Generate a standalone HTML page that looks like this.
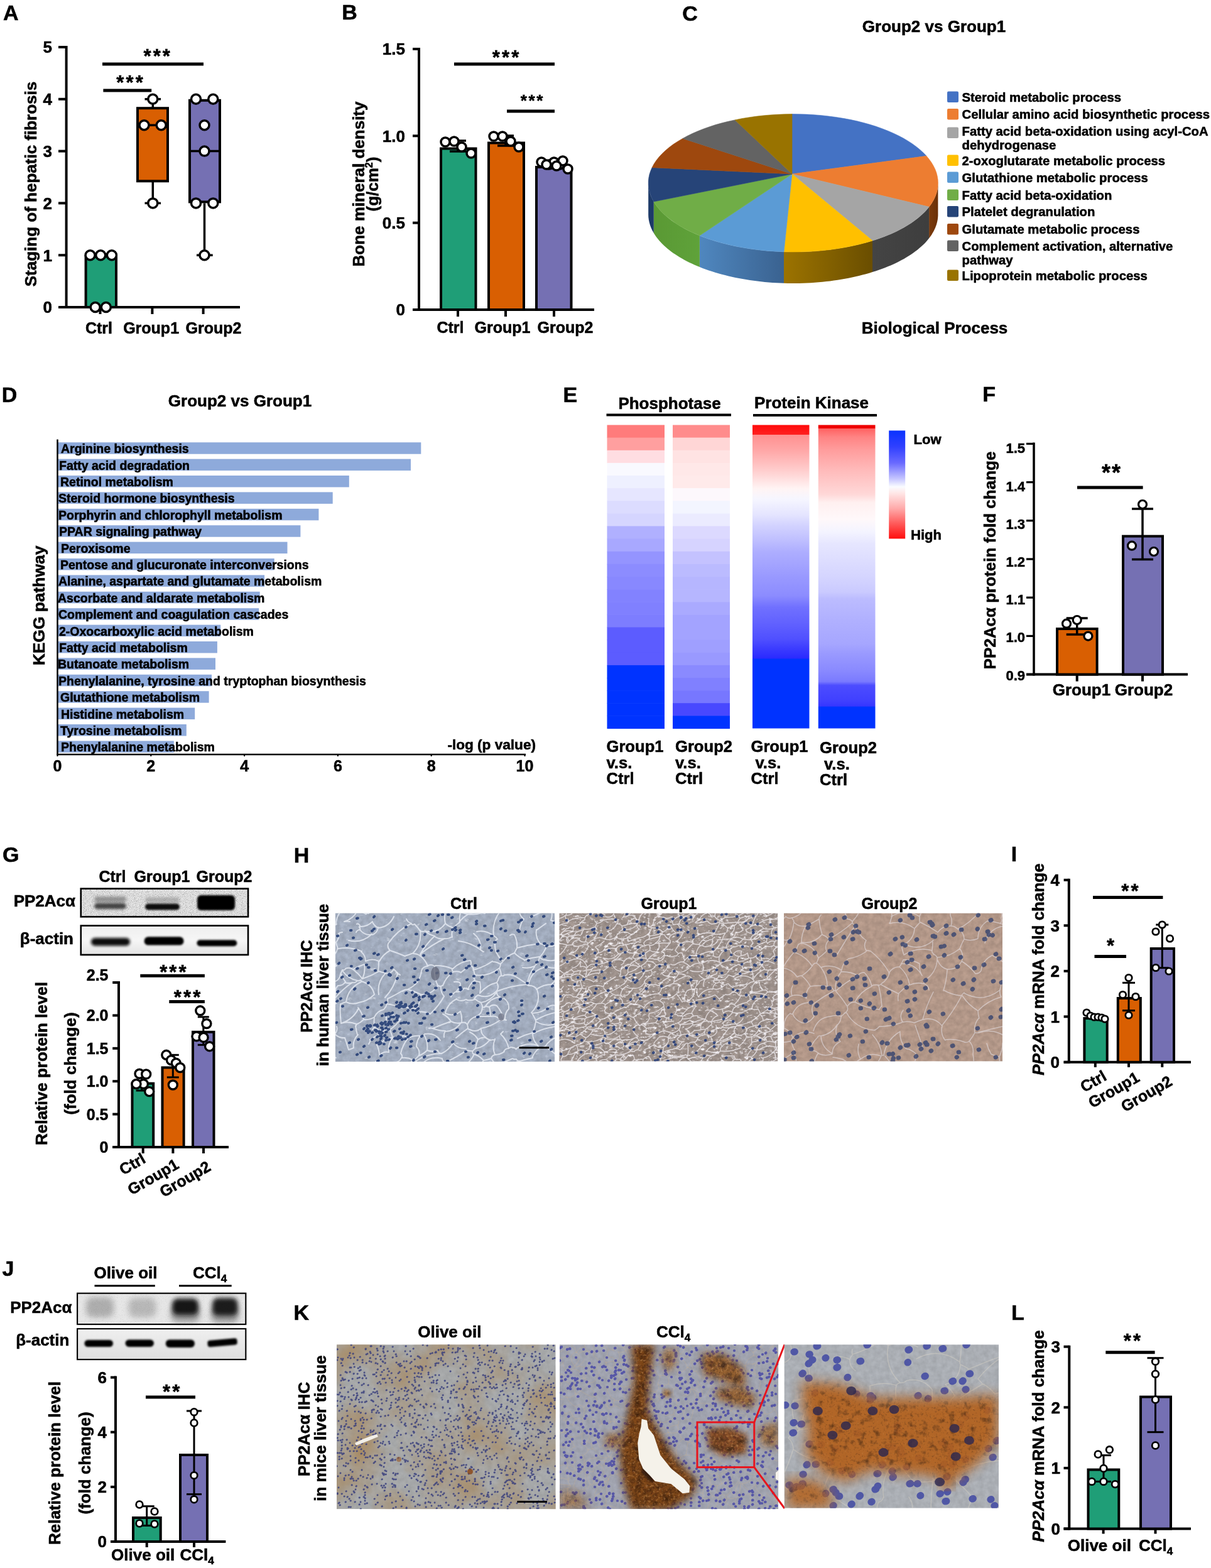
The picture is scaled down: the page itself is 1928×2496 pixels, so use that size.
<!DOCTYPE html>
<html><head><meta charset="utf-8"><title>Figure</title>
<style>html,body{margin:0;padding:0;background:#fff;}svg{display:block;}</style></head>
<body><svg width="1928" height="2496" viewBox="0 0 1928 2496" font-family="'Liberation Sans', Arial, sans-serif">
<style>text{stroke:#000;stroke-width:0.55px;paint-order:stroke;}</style>
<defs><linearGradient id="pg1" gradientUnits="userSpaceOnUse" x1="1479.1" y1="0" x2="1493.4" y2="0"><stop offset="0" stop-color="#7a3a0c"/><stop offset="1" stop-color="#6a3008"/></linearGradient>
<linearGradient id="pg2" gradientUnits="userSpaceOnUse" x1="1389.0" y1="0" x2="1479.1" y2="0"><stop offset="0" stop-color="#444444"/><stop offset="1" stop-color="#3e3e3e"/></linearGradient>
<linearGradient id="pg3" gradientUnits="userSpaceOnUse" x1="1248.0" y1="0" x2="1389.0" y2="0"><stop offset="0" stop-color="#9c7300"/><stop offset="1" stop-color="#6a4e00"/></linearGradient>
<linearGradient id="pg4" gradientUnits="userSpaceOnUse" x1="1113.9" y1="0" x2="1248.0" y2="0"><stop offset="0" stop-color="#4f87bf"/><stop offset="1" stop-color="#3a6290"/></linearGradient>
<linearGradient id="pg5" gradientUnits="userSpaceOnUse" x1="1040.8" y1="0" x2="1113.9" y2="0"><stop offset="0" stop-color="#5a9934"/><stop offset="1" stop-color="#5fa23a"/></linearGradient>
<linearGradient id="pg6" gradientUnits="userSpaceOnUse" x1="1032.2" y1="0" x2="1040.8" y2="0"><stop offset="0" stop-color="#1d3a68"/><stop offset="1" stop-color="#1d3a68"/></linearGradient>
<linearGradient id="hm3" x1="0" y1="0" x2="0" y2="1"><stop offset="0.0000" stop-color="#ff0a0a"/><stop offset="0.0311" stop-color="#ff2020"/><stop offset="0.0331" stop-color="#ff9090"/><stop offset="0.0859" stop-color="#ffa8a8"/><stop offset="0.1542" stop-color="#ffd0d0"/><stop offset="0.2101" stop-color="#fff4f4"/><stop offset="0.2433" stop-color="#f6f6ff"/><stop offset="0.2971" stop-color="#e4e4ff"/><stop offset="0.3282" stop-color="#d4d4ff"/><stop offset="0.3861" stop-color="#bcbcff"/><stop offset="0.4172" stop-color="#aeaeff"/><stop offset="0.5041" stop-color="#9898ff"/><stop offset="0.5621" stop-color="#8c8cff"/><stop offset="0.6014" stop-color="#7070ff"/><stop offset="0.6511" stop-color="#6262ff"/><stop offset="0.7050" stop-color="#5050ff"/><stop offset="0.7402" stop-color="#3a3aff"/><stop offset="0.7692" stop-color="#2a2aff"/><stop offset="0.7712" stop-color="#0033ff"/><stop offset="1.0000" stop-color="#0033ff"/></linearGradient>
<linearGradient id="hm4" x1="0" y1="0" x2="0" y2="1"><stop offset="0.0000" stop-color="#ee0000"/><stop offset="0.0104" stop-color="#ee0000"/><stop offset="0.0124" stop-color="#ff6262"/><stop offset="0.0404" stop-color="#ff8484"/><stop offset="0.0810" stop-color="#ff9c9c"/><stop offset="0.1480" stop-color="#ffbaba"/><stop offset="0.2288" stop-color="#ffd8d8"/><stop offset="0.2557" stop-color="#fff0f0"/><stop offset="0.3106" stop-color="#fff8fa"/><stop offset="0.3509" stop-color="#f4f4ff"/><stop offset="0.3915" stop-color="#e6e6ff"/><stop offset="0.5041" stop-color="#d4d4ff"/><stop offset="0.5509" stop-color="#cacaff"/><stop offset="0.5725" stop-color="#bcbcff"/><stop offset="0.6449" stop-color="#b0b0ff"/><stop offset="0.7215" stop-color="#a6a6ff"/><stop offset="0.7526" stop-color="#9a9aff"/><stop offset="0.8075" stop-color="#8a8aff"/><stop offset="0.8458" stop-color="#7a7aff"/><stop offset="0.8582" stop-color="#4c4cff"/><stop offset="0.9099" stop-color="#4040ff"/><stop offset="0.9265" stop-color="#3636ff"/><stop offset="0.9296" stop-color="#0033ff"/><stop offset="1.0000" stop-color="#0033ff"/></linearGradient>
<linearGradient id="cbar" x1="0" y1="0" x2="0" y2="1"><stop offset="0" stop-color="#0a33ff"/><stop offset="0.15" stop-color="#3040ff"/><stop offset="0.3" stop-color="#6a6aff"/><stop offset="0.45" stop-color="#c8c8ff"/><stop offset="0.52" stop-color="#fafcff"/><stop offset="0.58" stop-color="#ffe6e6"/><stop offset="0.72" stop-color="#ffaaaa"/><stop offset="0.86" stop-color="#ff5a5a"/><stop offset="1" stop-color="#ff0d0d"/></linearGradient>
<filter id="bl2" x="-30%" y="-60%" width="160%" height="220%"><feGaussianBlur stdDeviation="2.2"/></filter>
<filter id="bl3" x="-30%" y="-60%" width="160%" height="220%"><feGaussianBlur stdDeviation="3.2"/></filter>
<filter id="bl15" x="-30%" y="-60%" width="160%" height="220%"><feGaussianBlur stdDeviation="1.5"/></filter>
<filter id="nz1" filterUnits="userSpaceOnUse" x="127.5" y="1413.3" width="268.8" height="47.3" color-interpolation-filters="sRGB"><feTurbulence type="fractalNoise" baseFrequency="0.7" numOctaves="2" seed="5"/><feColorMatrix type="matrix" values="0 0 0 0 1.000 0 0 0 0 1.000 0 0 0 0 1.000 1.4 0 0 0 -0.55"/></filter>
<filter id="nz2" filterUnits="userSpaceOnUse" x="127.5" y="1413.3" width="268.8" height="47.3" color-interpolation-filters="sRGB"><feTurbulence type="fractalNoise" baseFrequency="0.9" numOctaves="2" seed="9"/><feColorMatrix type="matrix" values="0 0 0 0 0.000 0 0 0 0 0.000 0 0 0 0 0.000 0.9 0 0 0 -0.45"/></filter>
<linearGradient id="b2g" x1="0" y1="0" x2="0" y2="1"><stop offset="0" stop-color="#eeeeee"/><stop offset="0.5" stop-color="#f6f6f6"/><stop offset="1" stop-color="#e2e2e2"/></linearGradient>
<clipPath id="clip3"><rect x="533.8" y="1453.4" width="349.4" height="236.6"/></clipPath>
<filter id="nz4" filterUnits="userSpaceOnUse" x="533.8" y="1453.4" width="349.4" height="236.6" color-interpolation-filters="sRGB"><feTurbulence type="fractalNoise" baseFrequency="0.12" numOctaves="3" seed="18"/><feColorMatrix type="matrix" values="0 0 0 0 0.000 0 0 0 0 0.000 0 0 0 0 0.000 0.2 0 0 0 -0.03"/></filter>
<filter id="nz5" filterUnits="userSpaceOnUse" x="533.8" y="1453.4" width="349.4" height="236.6" color-interpolation-filters="sRGB"><feTurbulence type="turbulence" baseFrequency="0.08 0.128" numOctaves="3" seed="11"/><feColorMatrix type="matrix" values="0 0 0 0 0.933 0 0 0 0 0.949 0 0 0 0 0.973 1.7600000000000002 0 0 0 -1.0"/></filter>
<filter id="softb" x="-5%" y="-5%" width="110%" height="110%"><feGaussianBlur stdDeviation="0.7"/></filter>
<filter id="softn" x="-5%" y="-5%" width="110%" height="110%"><feGaussianBlur stdDeviation="0.45"/></filter>
<clipPath id="clip6"><rect x="890.3" y="1453.6" width="348.0" height="236.0"/></clipPath>
<filter id="nz7" filterUnits="userSpaceOnUse" x="890.3" y="1453.6" width="348.0" height="236.0" color-interpolation-filters="sRGB"><feTurbulence type="fractalNoise" baseFrequency="0.12" numOctaves="3" seed="19"/><feColorMatrix type="matrix" values="0 0 0 0 0.000 0 0 0 0 0.000 0 0 0 0 0.000 0.25 0 0 0 -0.03"/></filter>
<filter id="nz8" filterUnits="userSpaceOnUse" x="890.3" y="1453.6" width="348.0" height="236.0" color-interpolation-filters="sRGB"><feTurbulence type="turbulence" baseFrequency="0.13 0.20800000000000002" numOctaves="3" seed="12"/><feColorMatrix type="matrix" values="0 0 0 0 0.965 0 0 0 0 0.957 0 0 0 0 0.973 2.64 0 0 0 -1.0"/></filter>
<clipPath id="clip9"><rect x="1248.0" y="1453.6" width="348.0" height="236.0"/></clipPath>
<filter id="nz10" filterUnits="userSpaceOnUse" x="1248.0" y="1453.6" width="348.0" height="236.0" color-interpolation-filters="sRGB"><feTurbulence type="fractalNoise" baseFrequency="0.12" numOctaves="3" seed="20"/><feColorMatrix type="matrix" values="0 0 0 0 0.000 0 0 0 0 0.000 0 0 0 0 0.000 0.2 0 0 0 -0.03"/></filter>
<filter id="nz11" filterUnits="userSpaceOnUse" x="1248.0" y="1453.6" width="348.0" height="236.0" color-interpolation-filters="sRGB"><feTurbulence type="turbulence" baseFrequency="0.06 0.096" numOctaves="3" seed="13"/><feColorMatrix type="matrix" values="0 0 0 0 0.910 0 0 0 0 0.894 0 0 0 0 0.918 0.8800000000000001 0 0 0 -1.0"/></filter>
<filter id="bl5" x="-30%" y="-60%" width="160%" height="220%"><feGaussianBlur stdDeviation="5"/></filter>
<filter id="bl4" x="-30%" y="-60%" width="160%" height="220%"><feGaussianBlur stdDeviation="3.5"/></filter>
<filter id="nz12" filterUnits="userSpaceOnUse" x="122.1" y="2057.6" width="270.3" height="51.5" color-interpolation-filters="sRGB"><feTurbulence type="fractalNoise" baseFrequency="0.9" numOctaves="2" seed="21"/><feColorMatrix type="matrix" values="0 0 0 0 0.000 0 0 0 0 0.000 0 0 0 0 0.000 0.35 0 0 0 -0.2"/></filter>
<linearGradient id="j2g" x1="0" y1="0" x2="0" y2="1"><stop offset="0" stop-color="#f0f0f0"/><stop offset="1" stop-color="#dedede"/></linearGradient>
<clipPath id="clip13"><rect x="536.0" y="2140.3" width="348.7" height="262.0"/></clipPath>
<filter id="nz14" filterUnits="userSpaceOnUse" x="536.0" y="2140.3" width="348.7" height="262.0" color-interpolation-filters="sRGB"><feTurbulence type="fractalNoise" baseFrequency="0.12" numOctaves="3" seed="28"/><feColorMatrix type="matrix" values="0 0 0 0 0.000 0 0 0 0 0.000 0 0 0 0 0.000 0.12 0 0 0 -0.03"/></filter>
<filter id="nz15" filterUnits="userSpaceOnUse" x="536.0" y="2140.3" width="348.7" height="262.0" color-interpolation-filters="sRGB"><feTurbulence type="turbulence" baseFrequency="0.03 0.048" numOctaves="3" seed="21"/><feColorMatrix type="matrix" values="0 0 0 0 0.761 0 0 0 0 0.604 0 0 0 0 0.400 0.8800000000000001 0 0 0 -1.0"/></filter>
<filter id="nz16" filterUnits="userSpaceOnUse" x="536.0" y="2140.3" width="348.7" height="262.0" color-interpolation-filters="sRGB"><feTurbulence type="fractalNoise" baseFrequency="0.015" numOctaves="3" seed="78"/><feColorMatrix type="matrix" values="0 0 0 0 0.659 0 0 0 0 0.541 0 0 0 0 0.384 1.7 0 0 0 -0.6"/></filter>
<clipPath id="clip17"><rect x="891.0" y="2140.3" width="348.3" height="262.0"/></clipPath>
<filter id="nz18" filterUnits="userSpaceOnUse" x="891.0" y="2140.3" width="348.3" height="262.0" color-interpolation-filters="sRGB"><feTurbulence type="fractalNoise" baseFrequency="0.12" numOctaves="3" seed="29"/><feColorMatrix type="matrix" values="0 0 0 0 0.000 0 0 0 0 0.000 0 0 0 0 0.000 0.15 0 0 0 -0.03"/></filter>
<filter id="nz19" filterUnits="userSpaceOnUse" x="891.0" y="2140.3" width="348.3" height="262.0" color-interpolation-filters="sRGB"><feTurbulence type="turbulence" baseFrequency="0.04 0.064" numOctaves="3" seed="22"/><feColorMatrix type="matrix" values="0 0 0 0 0.824 0 0 0 0 0.706 0 0 0 0 0.529 1.1 0 0 0 -1.0"/></filter>
<filter id="mb20" x="-20%" y="-20%" width="140%" height="140%"><feGaussianBlur stdDeviation="6"/></filter>
<mask id="mk20" maskUnits="userSpaceOnUse" x="891" y="2140.3" width="348.3" height="262"><path d="M1004.5,2140.3 L1042.9,2140.3 L1034.4,2199.0 L1032.2,2246.0 L1051.5,2282.2 L1077.1,2322.8 L1111.2,2356.9 L1102.7,2380.4 L1066.4,2403.9 L1004.5,2403.9 L991.7,2359.1 L985.3,2310.0 L996.0,2263.0 L1008.8,2199.0Z" fill="#fff" filter="url(#mb20)"/></mask>
<filter id="nz21" filterUnits="userSpaceOnUse" x="891.0" y="2140.3" width="348.3" height="262.0" color-interpolation-filters="sRGB"><feTurbulence type="fractalNoise" baseFrequency="0.09" numOctaves="3" seed="31"/><feColorMatrix type="matrix" values="0 0 0 0 0.227 0 0 0 0 0.102 0 0 0 0 0.016 2.4 0 0 0 -1.05"/></filter>
<filter id="nz22" filterUnits="userSpaceOnUse" x="891.0" y="2140.3" width="348.3" height="262.0" color-interpolation-filters="sRGB"><feTurbulence type="fractalNoise" baseFrequency="0.3" numOctaves="2" seed="36"/><feColorMatrix type="matrix" values="0 0 0 0 0.227 0 0 0 0 0.102 0 0 0 0 0.016 1.6 0 0 0 -0.75"/></filter>
<filter id="nz23" filterUnits="userSpaceOnUse" x="891.0" y="2140.3" width="348.3" height="262.0" color-interpolation-filters="sRGB"><feTurbulence type="fractalNoise" baseFrequency="0.25" numOctaves="2" seed="34"/><feColorMatrix type="matrix" values="0 0 0 0 0.847 0 0 0 0 0.604 0 0 0 0 0.345 1.8 0 0 0 -1.0"/></filter>
<filter id="mb24" x="-20%" y="-20%" width="140%" height="140%"><feGaussianBlur stdDeviation="6"/></filter>
<mask id="mk24" maskUnits="userSpaceOnUse" x="891" y="2140.3" width="348.3" height="262"><path d="M1115.5,2154.2 L1151.8,2154.2 L1183.8,2177.7 L1188.0,2205.4 L1173.1,2207.6 L1151.8,2199.0 L1119.7,2188.4Z" fill="#fff" filter="url(#mb24)"/></mask>
<filter id="nz25" filterUnits="userSpaceOnUse" x="891.0" y="2140.3" width="348.3" height="262.0" color-interpolation-filters="sRGB"><feTurbulence type="fractalNoise" baseFrequency="0.09" numOctaves="3" seed="32"/><feColorMatrix type="matrix" values="0 0 0 0 0.227 0 0 0 0 0.102 0 0 0 0 0.016 2.4 0 0 0 -1.05"/></filter>
<filter id="nz26" filterUnits="userSpaceOnUse" x="891.0" y="2140.3" width="348.3" height="262.0" color-interpolation-filters="sRGB"><feTurbulence type="fractalNoise" baseFrequency="0.3" numOctaves="2" seed="37"/><feColorMatrix type="matrix" values="0 0 0 0 0.227 0 0 0 0 0.102 0 0 0 0 0.016 1.6 0 0 0 -0.75"/></filter>
<filter id="nz27" filterUnits="userSpaceOnUse" x="891.0" y="2140.3" width="348.3" height="262.0" color-interpolation-filters="sRGB"><feTurbulence type="fractalNoise" baseFrequency="0.25" numOctaves="2" seed="35"/><feColorMatrix type="matrix" values="0 0 0 0 0.847 0 0 0 0 0.604 0 0 0 0 0.345 1.8 0 0 0 -1.0"/></filter>
<filter id="mb28" x="-20%" y="-20%" width="140%" height="140%"><feGaussianBlur stdDeviation="6"/></filter>
<mask id="mk28" maskUnits="userSpaceOnUse" x="891" y="2140.3" width="348.3" height="262"><path d="M1141.1,2209.7 L1179.5,2205.4 L1205.1,2224.6 L1196.6,2241.7 L1162.4,2235.3 L1138.9,2224.6Z" fill="#fff" filter="url(#mb28)"/></mask>
<filter id="nz29" filterUnits="userSpaceOnUse" x="891.0" y="2140.3" width="348.3" height="262.0" color-interpolation-filters="sRGB"><feTurbulence type="fractalNoise" baseFrequency="0.09" numOctaves="3" seed="33"/><feColorMatrix type="matrix" values="0 0 0 0 0.227 0 0 0 0 0.102 0 0 0 0 0.016 2.4 0 0 0 -1.05"/></filter>
<filter id="nz30" filterUnits="userSpaceOnUse" x="891.0" y="2140.3" width="348.3" height="262.0" color-interpolation-filters="sRGB"><feTurbulence type="fractalNoise" baseFrequency="0.3" numOctaves="2" seed="38"/><feColorMatrix type="matrix" values="0 0 0 0 0.227 0 0 0 0 0.102 0 0 0 0 0.016 1.6 0 0 0 -0.75"/></filter>
<filter id="nz31" filterUnits="userSpaceOnUse" x="891.0" y="2140.3" width="348.3" height="262.0" color-interpolation-filters="sRGB"><feTurbulence type="fractalNoise" baseFrequency="0.25" numOctaves="2" seed="36"/><feColorMatrix type="matrix" values="0 0 0 0 0.847 0 0 0 0 0.604 0 0 0 0 0.345 1.8 0 0 0 -1.0"/></filter>
<filter id="mb32" x="-20%" y="-20%" width="140%" height="140%"><feGaussianBlur stdDeviation="5"/></filter>
<mask id="mk32" maskUnits="userSpaceOnUse" x="891" y="2140.3" width="348.3" height="262"><path d="M1124.0,2273.7 L1162.4,2271.6 L1190.2,2284.4 L1188.0,2314.3 L1151.8,2318.5 L1128.3,2305.7Z" fill="#fff" filter="url(#mb32)"/></mask>
<filter id="nz33" filterUnits="userSpaceOnUse" x="891.0" y="2140.3" width="348.3" height="262.0" color-interpolation-filters="sRGB"><feTurbulence type="fractalNoise" baseFrequency="0.09" numOctaves="3" seed="34"/><feColorMatrix type="matrix" values="0 0 0 0 0.227 0 0 0 0 0.102 0 0 0 0 0.016 2.4 0 0 0 -1.05"/></filter>
<filter id="nz34" filterUnits="userSpaceOnUse" x="891.0" y="2140.3" width="348.3" height="262.0" color-interpolation-filters="sRGB"><feTurbulence type="fractalNoise" baseFrequency="0.3" numOctaves="2" seed="39"/><feColorMatrix type="matrix" values="0 0 0 0 0.227 0 0 0 0 0.102 0 0 0 0 0.016 1.6 0 0 0 -0.75"/></filter>
<filter id="nz35" filterUnits="userSpaceOnUse" x="891.0" y="2140.3" width="348.3" height="262.0" color-interpolation-filters="sRGB"><feTurbulence type="fractalNoise" baseFrequency="0.25" numOctaves="2" seed="37"/><feColorMatrix type="matrix" values="0 0 0 0 0.847 0 0 0 0 0.604 0 0 0 0 0.345 1.8 0 0 0 -1.0"/></filter>
<filter id="mb36" x="-20%" y="-20%" width="140%" height="140%"><feGaussianBlur stdDeviation="6"/></filter>
<mask id="mk36" maskUnits="userSpaceOnUse" x="891" y="2140.3" width="348.3" height="262"><path d="M1055.7,2147.8 L1077.1,2147.8 L1072.8,2177.7 L1060.0,2184.1 L1053.6,2167.0Z" fill="#fff" filter="url(#mb36)"/></mask>
<filter id="nz37" filterUnits="userSpaceOnUse" x="891.0" y="2140.3" width="348.3" height="262.0" color-interpolation-filters="sRGB"><feTurbulence type="fractalNoise" baseFrequency="0.09" numOctaves="3" seed="35"/><feColorMatrix type="matrix" values="0 0 0 0 0.227 0 0 0 0 0.102 0 0 0 0 0.016 2.4 0 0 0 -1.05"/></filter>
<filter id="nz38" filterUnits="userSpaceOnUse" x="891.0" y="2140.3" width="348.3" height="262.0" color-interpolation-filters="sRGB"><feTurbulence type="fractalNoise" baseFrequency="0.3" numOctaves="2" seed="40"/><feColorMatrix type="matrix" values="0 0 0 0 0.227 0 0 0 0 0.102 0 0 0 0 0.016 1.6 0 0 0 -0.75"/></filter>
<filter id="nz39" filterUnits="userSpaceOnUse" x="891.0" y="2140.3" width="348.3" height="262.0" color-interpolation-filters="sRGB"><feTurbulence type="fractalNoise" baseFrequency="0.25" numOctaves="2" seed="38"/><feColorMatrix type="matrix" values="0 0 0 0 0.847 0 0 0 0 0.604 0 0 0 0 0.345 1.8 0 0 0 -1.0"/></filter>
<filter id="mb40" x="-20%" y="-20%" width="140%" height="140%"><feGaussianBlur stdDeviation="6"/></filter>
<mask id="mk40" maskUnits="userSpaceOnUse" x="891" y="2140.3" width="348.3" height="262"><path d="M1205.1,2273.7 L1239.2,2263.0 L1239.2,2305.7 L1213.6,2301.5Z" fill="#fff" filter="url(#mb40)"/></mask>
<filter id="nz41" filterUnits="userSpaceOnUse" x="891.0" y="2140.3" width="348.3" height="262.0" color-interpolation-filters="sRGB"><feTurbulence type="fractalNoise" baseFrequency="0.09" numOctaves="3" seed="36"/><feColorMatrix type="matrix" values="0 0 0 0 0.227 0 0 0 0 0.102 0 0 0 0 0.016 2.4 0 0 0 -1.05"/></filter>
<filter id="nz42" filterUnits="userSpaceOnUse" x="891.0" y="2140.3" width="348.3" height="262.0" color-interpolation-filters="sRGB"><feTurbulence type="fractalNoise" baseFrequency="0.3" numOctaves="2" seed="41"/><feColorMatrix type="matrix" values="0 0 0 0 0.227 0 0 0 0 0.102 0 0 0 0 0.016 1.6 0 0 0 -0.75"/></filter>
<filter id="nz43" filterUnits="userSpaceOnUse" x="891.0" y="2140.3" width="348.3" height="262.0" color-interpolation-filters="sRGB"><feTurbulence type="fractalNoise" baseFrequency="0.25" numOctaves="2" seed="39"/><feColorMatrix type="matrix" values="0 0 0 0 0.847 0 0 0 0 0.604 0 0 0 0 0.345 1.8 0 0 0 -1.0"/></filter>
<filter id="mb44" x="-20%" y="-20%" width="140%" height="140%"><feGaussianBlur stdDeviation="6"/></filter>
<mask id="mk44" maskUnits="userSpaceOnUse" x="891" y="2140.3" width="348.3" height="262"><path d="M961.8,2284.4 L987.4,2280.1 L991.7,2301.5 L966.1,2305.7Z" fill="#fff" filter="url(#mb44)"/></mask>
<filter id="nz45" filterUnits="userSpaceOnUse" x="891.0" y="2140.3" width="348.3" height="262.0" color-interpolation-filters="sRGB"><feTurbulence type="fractalNoise" baseFrequency="0.09" numOctaves="3" seed="37"/><feColorMatrix type="matrix" values="0 0 0 0 0.227 0 0 0 0 0.102 0 0 0 0 0.016 2.4 0 0 0 -1.05"/></filter>
<filter id="nz46" filterUnits="userSpaceOnUse" x="891.0" y="2140.3" width="348.3" height="262.0" color-interpolation-filters="sRGB"><feTurbulence type="fractalNoise" baseFrequency="0.3" numOctaves="2" seed="42"/><feColorMatrix type="matrix" values="0 0 0 0 0.227 0 0 0 0 0.102 0 0 0 0 0.016 1.6 0 0 0 -0.75"/></filter>
<filter id="nz47" filterUnits="userSpaceOnUse" x="891.0" y="2140.3" width="348.3" height="262.0" color-interpolation-filters="sRGB"><feTurbulence type="fractalNoise" baseFrequency="0.25" numOctaves="2" seed="40"/><feColorMatrix type="matrix" values="0 0 0 0 0.847 0 0 0 0 0.604 0 0 0 0 0.345 1.8 0 0 0 -1.0"/></filter>
<filter id="mb48" x="-20%" y="-20%" width="140%" height="140%"><feGaussianBlur stdDeviation="8"/></filter>
<mask id="mk48" maskUnits="userSpaceOnUse" x="891" y="2140.3" width="348.3" height="262"><path d="M891.4,2369.7 L927.7,2380.4 L938.4,2401.8 L891.4,2401.8Z" fill="#fff" filter="url(#mb48)"/></mask>
<filter id="nz49" filterUnits="userSpaceOnUse" x="891.0" y="2140.3" width="348.3" height="262.0" color-interpolation-filters="sRGB"><feTurbulence type="fractalNoise" baseFrequency="0.09" numOctaves="3" seed="38"/><feColorMatrix type="matrix" values="0 0 0 0 0.227 0 0 0 0 0.102 0 0 0 0 0.016 2.4 0 0 0 -1.05"/></filter>
<filter id="nz50" filterUnits="userSpaceOnUse" x="891.0" y="2140.3" width="348.3" height="262.0" color-interpolation-filters="sRGB"><feTurbulence type="fractalNoise" baseFrequency="0.3" numOctaves="2" seed="43"/><feColorMatrix type="matrix" values="0 0 0 0 0.227 0 0 0 0 0.102 0 0 0 0 0.016 1.6 0 0 0 -0.75"/></filter>
<filter id="nz51" filterUnits="userSpaceOnUse" x="891.0" y="2140.3" width="348.3" height="262.0" color-interpolation-filters="sRGB"><feTurbulence type="fractalNoise" baseFrequency="0.25" numOctaves="2" seed="41"/><feColorMatrix type="matrix" values="0 0 0 0 0.847 0 0 0 0 0.604 0 0 0 0 0.345 1.8 0 0 0 -1.0"/></filter>
<filter id="mb52" x="-20%" y="-20%" width="140%" height="140%"><feGaussianBlur stdDeviation="3"/></filter>
<mask id="mk52" maskUnits="userSpaceOnUse" x="891" y="2140.3" width="348.3" height="262"><path d="M1055.7,2211.8 L1068.5,2214.0 L1066.4,2224.6 L1055.7,2222.5Z" fill="#fff" filter="url(#mb52)"/></mask>
<filter id="nz53" filterUnits="userSpaceOnUse" x="891.0" y="2140.3" width="348.3" height="262.0" color-interpolation-filters="sRGB"><feTurbulence type="fractalNoise" baseFrequency="0.09" numOctaves="3" seed="39"/><feColorMatrix type="matrix" values="0 0 0 0 0.227 0 0 0 0 0.102 0 0 0 0 0.016 2.4 0 0 0 -1.05"/></filter>
<filter id="nz54" filterUnits="userSpaceOnUse" x="891.0" y="2140.3" width="348.3" height="262.0" color-interpolation-filters="sRGB"><feTurbulence type="fractalNoise" baseFrequency="0.3" numOctaves="2" seed="44"/><feColorMatrix type="matrix" values="0 0 0 0 0.227 0 0 0 0 0.102 0 0 0 0 0.016 1.6 0 0 0 -0.75"/></filter>
<filter id="nz55" filterUnits="userSpaceOnUse" x="891.0" y="2140.3" width="348.3" height="262.0" color-interpolation-filters="sRGB"><feTurbulence type="fractalNoise" baseFrequency="0.25" numOctaves="2" seed="42"/><feColorMatrix type="matrix" values="0 0 0 0 0.847 0 0 0 0 0.604 0 0 0 0 0.345 1.8 0 0 0 -1.0"/></filter>
<clipPath id="clip56"><rect x="1248.5" y="2140.3" width="341.5" height="260.4"/></clipPath>
<filter id="nz57" filterUnits="userSpaceOnUse" x="1248.5" y="2140.3" width="341.5" height="260.4" color-interpolation-filters="sRGB"><feTurbulence type="fractalNoise" baseFrequency="0.12" numOctaves="3" seed="30"/><feColorMatrix type="matrix" values="0 0 0 0 0.000 0 0 0 0 0.000 0 0 0 0 0.000 0.15 0 0 0 -0.03"/></filter>
<filter id="nz58" filterUnits="userSpaceOnUse" x="1248.5" y="2140.3" width="341.5" height="260.4" color-interpolation-filters="sRGB"><feTurbulence type="turbulence" baseFrequency="0.03 0.048" numOctaves="3" seed="23"/><feColorMatrix type="matrix" values="0 0 0 0 0.894 0 0 0 0 0.863 0 0 0 0 0.800 0.66 0 0 0 -1.0"/></filter>
<filter id="mb59" x="-20%" y="-20%" width="140%" height="140%"><feGaussianBlur stdDeviation="10"/></filter>
<mask id="mk59" maskUnits="userSpaceOnUse" x="1248.5" y="2140.3" width="341.5" height="260.4"><path d="M1276.3,2199.0 L1336.0,2203.3 L1389.4,2224.6 L1453.4,2224.6 L1517.4,2224.6 L1590.0,2220.4 L1590.0,2295.1 L1560.1,2327.1 L1517.4,2359.1 L1474.7,2348.4 L1432.1,2346.3 L1389.4,2339.9 L1346.7,2359.1 L1314.7,2348.4 L1282.7,2316.4 L1286.9,2273.7 L1278.4,2241.7Z" fill="#fff" filter="url(#mb59)"/></mask>
<filter id="nz60" filterUnits="userSpaceOnUse" x="1248.5" y="2140.3" width="341.5" height="260.4" color-interpolation-filters="sRGB"><feTurbulence type="fractalNoise" baseFrequency="0.09" numOctaves="3" seed="41"/><feColorMatrix type="matrix" values="0 0 0 0 0.227 0 0 0 0 0.102 0 0 0 0 0.016 1.92 0 0 0 -1.05"/></filter>
<filter id="nz61" filterUnits="userSpaceOnUse" x="1248.5" y="2140.3" width="341.5" height="260.4" color-interpolation-filters="sRGB"><feTurbulence type="fractalNoise" baseFrequency="0.3" numOctaves="2" seed="46"/><feColorMatrix type="matrix" values="0 0 0 0 0.227 0 0 0 0 0.102 0 0 0 0 0.016 1.2800000000000002 0 0 0 -0.75"/></filter>
<filter id="nz62" filterUnits="userSpaceOnUse" x="1248.5" y="2140.3" width="341.5" height="260.4" color-interpolation-filters="sRGB"><feTurbulence type="fractalNoise" baseFrequency="0.25" numOctaves="2" seed="44"/><feColorMatrix type="matrix" values="0 0 0 0 0.847 0 0 0 0 0.604 0 0 0 0 0.345 1.4400000000000002 0 0 0 -1.0"/></filter>
<filter id="mb63" x="-20%" y="-20%" width="140%" height="140%"><feGaussianBlur stdDeviation="10"/></filter>
<mask id="mk63" maskUnits="userSpaceOnUse" x="1248.5" y="2140.3" width="341.5" height="260.4"><path d="M1252.8,2352.7 L1304.0,2356.9 L1325.4,2380.4 L1325.4,2401.8 L1252.8,2401.8Z" fill="#fff" filter="url(#mb63)"/></mask>
<filter id="nz64" filterUnits="userSpaceOnUse" x="1248.5" y="2140.3" width="341.5" height="260.4" color-interpolation-filters="sRGB"><feTurbulence type="fractalNoise" baseFrequency="0.09" numOctaves="3" seed="42"/><feColorMatrix type="matrix" values="0 0 0 0 0.227 0 0 0 0 0.102 0 0 0 0 0.016 1.92 0 0 0 -1.05"/></filter>
<filter id="nz65" filterUnits="userSpaceOnUse" x="1248.5" y="2140.3" width="341.5" height="260.4" color-interpolation-filters="sRGB"><feTurbulence type="fractalNoise" baseFrequency="0.3" numOctaves="2" seed="47"/><feColorMatrix type="matrix" values="0 0 0 0 0.227 0 0 0 0 0.102 0 0 0 0 0.016 1.2800000000000002 0 0 0 -0.75"/></filter>
<filter id="nz66" filterUnits="userSpaceOnUse" x="1248.5" y="2140.3" width="341.5" height="260.4" color-interpolation-filters="sRGB"><feTurbulence type="fractalNoise" baseFrequency="0.25" numOctaves="2" seed="45"/><feColorMatrix type="matrix" values="0 0 0 0 0.847 0 0 0 0 0.604 0 0 0 0 0.345 1.4400000000000002 0 0 0 -1.0"/></filter>
<filter id="mb67" x="-20%" y="-20%" width="140%" height="140%"><feGaussianBlur stdDeviation="8"/></filter>
<mask id="mk67" maskUnits="userSpaceOnUse" x="1248.5" y="2140.3" width="341.5" height="260.4"><path d="M1496.1,2348.4 L1517.4,2348.4 L1517.4,2369.7 L1496.1,2369.7Z" fill="#fff" filter="url(#mb67)"/></mask>
<filter id="nz68" filterUnits="userSpaceOnUse" x="1248.5" y="2140.3" width="341.5" height="260.4" color-interpolation-filters="sRGB"><feTurbulence type="fractalNoise" baseFrequency="0.09" numOctaves="3" seed="43"/><feColorMatrix type="matrix" values="0 0 0 0 0.227 0 0 0 0 0.102 0 0 0 0 0.016 1.92 0 0 0 -1.05"/></filter>
<filter id="nz69" filterUnits="userSpaceOnUse" x="1248.5" y="2140.3" width="341.5" height="260.4" color-interpolation-filters="sRGB"><feTurbulence type="fractalNoise" baseFrequency="0.3" numOctaves="2" seed="48"/><feColorMatrix type="matrix" values="0 0 0 0 0.227 0 0 0 0 0.102 0 0 0 0 0.016 1.2800000000000002 0 0 0 -0.75"/></filter>
<filter id="nz70" filterUnits="userSpaceOnUse" x="1248.5" y="2140.3" width="341.5" height="260.4" color-interpolation-filters="sRGB"><feTurbulence type="fractalNoise" baseFrequency="0.25" numOctaves="2" seed="46"/><feColorMatrix type="matrix" values="0 0 0 0 0.847 0 0 0 0 0.604 0 0 0 0 0.345 1.4400000000000002 0 0 0 -1.0"/></filter></defs>
<rect width="1928" height="2496" fill="#fff"/>
<text x="5.0" y="31.6" font-size="34" text-anchor="start" font-weight="bold" fill="#000">A</text>
<line x1="105.6" y1="73.0" x2="105.6" y2="491.0" stroke="#000" stroke-width="4" stroke-linecap="butt"/>
<line x1="93.0" y1="489.0" x2="105.6" y2="489.0" stroke="#000" stroke-width="4" stroke-linecap="butt"/>
<text x="83.0" y="498.4" font-size="26" text-anchor="end" font-weight="bold" fill="#000">0</text>
<line x1="93.0" y1="406.2" x2="105.6" y2="406.2" stroke="#000" stroke-width="4" stroke-linecap="butt"/>
<text x="83.0" y="415.6" font-size="26" text-anchor="end" font-weight="bold" fill="#000">1</text>
<line x1="93.0" y1="323.4" x2="105.6" y2="323.4" stroke="#000" stroke-width="4" stroke-linecap="butt"/>
<text x="83.0" y="332.8" font-size="26" text-anchor="end" font-weight="bold" fill="#000">2</text>
<line x1="93.0" y1="240.6" x2="105.6" y2="240.6" stroke="#000" stroke-width="4" stroke-linecap="butt"/>
<text x="83.0" y="250.0" font-size="26" text-anchor="end" font-weight="bold" fill="#000">3</text>
<line x1="93.0" y1="157.8" x2="105.6" y2="157.8" stroke="#000" stroke-width="4" stroke-linecap="butt"/>
<text x="83.0" y="167.2" font-size="26" text-anchor="end" font-weight="bold" fill="#000">4</text>
<line x1="93.0" y1="75.0" x2="105.6" y2="75.0" stroke="#000" stroke-width="4" stroke-linecap="butt"/>
<text x="83.0" y="84.4" font-size="26" text-anchor="end" font-weight="bold" fill="#000">5</text>
<line x1="93.0" y1="489.0" x2="382.0" y2="489.0" stroke="#000" stroke-width="4" stroke-linecap="butt"/>
<line x1="159.5" y1="489.0" x2="159.5" y2="500.0" stroke="#000" stroke-width="4" stroke-linecap="butt"/>
<line x1="242.4" y1="489.0" x2="242.4" y2="500.0" stroke="#000" stroke-width="4" stroke-linecap="butt"/>
<line x1="323.6" y1="489.0" x2="323.6" y2="500.0" stroke="#000" stroke-width="4" stroke-linecap="butt"/>
<rect x="136.6" y="408.2" width="48.4" height="80.8" fill="#1f9e77" stroke="#000" stroke-width="4"/>
<circle cx="143.6" cy="406.2" r="7.5" fill="#fff" stroke="#000" stroke-width="3.5"/>
<circle cx="160.2" cy="406.2" r="7.5" fill="#fff" stroke="#000" stroke-width="3.5"/>
<circle cx="177.9" cy="406.2" r="7.5" fill="#fff" stroke="#000" stroke-width="3.5"/>
<circle cx="151.7" cy="489.0" r="7.5" fill="#fff" stroke="#000" stroke-width="3.5"/>
<circle cx="168.8" cy="489.0" r="7.5" fill="#fff" stroke="#000" stroke-width="3.5"/>
<line x1="243.3" y1="157.8" x2="243.3" y2="323.4" stroke="#000" stroke-width="3.5" stroke-linecap="butt"/>
<line x1="230.5" y1="157.8" x2="256.0" y2="157.8" stroke="#000" stroke-width="3.5" stroke-linecap="butt"/>
<line x1="230.5" y1="323.4" x2="256.0" y2="323.4" stroke="#000" stroke-width="3.5" stroke-linecap="butt"/>
<rect x="219" y="172.2" width="48" height="116.1" fill="#d95f02" stroke="#000" stroke-width="4"/>
<line x1="219.0" y1="199.2" x2="267.0" y2="199.2" stroke="#000" stroke-width="3.5" stroke-linecap="butt"/>
<circle cx="243.3" cy="157.8" r="7.5" fill="#fff" stroke="#000" stroke-width="3.5"/>
<circle cx="243.3" cy="323.4" r="7.5" fill="#fff" stroke="#000" stroke-width="3.5"/>
<circle cx="229.5" cy="199.2" r="7.5" fill="#fff" stroke="#000" stroke-width="3.5"/>
<circle cx="256.7" cy="199.2" r="7.5" fill="#fff" stroke="#000" stroke-width="3.5"/>
<line x1="325.5" y1="323.4" x2="325.5" y2="406.2" stroke="#000" stroke-width="3.5" stroke-linecap="butt"/>
<line x1="313.0" y1="406.2" x2="338.7" y2="406.2" stroke="#000" stroke-width="3.5" stroke-linecap="butt"/>
<rect x="302" y="159.8" width="48" height="161.6" fill="#7570b3" stroke="#000" stroke-width="4"/>
<line x1="302.0" y1="240.6" x2="350.0" y2="240.6" stroke="#000" stroke-width="3.5" stroke-linecap="butt"/>
<circle cx="312.0" cy="157.8" r="7.5" fill="#fff" stroke="#000" stroke-width="3.5"/>
<circle cx="339.3" cy="157.8" r="7.5" fill="#fff" stroke="#000" stroke-width="3.5"/>
<circle cx="325.5" cy="199.2" r="7.5" fill="#fff" stroke="#000" stroke-width="3.5"/>
<circle cx="325.5" cy="240.6" r="7.5" fill="#fff" stroke="#000" stroke-width="3.5"/>
<circle cx="312.0" cy="323.4" r="7.5" fill="#fff" stroke="#000" stroke-width="3.5"/>
<circle cx="339.3" cy="323.4" r="7.5" fill="#fff" stroke="#000" stroke-width="3.5"/>
<circle cx="325.5" cy="406.2" r="7.5" fill="#fff" stroke="#000" stroke-width="3.5"/>
<line x1="163.0" y1="102.0" x2="324.0" y2="102.0" stroke="#000" stroke-width="5" stroke-linecap="butt"/>
<text x="234.5" y="100.2" font-size="31" text-anchor="middle" font-weight="bold" fill="#000">*</text>
<text x="249.7" y="100.2" font-size="31" text-anchor="middle" font-weight="bold" fill="#000">*</text>
<text x="264.9" y="100.2" font-size="31" text-anchor="middle" font-weight="bold" fill="#000">*</text>
<line x1="164.4" y1="144.0" x2="241.2" y2="144.0" stroke="#000" stroke-width="5" stroke-linecap="butt"/>
<text x="191.3" y="141.7" font-size="31" text-anchor="middle" font-weight="bold" fill="#000">*</text>
<text x="206.5" y="141.7" font-size="31" text-anchor="middle" font-weight="bold" fill="#000">*</text>
<text x="221.7" y="141.7" font-size="31" text-anchor="middle" font-weight="bold" fill="#000">*</text>
<text x="157.5" y="531.0" font-size="25" text-anchor="middle" font-weight="bold" fill="#000">Ctrl</text>
<text x="240.6" y="531.0" font-size="25" text-anchor="middle" font-weight="bold" fill="#000">Group1</text>
<text x="340.0" y="531.0" font-size="25" text-anchor="middle" font-weight="bold" fill="#000">Group2</text>
<text x="57.7" y="293.0" font-size="26" text-anchor="middle" font-weight="bold" fill="#000" transform="rotate(-90 57.7 293.0)">Staging of hepatic fibrosis</text>
<text x="544.3" y="31.4" font-size="34" text-anchor="start" font-weight="bold" fill="#000">B</text>
<line x1="667.0" y1="76.0" x2="667.0" y2="495.0" stroke="#000" stroke-width="4" stroke-linecap="butt"/>
<line x1="657.0" y1="78.0" x2="667.0" y2="78.0" stroke="#000" stroke-width="4" stroke-linecap="butt"/>
<text x="645.0" y="87.4" font-size="26" text-anchor="end" font-weight="bold" fill="#000">1.5</text>
<line x1="657.0" y1="216.3" x2="667.0" y2="216.3" stroke="#000" stroke-width="4" stroke-linecap="butt"/>
<text x="645.0" y="225.7" font-size="26" text-anchor="end" font-weight="bold" fill="#000">1.0</text>
<line x1="657.0" y1="354.7" x2="667.0" y2="354.7" stroke="#000" stroke-width="4" stroke-linecap="butt"/>
<text x="645.0" y="364.0" font-size="26" text-anchor="end" font-weight="bold" fill="#000">0.5</text>
<line x1="657.0" y1="493.0" x2="667.0" y2="493.0" stroke="#000" stroke-width="4" stroke-linecap="butt"/>
<text x="645.0" y="502.4" font-size="26" text-anchor="end" font-weight="bold" fill="#000">0</text>
<line x1="657.0" y1="493.0" x2="946.0" y2="493.0" stroke="#000" stroke-width="4" stroke-linecap="butt"/>
<line x1="729.0" y1="493.0" x2="729.0" y2="504.0" stroke="#000" stroke-width="4" stroke-linecap="butt"/>
<line x1="805.0" y1="493.0" x2="805.0" y2="504.0" stroke="#000" stroke-width="4" stroke-linecap="butt"/>
<line x1="882.0" y1="493.0" x2="882.0" y2="504.0" stroke="#000" stroke-width="4" stroke-linecap="butt"/>
<rect x="702.0" y="236.5" width="55.5" height="256.5" fill="#1f9e77" stroke="#000" stroke-width="4"/>
<rect x="778.0" y="227.5" width="56.0" height="265.5" fill="#d95f02" stroke="#000" stroke-width="4"/>
<rect x="854.0" y="266.0" width="55.5" height="227.0" fill="#7570b3" stroke="#000" stroke-width="4"/>
<line x1="729.0" y1="224.0" x2="729.0" y2="241.0" stroke="#000" stroke-width="3.5" stroke-linecap="butt"/>
<line x1="716.0" y1="224.0" x2="742.0" y2="224.0" stroke="#000" stroke-width="3.5" stroke-linecap="butt"/>
<line x1="716.0" y1="241.0" x2="742.0" y2="241.0" stroke="#000" stroke-width="3.5" stroke-linecap="butt"/>
<line x1="805.0" y1="216.0" x2="805.0" y2="232.0" stroke="#000" stroke-width="3.5" stroke-linecap="butt"/>
<line x1="792.0" y1="216.0" x2="818.0" y2="216.0" stroke="#000" stroke-width="3.5" stroke-linecap="butt"/>
<line x1="792.0" y1="232.0" x2="818.0" y2="232.0" stroke="#000" stroke-width="3.5" stroke-linecap="butt"/>
<line x1="882.0" y1="256.0" x2="882.0" y2="268.0" stroke="#000" stroke-width="3.5" stroke-linecap="butt"/>
<line x1="869.0" y1="256.0" x2="895.0" y2="256.0" stroke="#000" stroke-width="3.5" stroke-linecap="butt"/>
<line x1="869.0" y1="268.0" x2="895.0" y2="268.0" stroke="#000" stroke-width="3.5" stroke-linecap="butt"/>
<circle cx="709.0" cy="226.0" r="7.0" fill="#fff" stroke="#000" stroke-width="3.5"/>
<circle cx="723.0" cy="225.0" r="7.0" fill="#fff" stroke="#000" stroke-width="3.5"/>
<circle cx="735.0" cy="234.0" r="7.0" fill="#fff" stroke="#000" stroke-width="3.5"/>
<circle cx="750.0" cy="244.0" r="7.0" fill="#fff" stroke="#000" stroke-width="3.5"/>
<circle cx="786.0" cy="217.0" r="7.0" fill="#fff" stroke="#000" stroke-width="3.5"/>
<circle cx="800.0" cy="217.0" r="7.0" fill="#fff" stroke="#000" stroke-width="3.5"/>
<circle cx="813.0" cy="225.0" r="7.0" fill="#fff" stroke="#000" stroke-width="3.5"/>
<circle cx="826.0" cy="234.0" r="7.0" fill="#fff" stroke="#000" stroke-width="3.5"/>
<circle cx="862.0" cy="258.0" r="7.0" fill="#fff" stroke="#000" stroke-width="3.5"/>
<circle cx="874.0" cy="262.0" r="7.0" fill="#fff" stroke="#000" stroke-width="3.5"/>
<circle cx="882.0" cy="258.0" r="7.0" fill="#fff" stroke="#000" stroke-width="3.5"/>
<circle cx="891.0" cy="262.0" r="7.0" fill="#fff" stroke="#000" stroke-width="3.5"/>
<circle cx="896.0" cy="256.0" r="7.0" fill="#fff" stroke="#000" stroke-width="3.5"/>
<circle cx="904.0" cy="269.0" r="7.0" fill="#fff" stroke="#000" stroke-width="3.5"/>
<circle cx="870.0" cy="262.0" r="7.0" fill="#fff" stroke="#000" stroke-width="3.5"/>
<circle cx="886.0" cy="264.0" r="7.0" fill="#fff" stroke="#000" stroke-width="3.5"/>
<line x1="723.0" y1="102.0" x2="883.0" y2="102.0" stroke="#000" stroke-width="5" stroke-linecap="butt"/>
<text x="789.8" y="102.2" font-size="31" text-anchor="middle" font-weight="bold" fill="#000">*</text>
<text x="805.0" y="102.2" font-size="31" text-anchor="middle" font-weight="bold" fill="#000">*</text>
<text x="820.2" y="102.2" font-size="31" text-anchor="middle" font-weight="bold" fill="#000">*</text>
<line x1="807.0" y1="177.0" x2="883.0" y2="177.0" stroke="#000" stroke-width="5" stroke-linecap="butt"/>
<text x="833.7" y="168.6" font-size="26" text-anchor="middle" font-weight="bold" fill="#000">*</text>
<text x="846.5" y="168.6" font-size="26" text-anchor="middle" font-weight="bold" fill="#000">*</text>
<text x="859.3" y="168.6" font-size="26" text-anchor="middle" font-weight="bold" fill="#000">*</text>
<text x="717.0" y="530.0" font-size="25" text-anchor="middle" font-weight="bold" fill="#000">Ctrl</text>
<text x="800.0" y="530.0" font-size="25" text-anchor="middle" font-weight="bold" fill="#000">Group1</text>
<text x="900.0" y="530.0" font-size="25" text-anchor="middle" font-weight="bold" fill="#000">Group2</text>
<text x="580.0" y="293.0" font-size="26" text-anchor="middle" font-weight="bold" fill="#000" transform="rotate(-90 580.0 293.0)">Bone mineral density</text>
<text x="602.0" y="293.0" font-size="26" text-anchor="middle" font-weight="bold" fill="#000" transform="rotate(-90 602.0 293.0)">(g/cm<tspan font-size="16" dy="-9">2</tspan><tspan dy="9">)</tspan></text>
<text x="1086.3" y="33.0" font-size="34" text-anchor="start" font-weight="bold" fill="#000">C</text>
<text x="1487.0" y="51.0" font-size="26" text-anchor="middle" font-weight="bold" fill="#000">Group2 vs Group1</text>
<text x="1488.0" y="531.0" font-size="26" text-anchor="middle" font-weight="bold" fill="#000">Biological Process</text>
<path d="M1493.4,291.3 L1493.4,292.9 L1493.3,294.5 L1493.2,296.1 L1493.0,297.8 L1492.8,299.4 L1492.5,301.0 L1492.2,302.6 L1491.8,304.2 L1491.4,305.8 L1490.9,307.4 L1490.4,309.0 L1489.8,310.6 L1489.2,312.2 L1488.5,313.8 L1487.8,315.3 L1487.0,316.9 L1486.2,318.5 L1485.3,320.1 L1484.4,321.6 L1483.5,323.2 L1482.5,324.7 L1481.4,326.2 L1480.3,327.8 L1479.1,329.3 L1479.1,379.3 L1480.3,377.8 L1481.4,376.2 L1482.5,374.7 L1483.5,373.2 L1484.4,371.6 L1485.3,370.1 L1486.2,368.5 L1487.0,366.9 L1487.8,365.3 L1488.5,363.8 L1489.2,362.2 L1489.8,360.6 L1490.4,359.0 L1490.9,357.4 L1491.4,355.8 L1491.8,354.2 L1492.2,352.6 L1492.5,351.0 L1492.8,349.4 L1493.0,347.8 L1493.2,346.1 L1493.3,344.5 L1493.4,342.9 L1493.4,341.3Z" fill="url(#pg1)"/>
<path d="M1479.1,329.3 L1476.9,332.0 L1474.6,334.7 L1472.1,337.4 L1469.4,340.0 L1466.6,342.6 L1463.7,345.1 L1460.6,347.7 L1457.4,350.1 L1454.1,352.6 L1450.6,355.0 L1446.9,357.3 L1443.2,359.6 L1439.3,361.9 L1435.3,364.1 L1431.2,366.3 L1426.9,368.4 L1422.6,370.4 L1418.1,372.4 L1413.5,374.3 L1408.8,376.2 L1404.0,378.0 L1399.1,379.8 L1394.1,381.5 L1389.0,383.1 L1389.0,433.1 L1394.1,431.5 L1399.1,429.8 L1404.0,428.0 L1408.8,426.2 L1413.5,424.3 L1418.1,422.4 L1422.6,420.4 L1426.9,418.4 L1431.2,416.3 L1435.3,414.1 L1439.3,411.9 L1443.2,409.6 L1446.9,407.3 L1450.6,405.0 L1454.1,402.6 L1457.4,400.1 L1460.6,397.7 L1463.7,395.1 L1466.6,392.6 L1469.4,390.0 L1472.1,387.4 L1474.6,384.7 L1476.9,382.0 L1479.1,379.3Z" fill="url(#pg2)"/>
<path d="M1389.0,383.1 L1383.8,384.7 L1378.5,386.2 L1373.1,387.6 L1367.7,389.0 L1362.1,390.3 L1356.5,391.5 L1350.8,392.7 L1345.1,393.8 L1339.3,394.8 L1333.4,395.7 L1327.5,396.6 L1321.5,397.4 L1315.6,398.1 L1309.5,398.7 L1303.4,399.3 L1297.3,399.8 L1291.2,400.2 L1285.1,400.5 L1278.9,400.7 L1272.7,400.9 L1266.6,401.0 L1260.4,401.0 L1254.2,400.9 L1248.0,400.8 L1248.0,450.8 L1254.2,450.9 L1260.4,451.0 L1266.6,451.0 L1272.7,450.9 L1278.9,450.7 L1285.1,450.5 L1291.2,450.2 L1297.3,449.8 L1303.4,449.3 L1309.5,448.7 L1315.6,448.1 L1321.5,447.4 L1327.5,446.6 L1333.4,445.7 L1339.3,444.8 L1345.1,443.8 L1350.8,442.7 L1356.5,441.5 L1362.1,440.3 L1367.7,439.0 L1373.1,437.6 L1378.5,436.2 L1383.8,434.7 L1389.0,433.1Z" fill="url(#pg3)"/>
<path d="M1248.0,400.8 L1241.9,400.5 L1235.8,400.2 L1229.8,399.9 L1223.7,399.4 L1217.7,398.9 L1211.7,398.3 L1205.7,397.6 L1199.8,396.8 L1193.9,396.0 L1188.1,395.1 L1182.3,394.1 L1176.6,393.1 L1171.0,391.9 L1165.4,390.7 L1159.9,389.5 L1154.4,388.1 L1149.1,386.7 L1143.8,385.3 L1138.6,383.7 L1133.4,382.1 L1128.4,380.4 L1123.5,378.7 L1118.6,376.9 L1113.9,375.1 L1113.9,425.1 L1118.6,426.9 L1123.5,428.7 L1128.4,430.4 L1133.4,432.1 L1138.6,433.7 L1143.8,435.3 L1149.1,436.7 L1154.4,438.1 L1159.9,439.5 L1165.4,440.7 L1171.0,441.9 L1176.6,443.1 L1182.3,444.1 L1188.1,445.1 L1193.9,446.0 L1199.8,446.8 L1205.7,447.6 L1211.7,448.3 L1217.7,448.9 L1223.7,449.4 L1229.8,449.9 L1235.8,450.2 L1241.9,450.5 L1248.0,450.8Z" fill="url(#pg4)"/>
<path d="M1113.9,375.1 L1109.6,373.3 L1105.4,371.5 L1101.3,369.6 L1097.2,367.7 L1093.3,365.7 L1089.5,363.7 L1085.8,361.6 L1082.2,359.5 L1078.7,357.3 L1075.3,355.1 L1072.0,352.9 L1068.9,350.7 L1065.8,348.3 L1062.9,346.0 L1060.1,343.6 L1057.5,341.2 L1054.9,338.8 L1052.5,336.3 L1050.2,333.8 L1048.1,331.3 L1046.1,328.8 L1044.2,326.2 L1042.4,323.6 L1040.8,321.0 L1040.8,371.0 L1042.4,373.6 L1044.2,376.2 L1046.1,378.8 L1048.1,381.3 L1050.2,383.8 L1052.5,386.3 L1054.9,388.8 L1057.5,391.2 L1060.1,393.6 L1062.9,396.0 L1065.8,398.3 L1068.9,400.7 L1072.0,402.9 L1075.3,405.1 L1078.7,407.3 L1082.2,409.5 L1085.8,411.6 L1089.5,413.7 L1093.3,415.7 L1097.2,417.7 L1101.3,419.6 L1105.4,421.5 L1109.6,423.3 L1113.9,425.1Z" fill="url(#pg5)"/>
<path d="M1040.8,321.0 L1040.1,319.8 L1039.5,318.6 L1038.8,317.4 L1038.2,316.2 L1037.6,314.9 L1037.1,313.7 L1036.5,312.5 L1036.0,311.3 L1035.6,310.0 L1035.1,308.8 L1034.7,307.5 L1034.4,306.3 L1034.0,305.1 L1033.7,303.8 L1033.4,302.6 L1033.2,301.3 L1032.9,300.1 L1032.7,298.8 L1032.6,297.6 L1032.4,296.3 L1032.3,295.1 L1032.3,293.8 L1032.2,292.6 L1032.2,291.3 L1032.2,341.3 L1032.2,342.6 L1032.3,343.8 L1032.3,345.1 L1032.4,346.3 L1032.6,347.6 L1032.7,348.8 L1032.9,350.1 L1033.2,351.3 L1033.4,352.6 L1033.7,353.8 L1034.0,355.1 L1034.4,356.3 L1034.7,357.5 L1035.1,358.8 L1035.6,360.0 L1036.0,361.3 L1036.5,362.5 L1037.1,363.7 L1037.6,364.9 L1038.2,366.2 L1038.8,367.4 L1039.5,368.6 L1040.1,369.8 L1040.8,371.0Z" fill="url(#pg6)"/>
<path d="M1261.0,277.0 L1261.0,181.6 L1272.8,181.7 L1284.5,182.1 L1296.3,182.8 L1307.9,183.7 L1319.4,185.0 L1330.7,186.5 L1341.9,188.3 L1352.9,190.3 L1363.6,192.6 L1374.1,195.2 L1384.2,198.0 L1394.1,201.1 L1403.6,204.4 L1412.8,208.0 L1421.5,211.7 L1429.9,215.7 L1437.8,219.8 L1445.2,224.2 L1452.2,228.7 L1458.7,233.4 L1464.6,238.2 L1470.1,243.2 L1475.0,248.3Z" fill="#4472c4" stroke="#4472c4" stroke-width="0.6"/>
<path d="M1261.0,277.0 L1475.0,248.3 L1479.2,253.4 L1483.0,258.7 L1486.1,264.0 L1488.8,269.4 L1490.8,274.8 L1492.2,280.3 L1493.1,285.8 L1493.4,291.4 L1493.1,296.9 L1492.2,302.4 L1490.7,307.9 L1488.7,313.3 L1486.1,318.7 L1482.9,324.1 L1479.1,329.3Z" fill="#ed7d31" stroke="#ed7d31" stroke-width="0.6"/>
<path d="M1261.0,277.0 L1479.1,329.3 L1474.6,334.7 L1469.4,340.0 L1463.7,345.1 L1457.4,350.1 L1450.6,355.0 L1443.2,359.6 L1435.3,364.1 L1426.9,368.4 L1418.1,372.4 L1408.8,376.2 L1399.1,379.8 L1389.0,383.1Z" fill="#a5a5a5" stroke="#a5a5a5" stroke-width="0.6"/>
<path d="M1261.0,277.0 L1389.0,383.1 L1378.5,386.2 L1367.7,389.0 L1356.5,391.5 L1345.1,393.8 L1333.4,395.7 L1321.5,397.4 L1309.5,398.7 L1297.3,399.8 L1285.1,400.5 L1272.7,400.9 L1260.4,401.0 L1248.0,400.8Z" fill="#ffc000" stroke="#ffc000" stroke-width="0.6"/>
<path d="M1261.0,277.0 L1248.0,400.8 L1235.8,400.2 L1223.7,399.4 L1211.7,398.3 L1199.8,396.8 L1188.1,395.1 L1176.6,393.1 L1165.4,390.7 L1154.4,388.1 L1143.8,385.3 L1133.4,382.1 L1123.5,378.7 L1113.9,375.1Z" fill="#5b9bd5" stroke="#5b9bd5" stroke-width="0.6"/>
<path d="M1261.0,277.0 L1113.9,375.1 L1104.6,371.1 L1095.8,366.9 L1087.4,362.5 L1079.6,357.9 L1072.3,353.1 L1065.6,348.1 L1059.4,343.0 L1053.8,337.7 L1048.9,332.2 L1044.5,326.7 L1040.8,321.0Z" fill="#70ad47" stroke="#70ad47" stroke-width="0.6"/>
<path d="M1261.0,277.0 L1040.8,321.0 L1038.0,315.7 L1035.7,310.3 L1034.0,304.9 L1032.8,299.4 L1032.3,293.9 L1032.3,288.5 L1032.9,283.0 L1034.0,277.5 L1035.8,272.1 L1038.1,266.7Z" fill="#264478" stroke="#264478" stroke-width="0.6"/>
<path d="M1261.0,277.0 L1038.1,266.7 L1041.1,261.1 L1044.8,255.5 L1049.1,250.1 L1054.0,244.8 L1059.5,239.6 L1065.5,234.5 L1072.1,229.6 L1079.3,224.9 L1086.9,220.4Z" fill="#9e480e" stroke="#9e480e" stroke-width="0.6"/>
<path d="M1261.0,277.0 L1086.9,220.4 L1094.6,216.2 L1102.8,212.3 L1111.4,208.6 L1120.4,205.0 L1129.7,201.7 L1139.3,198.6 L1149.3,195.8 L1159.6,193.2 L1170.1,190.9Z" fill="#636363" stroke="#636363" stroke-width="0.6"/>
<path d="M1261.0,277.0 L1170.1,190.9 L1180.9,188.7 L1192.0,186.9 L1203.2,185.3 L1214.6,184.0 L1226.1,183.0 L1237.7,182.3 L1249.3,181.8 L1261.0,181.6Z" fill="#997300" stroke="#997300" stroke-width="0.6"/>
<rect x="1508" y="145.5" width="18" height="17.5" rx="2" fill="#4472c4"/>
<text x="1531.5" y="161.5" font-size="20.3" text-anchor="start" font-weight="bold" fill="#000">Steroid metabolic process</text>
<rect x="1508" y="172.9" width="18" height="17.5" rx="2" fill="#ed7d31"/>
<text x="1531.5" y="188.9" font-size="20.3" text-anchor="start" font-weight="bold" fill="#000">Cellular amino acid biosynthetic process</text>
<rect x="1508" y="202.5" width="18" height="17.5" rx="2" fill="#a5a5a5"/>
<text x="1531.5" y="216.0" font-size="20.3" text-anchor="start" font-weight="bold" fill="#000">Fatty acid beta-oxidation using acyl-CoA</text>
<text x="1531.5" y="238.0" font-size="20.3" text-anchor="start" font-weight="bold" fill="#000">dehydrogenase</text>
<rect x="1508" y="246.5" width="18" height="17.5" rx="2" fill="#ffc000"/>
<text x="1531.5" y="262.5" font-size="20.3" text-anchor="start" font-weight="bold" fill="#000">2-oxoglutarate metabolic process</text>
<rect x="1508" y="273.5" width="18" height="17.5" rx="2" fill="#5b9bd5"/>
<text x="1531.5" y="289.5" font-size="20.3" text-anchor="start" font-weight="bold" fill="#000">Glutathione metabolic process</text>
<rect x="1508" y="301.5" width="18" height="17.5" rx="2" fill="#70ad47"/>
<text x="1531.5" y="317.5" font-size="20.3" text-anchor="start" font-weight="bold" fill="#000">Fatty acid beta-oxidation</text>
<rect x="1508" y="328.1" width="18" height="17.5" rx="2" fill="#264478"/>
<text x="1531.5" y="344.1" font-size="20.3" text-anchor="start" font-weight="bold" fill="#000">Platelet degranulation</text>
<rect x="1508" y="356.0" width="18" height="17.5" rx="2" fill="#9e480e"/>
<text x="1531.5" y="372.0" font-size="20.3" text-anchor="start" font-weight="bold" fill="#000">Glutamate metabolic process</text>
<rect x="1508" y="382.5" width="18" height="17.5" rx="2" fill="#636363"/>
<text x="1531.5" y="398.5" font-size="20.3" text-anchor="start" font-weight="bold" fill="#000">Complement activation, alternative</text>
<text x="1531.5" y="420.5" font-size="20.3" text-anchor="start" font-weight="bold" fill="#000">pathway</text>
<rect x="1508" y="429.5" width="18" height="17.5" rx="2" fill="#997300"/>
<text x="1531.5" y="445.5" font-size="20.3" text-anchor="start" font-weight="bold" fill="#000">Lipoprotein metabolic process</text>
<text x="2.7" y="639.6" font-size="34" text-anchor="start" font-weight="bold" fill="#000">D</text>
<text x="382.0" y="647.0" font-size="26" text-anchor="middle" font-weight="bold" fill="#000">Group2 vs Group1</text>
<rect x="91.5" y="704.2" width="578.8" height="18.5" fill="#8eaadb"/>
<text x="97.0" y="721.2" font-size="19.5" text-anchor="start" font-weight="bold" fill="#000">Arginine biosynthesis</text>
<rect x="91.5" y="730.6" width="562.5" height="18.5" fill="#8eaadb"/>
<text x="94.0" y="747.6" font-size="19.5" text-anchor="start" font-weight="bold" fill="#000">Fatty acid degradation</text>
<rect x="91.5" y="757.0" width="464.3" height="18.5" fill="#8eaadb"/>
<text x="96.0" y="774.0" font-size="19.5" text-anchor="start" font-weight="bold" fill="#000">Retinol metabolism</text>
<rect x="91.5" y="783.4" width="438.2" height="18.5" fill="#8eaadb"/>
<text x="93.0" y="800.4" font-size="19.5" text-anchor="start" font-weight="bold" fill="#000">Steroid hormone biosynthesis</text>
<rect x="91.5" y="809.8" width="415.9" height="18.5" fill="#8eaadb"/>
<text x="93.0" y="826.8" font-size="19.5" text-anchor="start" font-weight="bold" fill="#000">Porphyrin and chlorophyll metabolism</text>
<rect x="91.5" y="836.2" width="386.9" height="18.5" fill="#8eaadb"/>
<text x="94.0" y="853.2" font-size="19.5" text-anchor="start" font-weight="bold" fill="#000">PPAR signaling pathway</text>
<rect x="91.5" y="862.6" width="366.0" height="18.5" fill="#8eaadb"/>
<text x="97.0" y="879.6" font-size="19.5" text-anchor="start" font-weight="bold" fill="#000">Peroxisome</text>
<rect x="91.5" y="889.0" width="345.2" height="18.5" fill="#8eaadb"/>
<text x="96.0" y="906.0" font-size="19.5" text-anchor="start" font-weight="bold" fill="#000">Pentose and glucuronate interconversions</text>
<rect x="91.5" y="915.4" width="329.6" height="18.5" fill="#8eaadb"/>
<text x="93.0" y="932.4" font-size="19.5" text-anchor="start" font-weight="bold" fill="#000">Alanine, aspartate and glutamate metabolism</text>
<rect x="91.5" y="941.8" width="322.2" height="18.5" fill="#8eaadb"/>
<text x="92.0" y="958.8" font-size="19.5" text-anchor="start" font-weight="bold" fill="#000">Ascorbate and aldarate metabolism</text>
<rect x="91.5" y="968.2" width="320.7" height="18.5" fill="#8eaadb"/>
<text x="93.0" y="985.2" font-size="19.5" text-anchor="start" font-weight="bold" fill="#000">Complement and coagulation cascades</text>
<rect x="91.5" y="994.6" width="259.7" height="18.5" fill="#8eaadb"/>
<text x="94.0" y="1011.6" font-size="19.5" text-anchor="start" font-weight="bold" fill="#000">2-Oxocarboxylic acid metabolism</text>
<rect x="91.5" y="1021.0" width="254.4" height="18.5" fill="#8eaadb"/>
<text x="94.0" y="1038.0" font-size="19.5" text-anchor="start" font-weight="bold" fill="#000">Fatty acid metabolism</text>
<rect x="91.5" y="1047.4" width="251.5" height="18.5" fill="#8eaadb"/>
<text x="92.0" y="1064.4" font-size="19.5" text-anchor="start" font-weight="bold" fill="#000">Butanoate metabolism</text>
<rect x="91.5" y="1073.8" width="245.5" height="18.5" fill="#8eaadb"/>
<text x="93.0" y="1090.8" font-size="19.5" text-anchor="start" font-weight="bold" fill="#000">Phenylalanine, tyrosine and tryptophan biosynthesis</text>
<rect x="91.5" y="1100.2" width="241.1" height="18.5" fill="#8eaadb"/>
<text x="96.0" y="1117.2" font-size="19.5" text-anchor="start" font-weight="bold" fill="#000">Glutathione metabolism</text>
<rect x="91.5" y="1126.6" width="218.7" height="18.5" fill="#8eaadb"/>
<text x="97.0" y="1143.6" font-size="19.5" text-anchor="start" font-weight="bold" fill="#000">Histidine metabolism</text>
<rect x="91.5" y="1153.0" width="205.3" height="18.5" fill="#8eaadb"/>
<text x="96.0" y="1170.0" font-size="19.5" text-anchor="start" font-weight="bold" fill="#000">Tyrosine metabolism</text>
<rect x="91.5" y="1179.4" width="185.3" height="18.5" fill="#8eaadb"/>
<text x="97.0" y="1196.4" font-size="19.5" text-anchor="start" font-weight="bold" fill="#000">Phenylalanine metabolism</text>
<line x1="91.5" y1="699.5" x2="91.5" y2="1202.0" stroke="#000" stroke-width="2.5" stroke-linecap="butt"/>
<line x1="90.5" y1="1201.0" x2="837.0" y2="1201.0" stroke="#000" stroke-width="2.5" stroke-linecap="butt"/>
<line x1="91.5" y1="1201.0" x2="91.5" y2="1204.0" stroke="#000" stroke-width="2" stroke-linecap="butt"/>
<text x="91.5" y="1227.5" font-size="25" text-anchor="middle" font-weight="bold" fill="#000">0</text>
<line x1="240.3" y1="1201.0" x2="240.3" y2="1204.0" stroke="#000" stroke-width="2" stroke-linecap="butt"/>
<text x="240.3" y="1227.5" font-size="25" text-anchor="middle" font-weight="bold" fill="#000">2</text>
<line x1="389.1" y1="1201.0" x2="389.1" y2="1204.0" stroke="#000" stroke-width="2" stroke-linecap="butt"/>
<text x="389.1" y="1227.5" font-size="25" text-anchor="middle" font-weight="bold" fill="#000">4</text>
<line x1="537.9" y1="1201.0" x2="537.9" y2="1204.0" stroke="#000" stroke-width="2" stroke-linecap="butt"/>
<text x="537.9" y="1227.5" font-size="25" text-anchor="middle" font-weight="bold" fill="#000">6</text>
<line x1="686.7" y1="1201.0" x2="686.7" y2="1204.0" stroke="#000" stroke-width="2" stroke-linecap="butt"/>
<text x="686.7" y="1227.5" font-size="25" text-anchor="middle" font-weight="bold" fill="#000">8</text>
<line x1="835.5" y1="1201.0" x2="835.5" y2="1204.0" stroke="#000" stroke-width="2" stroke-linecap="butt"/>
<text x="835.5" y="1227.5" font-size="25" text-anchor="middle" font-weight="bold" fill="#000">10</text>
<text x="853.0" y="1192.5" font-size="22.6" text-anchor="end" font-weight="bold" fill="#000">-log (p value)</text>
<text x="71.0" y="964.0" font-size="26.4" text-anchor="middle" font-weight="bold" fill="#000" transform="rotate(-90 71.0 964.0)">KEGG pathway</text>
<text x="896.5" y="640.0" font-size="34" text-anchor="start" font-weight="bold" fill="#000">E</text>
<text x="1066.0" y="651.0" font-size="26" text-anchor="middle" font-weight="bold" fill="#000">Phosphotase</text>
<line x1="965.5" y1="660.5" x2="1164.0" y2="660.5" stroke="#000" stroke-width="4" stroke-linecap="butt"/>
<text x="1292.0" y="650.0" font-size="26" text-anchor="middle" font-weight="bold" fill="#000">Protein Kinase</text>
<line x1="1199.0" y1="661.0" x2="1396.0" y2="661.0" stroke="#000" stroke-width="4" stroke-linecap="butt"/>
<rect x="966.5" y="676.5" width="91.5" height="20.7" fill="#ff7b7b"/>
<rect x="966.5" y="696.6" width="91.5" height="20.7" fill="#ff9f9f"/>
<rect x="966.5" y="716.8" width="91.5" height="20.7" fill="#ffdde2"/>
<rect x="966.5" y="736.9" width="91.5" height="20.7" fill="#f9f9ff"/>
<rect x="966.5" y="757.0" width="91.5" height="20.7" fill="#eef0ff"/>
<rect x="966.5" y="777.1" width="91.5" height="20.7" fill="#e6e6ff"/>
<rect x="966.5" y="797.2" width="91.5" height="20.7" fill="#dcdcff"/>
<rect x="966.5" y="817.4" width="91.5" height="20.7" fill="#d5d5ff"/>
<rect x="966.5" y="837.5" width="91.5" height="20.7" fill="#b0b0ff"/>
<rect x="966.5" y="857.6" width="91.5" height="20.7" fill="#a8a8ff"/>
<rect x="966.5" y="877.8" width="91.5" height="20.7" fill="#9494ff"/>
<rect x="966.5" y="897.9" width="91.5" height="20.7" fill="#8c8cff"/>
<rect x="966.5" y="918.0" width="91.5" height="20.7" fill="#8888ff"/>
<rect x="966.5" y="938.1" width="91.5" height="20.7" fill="#8282ff"/>
<rect x="966.5" y="958.2" width="91.5" height="20.7" fill="#8080ff"/>
<rect x="966.5" y="978.4" width="91.5" height="20.7" fill="#7d7dff"/>
<rect x="966.5" y="998.5" width="91.5" height="20.7" fill="#5c5cff"/>
<rect x="966.5" y="1018.6" width="91.5" height="20.7" fill="#5c5cff"/>
<rect x="966.5" y="1038.8" width="91.5" height="20.7" fill="#5c5cff"/>
<rect x="966.5" y="1058.9" width="91.5" height="20.7" fill="#0033ff"/>
<rect x="966.5" y="1079.0" width="91.5" height="20.7" fill="#0033ff"/>
<rect x="966.5" y="1099.1" width="91.5" height="20.7" fill="#0033ff"/>
<rect x="966.5" y="1119.2" width="91.5" height="20.7" fill="#0033ff"/>
<rect x="966.5" y="1139.4" width="91.5" height="20.7" fill="#0033ff"/>
<rect x="1071.0" y="676.5" width="91.0" height="20.7" fill="#ff8c8c"/>
<rect x="1071.0" y="696.6" width="91.0" height="20.7" fill="#ffd6d6"/>
<rect x="1071.0" y="716.8" width="91.0" height="20.7" fill="#ffe3e3"/>
<rect x="1071.0" y="736.9" width="91.0" height="20.7" fill="#ffe8e8"/>
<rect x="1071.0" y="757.0" width="91.0" height="20.7" fill="#ffeaea"/>
<rect x="1071.0" y="777.1" width="91.0" height="20.7" fill="#fdf8fc"/>
<rect x="1071.0" y="797.2" width="91.0" height="20.7" fill="#f3f5ff"/>
<rect x="1071.0" y="817.4" width="91.0" height="20.7" fill="#ebebff"/>
<rect x="1071.0" y="837.5" width="91.0" height="20.7" fill="#dcd9ff"/>
<rect x="1071.0" y="857.6" width="91.0" height="20.7" fill="#d6d3ff"/>
<rect x="1071.0" y="877.8" width="91.0" height="20.7" fill="#c4c2ff"/>
<rect x="1071.0" y="897.9" width="91.0" height="20.7" fill="#bbbbff"/>
<rect x="1071.0" y="918.0" width="91.0" height="20.7" fill="#b6b6ff"/>
<rect x="1071.0" y="938.1" width="91.0" height="20.7" fill="#b6b6ff"/>
<rect x="1071.0" y="958.2" width="91.0" height="20.7" fill="#aaaaff"/>
<rect x="1071.0" y="978.4" width="91.0" height="20.7" fill="#a3a3ff"/>
<rect x="1071.0" y="998.5" width="91.0" height="20.7" fill="#a3a3ff"/>
<rect x="1071.0" y="1018.6" width="91.0" height="20.7" fill="#9f9fff"/>
<rect x="1071.0" y="1038.8" width="91.0" height="20.7" fill="#9999ff"/>
<rect x="1071.0" y="1058.9" width="91.0" height="20.7" fill="#8a8aff"/>
<rect x="1071.0" y="1079.0" width="91.0" height="20.7" fill="#8080ff"/>
<rect x="1071.0" y="1099.1" width="91.0" height="20.7" fill="#7777ff"/>
<rect x="1071.0" y="1119.2" width="91.0" height="20.7" fill="#4848ff"/>
<rect x="1071.0" y="1139.4" width="91.0" height="20.7" fill="#0033ff"/>
<rect x="1198.0" y="676.5" width="90.5" height="483.0" fill="url(#hm3)"/>
<rect x="1302.8" y="676.5" width="90.7" height="483.0" fill="url(#hm4)"/>
<rect x="1415.2" y="685.4" width="26.0" height="172.1" fill="url(#cbar)"/>
<text x="1454.5" y="707.0" font-size="22" text-anchor="start" font-weight="bold" fill="#000">Low</text>
<text x="1450.0" y="859.0" font-size="22" text-anchor="start" font-weight="bold" fill="#000">High</text>
<text x="965.5" y="1197.0" font-size="25.6" text-anchor="start" font-weight="bold" fill="#000">Group1</text>
<text x="965.5" y="1222.7" font-size="25.6" text-anchor="start" font-weight="bold" fill="#000">v.s.</text>
<text x="965.5" y="1248.4" font-size="25.6" text-anchor="start" font-weight="bold" fill="#000">Ctrl</text>
<text x="1075.0" y="1197.0" font-size="25.6" text-anchor="start" font-weight="bold" fill="#000">Group2</text>
<text x="1075.0" y="1222.7" font-size="25.6" text-anchor="start" font-weight="bold" fill="#000">v.s.</text>
<text x="1075.0" y="1248.4" font-size="25.6" text-anchor="start" font-weight="bold" fill="#000">Ctrl</text>
<text x="1195.5" y="1197.0" font-size="25.6" text-anchor="start" font-weight="bold" fill="#000">Group1</text>
<text x="1202.5" y="1222.7" font-size="25.6" text-anchor="start" font-weight="bold" fill="#000">v.s.</text>
<text x="1195.5" y="1248.4" font-size="25.6" text-anchor="start" font-weight="bold" fill="#000">Ctrl</text>
<text x="1305.0" y="1199.0" font-size="25.6" text-anchor="start" font-weight="bold" fill="#000">Group2</text>
<text x="1312.0" y="1224.7" font-size="25.6" text-anchor="start" font-weight="bold" fill="#000">v.s.</text>
<text x="1305.0" y="1250.4" font-size="25.6" text-anchor="start" font-weight="bold" fill="#000">Ctrl</text>
<text x="1564.2" y="639.2" font-size="34" text-anchor="start" font-weight="bold" fill="#000">F</text>
<line x1="1646.0" y1="704.6" x2="1646.0" y2="1075.4" stroke="#000" stroke-width="3.6" stroke-linecap="butt"/>
<line x1="1634.0" y1="1073.6" x2="1646.0" y2="1073.6" stroke="#000" stroke-width="3.2" stroke-linecap="butt"/>
<text x="1632.0" y="1082.5" font-size="22" text-anchor="end" font-weight="bold" fill="#000">0.9</text>
<line x1="1634.0" y1="1012.4" x2="1646.0" y2="1012.4" stroke="#000" stroke-width="3.2" stroke-linecap="butt"/>
<text x="1632.0" y="1022.3" font-size="22" text-anchor="end" font-weight="bold" fill="#000">1.0</text>
<line x1="1634.0" y1="951.2" x2="1646.0" y2="951.2" stroke="#000" stroke-width="3.2" stroke-linecap="butt"/>
<text x="1632.0" y="962.1" font-size="22" text-anchor="end" font-weight="bold" fill="#000">1.1</text>
<line x1="1634.0" y1="890.0" x2="1646.0" y2="890.0" stroke="#000" stroke-width="3.2" stroke-linecap="butt"/>
<text x="1632.0" y="901.9" font-size="22" text-anchor="end" font-weight="bold" fill="#000">1.2</text>
<line x1="1634.0" y1="828.8" x2="1646.0" y2="828.8" stroke="#000" stroke-width="3.2" stroke-linecap="butt"/>
<text x="1632.0" y="841.7" font-size="22" text-anchor="end" font-weight="bold" fill="#000">1.3</text>
<line x1="1634.0" y1="767.6" x2="1646.0" y2="767.6" stroke="#000" stroke-width="3.2" stroke-linecap="butt"/>
<text x="1632.0" y="781.5" font-size="22" text-anchor="end" font-weight="bold" fill="#000">1.4</text>
<line x1="1634.0" y1="706.4" x2="1646.0" y2="706.4" stroke="#000" stroke-width="3.2" stroke-linecap="butt"/>
<text x="1632.0" y="721.3" font-size="22" text-anchor="end" font-weight="bold" fill="#000">1.5</text>
<line x1="1634.0" y1="1073.6" x2="1891.0" y2="1073.6" stroke="#000" stroke-width="4" stroke-linecap="butt"/>
<line x1="1714.7" y1="1073.6" x2="1714.7" y2="1084.6" stroke="#000" stroke-width="4" stroke-linecap="butt"/>
<line x1="1819.0" y1="1073.6" x2="1819.0" y2="1084.6" stroke="#000" stroke-width="4" stroke-linecap="butt"/>
<rect x="1683.0" y="1001.0" width="63.6" height="72.6" fill="#d95f02" stroke="#000" stroke-width="4"/>
<rect x="1788.0" y="853.6" width="63.0" height="220.0" fill="#7570b3" stroke="#000" stroke-width="4"/>
<line x1="1714.7" y1="984.0" x2="1714.7" y2="1010.0" stroke="#000" stroke-width="3.5" stroke-linecap="butt"/>
<line x1="1697.7" y1="984.0" x2="1731.7" y2="984.0" stroke="#000" stroke-width="3.5" stroke-linecap="butt"/>
<line x1="1697.7" y1="1010.0" x2="1731.7" y2="1010.0" stroke="#000" stroke-width="3.5" stroke-linecap="butt"/>
<line x1="1819.0" y1="810.0" x2="1819.0" y2="890.5" stroke="#000" stroke-width="3.5" stroke-linecap="butt"/>
<line x1="1802.0" y1="810.0" x2="1836.0" y2="810.0" stroke="#000" stroke-width="3.5" stroke-linecap="butt"/>
<line x1="1802.0" y1="890.5" x2="1836.0" y2="890.5" stroke="#000" stroke-width="3.5" stroke-linecap="butt"/>
<circle cx="1698.0" cy="992.7" r="6.5" fill="#fff" stroke="#000" stroke-width="3.2"/>
<circle cx="1714.7" cy="987.0" r="6.5" fill="#fff" stroke="#000" stroke-width="3.2"/>
<circle cx="1732.4" cy="1012.6" r="6.5" fill="#fff" stroke="#000" stroke-width="3.2"/>
<circle cx="1819.0" cy="803.0" r="6.5" fill="#fff" stroke="#000" stroke-width="3.2"/>
<circle cx="1802.0" cy="868.7" r="6.5" fill="#fff" stroke="#000" stroke-width="3.2"/>
<circle cx="1837.0" cy="878.0" r="6.5" fill="#fff" stroke="#000" stroke-width="3.2"/>
<line x1="1715.0" y1="776.0" x2="1819.6" y2="776.0" stroke="#000" stroke-width="5" stroke-linecap="butt"/>
<text x="1761.0" y="765.4" font-size="36" text-anchor="middle" font-weight="bold" fill="#000">*</text>
<text x="1777.0" y="765.4" font-size="36" text-anchor="middle" font-weight="bold" fill="#000">*</text>
<text x="1722.0" y="1107.0" font-size="26" text-anchor="middle" font-weight="bold" fill="#000">Group1</text>
<text x="1821.0" y="1107.0" font-size="26" text-anchor="middle" font-weight="bold" fill="#000">Group2</text>
<text x="1584.7" y="892.0" font-size="26" text-anchor="middle" font-weight="bold" fill="#000" transform="rotate(-90 1584.7 892.0)">PP2Acα protein fold change</text>
<text x="4.0" y="1372.0" font-size="34" text-anchor="start" font-weight="bold" fill="#000">G</text>
<text x="179.0" y="1404.0" font-size="25" text-anchor="middle" font-weight="bold" fill="#000">Ctrl</text>
<text x="258.0" y="1404.0" font-size="25" text-anchor="middle" font-weight="bold" fill="#000">Group1</text>
<text x="357.0" y="1404.0" font-size="25" text-anchor="middle" font-weight="bold" fill="#000">Group2</text>
<text x="120.0" y="1443.0" font-size="26" text-anchor="end" font-weight="bold" fill="#000">PP2Acα</text>
<text x="117.0" y="1503.0" font-size="26" text-anchor="end" font-weight="bold" fill="#000">β-actin</text>
<rect x="127.5" y="1413.3" width="268.8" height="47.3" fill="#dcdcdc"/>
<rect x="127.5" y="1413.3" width="268.8" height="47.3" fill="#000" filter="url(#nz1)"/>
<rect x="127.5" y="1413.3" width="268.8" height="47.3" fill="#000" filter="url(#nz2)"/>
<rect x="150.0" y="1427.0" width="51.0" height="9.0" rx="4.5" fill="#808080" opacity="0.8" filter="url(#bl2)"/>
<rect x="150.0" y="1437.5" width="51.0" height="9.5" rx="4.8" fill="#333333" opacity="0.9" filter="url(#bl2)"/>
<rect x="231.0" y="1428.0" width="55.0" height="9.0" rx="4.5" fill="#909090" opacity="0.6" filter="url(#bl2)"/>
<rect x="231.0" y="1438.5" width="55.0" height="10.0" rx="5.0" fill="#0a0a0a" opacity="1" filter="url(#bl15)"/>
<rect x="314.0" y="1425.0" width="60.0" height="24.0" rx="6.0" fill="#000000" opacity="1" filter="url(#bl15)"/>
<rect x="128.8" y="1414.6" width="266.2" height="44.7" fill="none" stroke="#000" stroke-width="2.6"/>
<rect x="127.5" y="1472.2" width="268.8" height="49.0" fill="url(#b2g)"/>
<rect x="145.0" y="1493.0" width="62.0" height="12.5" rx="6.2" fill="#0a0a0a" opacity="1" filter="url(#bl2)"/>
<rect x="229.5" y="1491.3" width="63.1" height="13.3" rx="6.6" fill="#000" opacity="1" filter="url(#bl15)"/>
<rect x="313.4" y="1496.3" width="63.9" height="9.9" rx="5.0" fill="#000" opacity="1" filter="url(#bl15)"/>
<rect x="128.8" y="1473.5" width="266.2" height="46.4" fill="none" stroke="#000" stroke-width="2.6"/>
<line x1="189.0" y1="1562.0" x2="189.0" y2="1828.0" stroke="#000" stroke-width="4" stroke-linecap="butt"/>
<line x1="179.2" y1="1616.4" x2="189.0" y2="1616.4" stroke="#000" stroke-width="4" stroke-linecap="butt"/>
<text x="172.5" y="1625.4" font-size="25" text-anchor="end" font-weight="bold" fill="#000">2.0</text>
<line x1="179.2" y1="1668.8" x2="189.0" y2="1668.8" stroke="#000" stroke-width="4" stroke-linecap="butt"/>
<text x="172.5" y="1677.8" font-size="25" text-anchor="end" font-weight="bold" fill="#000">1.5</text>
<line x1="179.2" y1="1721.2" x2="189.0" y2="1721.2" stroke="#000" stroke-width="4" stroke-linecap="butt"/>
<text x="172.5" y="1730.2" font-size="25" text-anchor="end" font-weight="bold" fill="#000">1.0</text>
<line x1="179.2" y1="1773.6" x2="189.0" y2="1773.6" stroke="#000" stroke-width="4" stroke-linecap="butt"/>
<text x="172.5" y="1782.6" font-size="25" text-anchor="end" font-weight="bold" fill="#000">0.5</text>
<line x1="179.2" y1="1826.0" x2="189.0" y2="1826.0" stroke="#000" stroke-width="4" stroke-linecap="butt"/>
<text x="172.5" y="1835.0" font-size="25" text-anchor="end" font-weight="bold" fill="#000">0</text>
<line x1="179.2" y1="1564.0" x2="189.0" y2="1564.0" stroke="#000" stroke-width="4" stroke-linecap="butt"/>
<text x="172.5" y="1561.0" font-size="25" text-anchor="end" font-weight="bold" fill="#000">2.5</text>
<line x1="179.2" y1="1826.0" x2="364.0" y2="1826.0" stroke="#000" stroke-width="4" stroke-linecap="butt"/>
<line x1="227.7" y1="1826.0" x2="227.7" y2="1836.0" stroke="#000" stroke-width="4" stroke-linecap="butt"/>
<line x1="275.4" y1="1826.0" x2="275.4" y2="1836.0" stroke="#000" stroke-width="4" stroke-linecap="butt"/>
<line x1="324.0" y1="1826.0" x2="324.0" y2="1836.0" stroke="#000" stroke-width="4" stroke-linecap="butt"/>
<rect x="210.5" y="1724.7" width="33.7" height="101.3" fill="#1f9e77" stroke="#000" stroke-width="4"/>
<rect x="258.5" y="1699.4" width="34.1" height="126.6" fill="#d95f02" stroke="#000" stroke-width="4"/>
<rect x="307.0" y="1642.8" width="33.5" height="183.2" fill="#7570b3" stroke="#000" stroke-width="4"/>
<line x1="225.6" y1="1709.5" x2="225.6" y2="1736.0" stroke="#000" stroke-width="3" stroke-linecap="butt"/>
<line x1="216.6" y1="1709.5" x2="234.6" y2="1709.5" stroke="#000" stroke-width="3" stroke-linecap="butt"/>
<line x1="216.6" y1="1736.0" x2="234.6" y2="1736.0" stroke="#000" stroke-width="3" stroke-linecap="butt"/>
<line x1="275.3" y1="1679.3" x2="275.3" y2="1714.9" stroke="#000" stroke-width="3" stroke-linecap="butt"/>
<line x1="265.8" y1="1679.3" x2="284.8" y2="1679.3" stroke="#000" stroke-width="3" stroke-linecap="butt"/>
<line x1="265.8" y1="1714.9" x2="284.8" y2="1714.9" stroke="#000" stroke-width="3" stroke-linecap="butt"/>
<line x1="323.8" y1="1618.8" x2="323.8" y2="1663.3" stroke="#000" stroke-width="3" stroke-linecap="butt"/>
<line x1="314.8" y1="1618.8" x2="332.8" y2="1618.8" stroke="#000" stroke-width="3" stroke-linecap="butt"/>
<line x1="314.8" y1="1663.3" x2="332.8" y2="1663.3" stroke="#000" stroke-width="3" stroke-linecap="butt"/>
<circle cx="222.0" cy="1709.2" r="7.0" fill="#fff" stroke="#000" stroke-width="3.4"/>
<circle cx="232.7" cy="1709.9" r="7.0" fill="#fff" stroke="#000" stroke-width="3.4"/>
<circle cx="228.4" cy="1725.5" r="7.0" fill="#fff" stroke="#000" stroke-width="3.4"/>
<circle cx="217.0" cy="1725.5" r="7.0" fill="#fff" stroke="#000" stroke-width="3.4"/>
<circle cx="237.7" cy="1737.6" r="7.0" fill="#fff" stroke="#000" stroke-width="3.4"/>
<circle cx="264.8" cy="1679.3" r="7.0" fill="#fff" stroke="#000" stroke-width="3.4"/>
<circle cx="272.5" cy="1687.6" r="7.0" fill="#fff" stroke="#000" stroke-width="3.4"/>
<circle cx="280.3" cy="1692.3" r="7.0" fill="#fff" stroke="#000" stroke-width="3.4"/>
<circle cx="286.8" cy="1699.5" r="7.0" fill="#fff" stroke="#000" stroke-width="3.4"/>
<circle cx="275.3" cy="1727.0" r="7.0" fill="#fff" stroke="#000" stroke-width="3.4"/>
<circle cx="318.8" cy="1608.8" r="7.0" fill="#fff" stroke="#000" stroke-width="3.4"/>
<circle cx="328.9" cy="1629.5" r="7.0" fill="#fff" stroke="#000" stroke-width="3.4"/>
<circle cx="312.9" cy="1649.7" r="7.0" fill="#fff" stroke="#000" stroke-width="3.4"/>
<circle cx="324.1" cy="1651.4" r="7.0" fill="#fff" stroke="#000" stroke-width="3.4"/>
<circle cx="333.6" cy="1665.7" r="7.0" fill="#fff" stroke="#000" stroke-width="3.4"/>
<line x1="223.3" y1="1553.3" x2="325.9" y2="1553.3" stroke="#000" stroke-width="5" stroke-linecap="butt"/>
<text x="260.2" y="1557.7" font-size="31" text-anchor="middle" font-weight="bold" fill="#000">*</text>
<text x="275.4" y="1557.7" font-size="31" text-anchor="middle" font-weight="bold" fill="#000">*</text>
<text x="290.6" y="1557.7" font-size="31" text-anchor="middle" font-weight="bold" fill="#000">*</text>
<line x1="269.3" y1="1594.4" x2="325.9" y2="1594.4" stroke="#000" stroke-width="5" stroke-linecap="butt"/>
<text x="282.8" y="1598.2" font-size="31" text-anchor="middle" font-weight="bold" fill="#000">*</text>
<text x="298.0" y="1598.2" font-size="31" text-anchor="middle" font-weight="bold" fill="#000">*</text>
<text x="313.2" y="1598.2" font-size="31" text-anchor="middle" font-weight="bold" fill="#000">*</text>
<text x="233.6" y="1849.6" font-size="25" text-anchor="end" font-weight="bold" fill="#000" transform="rotate(-30 233.6 1849.6)">Ctrl</text>
<text x="286.6" y="1858.5" font-size="25" text-anchor="end" font-weight="bold" fill="#000" transform="rotate(-30 286.6 1858.5)">Group1</text>
<text x="337.4" y="1862.0" font-size="25" text-anchor="end" font-weight="bold" fill="#000" transform="rotate(-30 337.4 1862.0)">Group2</text>
<text x="75.0" y="1693.0" font-size="26" text-anchor="middle" font-weight="bold" fill="#000" transform="rotate(-90 75.0 1693.0)">Relative protein level</text>
<text x="121.0" y="1693.0" font-size="26" text-anchor="middle" font-weight="bold" fill="#000" transform="rotate(-90 121.0 1693.0)">(fold change)</text>
<text x="467.8" y="1372.5" font-size="34" text-anchor="start" font-weight="bold" fill="#000">H</text>
<text x="738.5" y="1447.0" font-size="25" text-anchor="middle" font-weight="bold" fill="#000">Ctrl</text>
<text x="1065.0" y="1447.0" font-size="25" text-anchor="middle" font-weight="bold" fill="#000">Group1</text>
<text x="1416.0" y="1447.0" font-size="25" text-anchor="middle" font-weight="bold" fill="#000">Group2</text>
<text x="496.5" y="1570.0" font-size="25.5" text-anchor="middle" font-weight="bold" fill="#000" transform="rotate(-90 496.5 1570.0)">PP2Acα IHC</text>
<text x="523.0" y="1568.0" font-size="26" text-anchor="middle" font-weight="bold" fill="#000" transform="rotate(-90 523.0 1568.0)">in human liver tissue</text>
<g clip-path="url(#clip3)">
<rect x="533.8" y="1453.4" width="349.4" height="236.6" fill="#adb8cb"/>
<rect x="533.8" y="1453.4" width="349.4" height="236.6" fill="#000" filter="url(#nz4)"/>
<rect x="533.8" y="1453.4" width="349.4" height="236.6" fill="#000" filter="url(#nz5)"/>
<path d="M757 1669q1 -7 4 -15M757 1669q14 -2 23 -14M761 1655q6 -5 13 -3M780 1656q-3 -2 -7 -4M533 1687q-20 13 -41 4M533 1706q1 1 2 2M535 1708q1 1 1 3M743 1672q-16 11 -33 19M743 1672q5 1 10 1M752 1674q-0 3 2 4M755 1678q-8 17 -26 24M708 1699q2 -4 1 -8M770 1688q-4 6 -10 10M770 1688q-6 -7 -15 -10M757 1669q-3 2 -5 5M761 1655q-4 -8 -13 -12M766 1637q-1 9 7 14M766 1637q-8 7 -18 2M868 1666q12 8 22 17M868 1666q9 -15 26 -16M894 1650q9 0 13 8M889 1683q1 2 2 3M891 1686q11 -14 27 -24M878 1567q11 2 17 11M878 1567q-13 0 -24 8M855 1575q7 21 -9 37M846 1612q0 0 1 1M874 1602q-11 11 -27 11M521 1442q-2 -10 2 -19M521 1442q6 -3 13 -4M535 1438q13 -4 14 -18M579 1692q2 1 5 2M579 1692q-27 -5 -44 16M584 1693q-3 9 -9 17M598 1690q1 0 2 2M662 1689q4 4 7 7M662 1689q19 -12 41 -12M669 1696q14 -16 35 -11M709 1691q-4 -1 -5 -5M680 1672q2 -13 -5 -25M680 1672q-6 6 -14 9M669 1649q-6 8 -6 17M663 1666q6 6 4 14M770 1688q6 -1 12 -3M759 1698q1 18 18 24M782 1685q4 5 7 11M789 1697q-2 15 -11 26M853 1626q-1 9 -5 18M853 1626q19 11 38 1M849 1645q20 -10 42 -12M891 1633q-1 -3 -0 -6M859 1668q-2 -1 -3 -4M859 1668q4 1 8 -2M894 1650q2 -1 2 -4M856 1664q-8 -8 -8 -19M891 1633q-1 8 5 13M896 1646q8 -17 27 -16M891 1686q-0 1 0 2M855 1575q-5 -7 -14 -6M810 1606q-7 7 -6 18M805 1623q1 1 1 1M810 1606q1 -11 -8 -17M805 1623q-1 0 -1 -0M803 1623q-4 -12 -12 -22M779 1603q-4 -1 -7 -1M779 1603q2 7 2 15M758 1618q10 -4 10 -15M758 1618q12 -0 23 0M768 1603q2 1 4 -0M791 1601q-7 -3 -12 2M796 1587q2 3 4 3M796 1587q-16 2 -24 16M796 1624q4 1 7 -1M796 1624q-5 -8 -15 -6M878 1567q6 -6 11 -13M890 1554q-0 -8 -6 -13M884 1541q-7 -0 -13 -2M871 1539q-25 4 -30 29M742 1669q-13 1 -21 -9M721 1661q-7 11 -18 16M676 1646q16 -3 25 10M676 1646q-0 0 -0 0M680 1672q8 3 16 0M660 1687q4 -3 7 -7M703 1677q-5 -0 -6 -5M555 1671q4 -1 8 -3M619 1675q-2 -14 7 -24M638 1677q3 -14 12 -25M649 1653q-3 -4 -7 -4M642 1649q-8 4 -16 2M527 1523q9 -4 10 -13M535 1500q1 5 3 10M537 1510q0 -0 0 -0M877 1465q4 -10 -1 -20M844 1460q17 -7 32 -15M899 1494q-5 -13 -2 -27M897 1467q3 -1 6 -4M694 1537q14 0 26 5M748 1529q-16 2 -27 13M639 1684q-2 5 -8 7M640 1684q9 -1 17 3M630 1693q1 -1 1 -2M630 1693q-6 9 1 18M657 1687q-11 16 -20 33M604 1681q5 -8 15 -6M600 1692q16 7 32 -1M638 1677q3 3 2 7M669 1649q-11 -1 -20 4M660 1687q-1 0 -3 0M610 1708q11 -6 20 -15M610 1708q11 -1 21 4M780 1656q4 -1 8 -1M782 1685q1 -5 6 -6M788 1679q-5 -12 0 -25M889 1602q-1 4 -1 9M887 1611q6 2 10 6M874 1602q7 -4 15 1M853 1624q-3 -6 -6 -11M853 1624q16 -10 35 -13M891 1627q1 -6 6 -9M853 1626q-0 -1 -0 -2M891 1688q-1 1 -1 2M890 1690q1 1 0 3M834 1463q-6 8 -7 19M869 1470q-7 5 -14 10M854 1480q-2 12 6 22M819 1488q5 10 4 21M860 1502q-19 2 -37 7M797 1535q-0 3 -2 6M797 1535q-6 -4 -12 -4M795 1541q-17 14 -39 11M784 1530q-14 10 -31 14M754 1544q1 4 2 8M801 1530q-2 3 -4 4M801 1530q-15 -12 -13 -31M770 1515q-1 0 -1 0M749 1537q2 -4 0 -8M749 1537q5 2 5 7M748 1639q-2 -0 -3 -2M726 1652q9 -8 19 -15M766 1637q16 -3 30 -13M758 1618q-10 3 -14 13M744 1631q1 3 1 6M796 1587q-5 -2 -5 -7M768 1603q-0 -3 -2 -6M766 1596q16 -3 25 -17M839 1567q-25 2 -48 11M840 1568q-1 -0 -1 -1M791 1580q-0 -1 0 -2M825 1557q7 5 14 9M825 1557q-10 -7 -22 -5M802 1553q-2 1 -4 0M798 1553q-3 1 -4 4M794 1557q-1 4 -3 7M791 1564q4 7 0 13M791 1578q0 -1 -0 -1M604 1681q0 -9 -4 -18M626 1651q-1 0 -2 -0M625 1651q-14 4 -25 13M593 1639q2 -2 3 -5M596 1635q8 8 18 4M614 1639q-12 9 -25 16M563 1668q-2 -12 7 -21M587 1662q2 -3 3 -7M625 1651q-2 -6 -4 -11M614 1639q2 1 4 -0M621 1639q-1 -1 -2 -1M535 1684q-13 -9 -13 -24M522 1660q-3 1 -5 1M516 1661q-12 -9 -16 -23M647 1463q2 5 8 7M627 1459q-7 16 -24 18M593 1488q8 -3 9 -12M618 1502q14 -21 37 -32M711 1446q-5 12 -2 24M711 1446q-7 -2 -14 -3M709 1470q-12 17 -32 12M677 1482q-4 2 -8 0M669 1482q-4 -6 -9 -11M696 1443q-0 -1 -0 -2M696 1441q-17 -2 -32 -12M660 1471q-3 2 -5 -0M708 1494q-9 2 -17 -4M708 1494q-21 10 -39 25M669 1519q9 -16 23 -29M677 1482q6 6 15 8M668 1521q-4 -3 -10 -3M668 1521q1 -0 2 -1M658 1517q14 -15 11 -36M658 1517q-7 3 -14 5M618 1502q-2 6 3 11M645 1522q-12 -5 -24 -9M680 1538q-7 1 -9 7M680 1538q6 -4 12 0M670 1583q17 1 27 -14M670 1583q-10 -5 -21 -8M697 1569q-7 -15 -5 -31M671 1545q-2 21 -22 30M515 1587q-4 -9 -8 -18M696 1441q-1 -4 2 -6M699 1435q-3 -8 -7 -15M535 1438q8 2 14 7M519 1472q9 5 17 -1M549 1445q-14 10 -14 27M535 1500q5 -6 5 -14M535 1471q0 0 0 0M591 1488q-11 1 -18 -8M591 1488q-16 14 -36 9M573 1480q-4 0 -6 4M539 1510q19 -3 36 4M593 1488q-1 -1 -2 -1M539 1486q3 -2 6 -2M539 1510q-1 1 -2 0M602 1477q-6 -3 -9 -9M621 1445q-10 -5 -18 1M603 1446q-8 4 -16 7M573 1480q1 -2 -1 -4M593 1467q-9 9 -21 8M729 1441q3 6 4 12M729 1441q4 -6 10 -7M774 1444q-13 -17 -34 -11M775 1450q-20 10 -42 2M837 1437q0 -1 1 -1M831 1441q-9 -11 -12 -25M838 1436q5 -3 5 -8M877 1443q0 -1 1 -1M877 1443q-18 -15 -40 -5M834 1463q-9 -7 -7 -19M828 1445q2 -1 4 -4M796 1451q-13 17 -10 39M796 1451q1 -0 2 -0M792 1495q-2 -3 -5 -5M819 1488q-4 -2 -7 1M801 1530q7 -9 18 -13M788 1499q1 -3 4 -4M819 1517q2 -4 4 -8M774 1444q4 -8 8 -16M775 1451q11 -3 21 0M734 1548q-6 -3 -12 -1M722 1547q-12 8 -17 22M749 1537q-8 5 -15 11M720 1542q-1 3 2 5M732 1564q-4 -2 -9 -1M754 1556q2 -2 2 -5M702 1570q-3 0 -5 -1M702 1570q2 -1 3 -2M694 1537q-1 0 -2 1M711 1446q9 -2 18 -5M789 1697q10 8 23 4M789 1697q13 -6 27 -12M812 1701q5 -10 15 -12M827 1689q-4 -0 -5 -3M822 1686q-3 1 -6 -1M789 1697q0 0 1 -0M788 1679q8 0 15 -5M838 1707q2 -10 10 -16M848 1684q-10 2 -20 5M859 1668q-8 6 -12 16M856 1664q-19 -6 -35 6M801 1642q-2 2 -4 4M797 1646q10 9 13 23M813 1667q-1 1 -2 1M848 1644q-12 3 -24 9M822 1670q-4 -3 -8 -3M802 1674q2 -5 8 -5M873 1697q-4 7 -6 14M873 1697q-10 2 -20 -3M854 1693q5 5 3 11M890 1690q-7 7 -16 7M848 1691q3 0 5 3M871 1506q10 2 18 -5M871 1506q-1 1 -1 1M870 1506q-3 9 -10 17M868 1528q-6 0 -9 -5M868 1528q10 3 20 -1M896 1522q-2 5 -8 6M899 1494q-6 2 -10 7M881 1466q-2 0 -4 -1M860 1502q5 1 9 4M884 1541q-2 -8 5 -14M851 1538q7 -6 8 -15M851 1538q-9 4 -19 2M859 1523q-12 1 -23 5M835 1529q1 -0 1 -1M839 1567q3 -16 12 -28M859 1523q-0 0 -1 0M819 1517q7 7 16 11M798 1553q0 -6 -3 -12M689 1637q10 4 20 4M689 1637q14 -6 29 -11M709 1642q16 -1 25 -14M718 1626q8 4 17 2M683 1637q3 -1 6 -0M707 1651q-1 -5 2 -10M705 1614q8 4 13 12M744 1631q-3 -5 -9 -3M735 1628q-0 -0 -0 0M733 1610q-11 9 -24 3M733 1610q3 9 2 18M754 1556q2 2 2 5M755 1561q4 1 8 2M791 1564q-16 4 -27 17M764 1563q2 9 -0 17M766 1596q-6 -2 -10 -6M744 1592q6 1 12 -1M791 1577q-13 14 -30 7M755 1590q2 -4 6 -6M616 1598q-1 5 -5 9M616 1598q23 5 47 8M616 1613q12 1 21 10M663 1606q2 2 1 5M596 1635q-1 -8 -0 -16M596 1619q5 -10 15 -12M618 1638q-5 -13 -2 -26M621 1639q10 -7 17 -17M685 1614q-10 -5 -21 -3M707 1586q-9 16 -22 28M707 1586q-6 -7 -5 -16M670 1583q-1 13 -7 24M521 1607q7 -4 14 -10M535 1597q1 -4 -3 -6M576 1514q-0 1 -0 1M575 1515q7 6 7 15M621 1513q-11 6 -17 17M603 1530q-10 -5 -21 -0M550 1542q6 -3 12 1M562 1543q9 -5 18 -8M633 1550q-5 22 -20 38M633 1550q2 0 4 2M641 1577q-12 7 -24 13M668 1521q9 6 13 17M627 1543q3 3 6 6M649 1575q-5 0 -8 3M616 1598q2 -4 1 -8M514 1555q9 -11 22 -18M545 1544q0 0 -0 1M544 1546q0 -1 1 -1M527 1523q6 6 8 14M550 1542q-1 3 -4 2M561 1564q5 1 8 -3M561 1564q-6 2 -12 -0M569 1561q-15 -3 -24 -16M544 1546q-1 2 -2 5M550 1563q-5 -6 -7 -13M601 1438q13 -5 15 -19M601 1438q-3 -7 -8 -12M603 1446q-2 -4 -2 -8M571 1437q9 -9 22 -11M587 1454q-3 -1 -5 1M573 1476q1 -3 -2 -5M568 1471q1 -1 3 -0M772 1454q-25 -7 -41 14M720 1492q-2 -8 2 -15M722 1477q4 -5 10 -9M775 1451q-2 1 -3 3M733 1453q-2 7 -1 15M786 1490q-12 -10 -27 -7M765 1512q2 1 4 3M765 1512q2 -16 -11 -26M765 1512q-16 -12 -35 -14M709 1470q5 5 13 7M708 1494q6 1 12 -3M878 1442q2 -1 5 -2M883 1440q15 -17 35 -27M755 1561q-7 5 -10 14M744 1592q-1 -0 -1 -1M709 1612q4 -15 18 -22M742 1591q-8 4 -15 -0M567 1633q-0 -1 0 -2M567 1630q-12 -5 -24 -1M549 1652q-9 1 -16 -6M533 1646q5 -5 3 -12M555 1671q-3 -10 -6 -19M569 1647q-2 -7 -3 -14M596 1619q-8 5 -16 4M579 1623q-5 5 -12 8M522 1660q8 -5 11 -14M543 1629q19 -6 28 -24M543 1629q-2 -15 -1 -31M551 1595q-4 1 -8 3M551 1595q10 5 20 1M579 1623q-2 -10 -9 -19M596 1583q-4 -17 -21 -21M603 1583q-3 -20 11 -34M614 1549q-6 -1 -11 -3M602 1547q-12 7 -25 11M575 1563q1 -1 -0 -2M576 1558q0 -0 0 -0M571 1596q14 -2 25 -13M551 1595q3 -22 24 -32M627 1543q-5 8 -14 6M603 1530q-0 8 -1 17M580 1535q2 12 -3 23M534 1588q-1 1 -1 3M534 1588q12 -14 27 -24M569 1561q3 1 5 -1M562 1543q9 7 15 15M534 1581q-6 -8 -13 -15M534 1581q-1 -7 4 -12M534 1588q-1 -3 1 -7M550 1563q-4 6 -11 6M542 1551q-1 9 -10 12M571 1445q-6 17 -23 22M571 1445q2 1 2 3M548 1467q4 -1 9 -0M569 1440q2 2 2 5M583 1455q-6 -2 -9 -7M883 1440q11 10 24 4M733 1569q-3 5 -7 10M726 1579q8 -0 13 -6M732 1564q2 3 0 5M746 1575q-3 -2 -7 -2M718 1587q2 -5 7 -8" stroke="#eef2f8" stroke-width="2.0" stroke-opacity="0.75" stroke-linecap="round" fill="none" filter="url(#softb)"/>
<path d="M861 1658l1.5 -0.9M881 1558l1.1 -0.4M824 1625l1.5 -0.7M595 1460l1.2 -1.3M592 1482l1.2 -0.7M559 1538l0.9 -0.1M797 1527l0.8 -0.6M713 1456l1.8 -0.1M606 1681l1.6 -1.0M537 1579l1.4 -1.2M816 1641l1.6 -0.1M790 1548l0.8 -0.7M814 1649l1.6 -0.2M801 1687l1.6 -0.1M568 1679l1.2 -0.7M674 1621l0.8 -0.6M621 1669l1.3 -1.3M542 1590l0.9 -0.6M613 1546l0.7 -0.5M662 1609l0.8 -0.7M816 1540l1.3 -0.6M756 1537l1.4 -0.3M631 1668l1.4 -0.1M646 1476l0.7 -0.6M650 1629l0.8 -0.5M607 1629l1.7 -0.2M724 1615l1.1 -0.9M595 1479l1.1 -0.5M583 1536l1.1 -0.2M683 1456l1.7 -0.9M709 1549l1.5 -0.2M646 1581l1.1 -0.9M866 1502l1.9 -0.1M841 1529l0.8 -0.2M797 1479l0.9 -0.9M878 1555l0.8 -0.7M870 1506l1.3 -1.0M676 1621l0.7 -0.5M595 1518l1.6 -0.7M770 1678l1.4 -0.7M646 1497l0.7 -0.8M658 1688l0.8 -0.8M585 1604l1.1 -0.4M665 1606l1.1 -0.6M607 1600l1.3 -0.8M843 1656l1.2 -0.2M753 1573l1.3 -0.7M732 1481l1.3 -0.7M826 1617l1.2 -0.1M692 1611l1.1 -0.1M679 1545l1.8 -0.2M614 1596l0.9 -0.4M733 1576l1.6 -1.1M545 1602l1.0 -0.3M689 1594l1.0 -0.4M741 1674l1.0 -0.1M586 1565l0.8 -0.8M880 1628l1.4 -0.9M642 1628l1.3 -0.6M879 1549l1.7 -0.8M836 1484l0.8 -0.9M879 1570l1.1 -0.8M615 1652l1.4 -0.5M760 1676l1.0 -0.9M823 1642l1.3 -0.6M712 1689l1.6 -0.1M556 1660l1.0 -0.5M782 1513l0.9 -0.2M815 1561l1.1 -0.2M720 1659l1.4 -1.0M601 1520l1.7 -0.8M758 1471l1.2 -0.5M727 1640l1.7 -0.8M705 1511l1.1 -0.8M813 1656l1.6 -0.7M803 1584l1.0 -0.8M850 1642l1.1 -0.2M586 1540l1.7 -0.1M568 1462l1.8 -0.5M654 1658l1.7 -0.5M824 1481l1.7 -0.3M597 1545l1.0 -0.2M830 1600l0.9 -0.7M848 1471l1.3 -1.4M878 1503l1.2 -0.8M753 1661l1.6 -0.6M787 1500l1.9 -0.2M767 1556l1.1 -1.1M539 1534l1.2 -1.1M643 1603l1.9 -0.3M631 1596l0.9 -0.8M776 1496l1.6 -0.4M578 1618l1.8 -0.6M696 1484l0.9 -0.2M574 1676l0.9 -0.1M746 1538l1.7 -0.4M601 1689l1.7 -0.7M775 1628l1.8 -0.6M659 1527l1.2 -0.7M676 1488l0.8 -0.9M754 1554l1.0 -0.2M820 1550l1.0 -0.3M693 1573l1.6 -0.5M862 1536l1.2 -0.8M779 1509l0.9 -0.7M735 1521l1.5 -0.4M838 1522l1.6 -1.0M831 1614l1.9 -0.2M692 1674l1.2 -0.1M668 1629l1.5 -0.1M743 1560l1.4 -0.9M556 1553l1.1 -0.5M632 1558l1.0 -1.0M866 1523l1.7 -0.7M776 1613l1.3 -0.3M619 1551l0.9 -0.7M579 1666l1.2 -0.9M621 1553l0.9 -0.8M653 1648l0.8 -0.5M830 1593l1.4 -0.1M724 1477l1.4 -0.8M847 1475l1.0 -0.8M660 1542l1.4 -0.1M786 1612l0.9 -0.5M653 1666l1.6 -0.4M865 1459l1.4 -0.5M754 1565l1.9 -0.2M660 1564l1.0 -0.4M643 1613l1.8 -0.8M745 1683l1.0 -0.2M875 1689l0.7 -0.6M671 1650l1.2 -0.8M760 1619l1.6 -0.4M882 1469l1.2 -0.3M695 1549l1.5 -0.4M762 1505l1.2 -0.6M879 1503l0.9 -0.4M662 1487l1.9 -0.2M671 1629l0.6 -0.6M562 1493l1.1 -0.3M760 1601l1.0 -0.9M792 1514l1.2 -0.5M817 1627l1.5 -0.8M804 1482l1.5 -0.5M697 1458l1.1 -1.1M834 1677l1.2 -1.1M846 1459l0.8 -0.4M656 1580l0.6 -0.6M720 1480l1.1 -0.6M809 1525l1.0 -0.1M710 1483l1.6 -0.8M732 1485l1.3 -0.8M564 1575l1.4 -1.3M636 1638l0.9 -0.7M619 1552l1.6 -0.8M552 1505l1.1 -0.6M691 1586l1.5 -1.1M693 1655l1.7 -0.5M570 1655l1.1 -0.7M587 1683l1.2 -0.6M717 1550l1.1 -0.4M747 1658l1.1 -0.7M870 1552l1.5 -0.8M537 1490l1.4 -0.2M819 1628l1.2 -0.7M782 1490l1.8 -0.1M719 1461l1.5 -0.8M572 1525l1.5 -0.4M871 1606l1.1 -0.3M829 1465l1.8 -0.6M678 1472l1.4 -0.7M624 1480l1.2 -1.0M854 1532l1.6 -0.7M704 1609l1.6 -1.0M843 1678l1.1 -1.2M732 1572l1.3 -0.3M849 1547l1.1 -0.4M638 1629l0.9 -0.5M623 1541l1.5 -1.2M683 1567l1.3 -1.3M658 1555l1.5 -0.3M691 1466l1.5 -0.9M825 1468l1.4 -0.4M717 1583l1.6 -0.4M673 1507l1.2 -0.9M568 1542l1.5 -0.6M643 1568l1.4 -0.1M614 1631l1.0 -0.2M704 1456l1.2 -0.3M675 1683l1.6 -1.1M536 1594l1.4 -0.6M869 1540l1.1 -0.9M742 1541l1.5 -0.2M638 1598l1.3 -0.9M739 1528l1.5 -0.8M707 1576l0.9 -0.3M797 1466l1.2 -0.5M565 1513l1.8 -0.7M627 1642l1.6 -1.0M682 1657l1.2 -1.2M674 1521l1.1 -0.3M771 1474l1.6 -0.3M877 1651l1.0 -0.7M648 1529l1.1 -0.5M820 1640l0.7 -0.4M758 1467l1.2 -1.0M800 1465l1.2 -0.2M751 1585l1.5 -1.1M857 1605l0.8 -0.7M541 1675l0.9 -0.2M796 1591l1.4 -1.0M535 1628l1.3 -0.4M680 1614l0.9 -0.2M877 1671l1.4 -1.1M559 1639l1.6 -0.4M687 1631l1.2 -0.2M665 1560l1.0 -0.5M686 1482l1.1 -0.6M645 1628l1.6 -0.6M558 1481l1.5 -0.1M825 1611l0.9 -0.7M725 1481l1.2 -1.0M574 1527l1.6 -1.0M866 1586l1.2 -0.6M855 1503l1.8 -0.2M678 1581l1.2 -1.0M826 1483l1.2 -0.3M839 1565l1.1 -0.1M544 1556l1.4 -1.1M665 1613l1.0 -0.8M579 1638l1.1 -1.2M586 1643l1.1 -1.1M614 1643l1.6 -0.7M608 1645l1.1 -1.0M604 1645l0.8 -0.5M605 1643l1.8 -0.7M589 1634l1.3 -1.3M588 1642l0.7 -0.7M608 1631l1.2 -1.0M589 1634l1.1 -0.3M614 1637l1.4 -0.9M596 1632l1.1 -0.8M599 1642l1.3 -0.8M584 1633l1.0 -0.7M609 1639l0.9 -0.7M586 1644l0.7 -0.5M583 1641l1.2 -0.9M584 1634l1.0 -0.2M617 1632l1.2 -0.6M585 1638l1.2 -0.2M599 1632l1.6 -0.6M597 1640l1.5 -0.4M618 1639l1.2 -0.7M584 1634l1.2 -0.5M592 1644l1.2 -0.5M607 1636l1.4 -0.3M606 1629l1.5 -1.1M601 1634l0.7 -0.5M603 1642l0.9 -0.2M588 1633l1.3 -0.9M622 1619l1.0 -0.1M633 1618l1.7 -0.5M614 1614l1.6 -0.4M632 1621l1.2 -0.7M617 1630l1.4 -0.2M618 1613l1.9 -0.2M621 1628l1.3 -1.2M619 1622l1.1 -0.1M619 1627l1.3 -0.6M628 1626l1.2 -0.2M619 1629l1.4 -0.1M620 1627l0.9 -0.0M631 1617l0.6 -0.6M626 1619l1.2 -0.4M608 1617l0.9 -0.4M620 1615l1.7 -0.9M614 1616l1.6 -0.6M624 1613l1.1 -1.0M631 1624l1.4 -0.2M609 1630l1.3 -1.0M623 1631l1.2 -0.5M613 1627l1.1 -0.4M663 1601l1.1 -1.1M635 1600l1.0 -0.3M649 1609l0.8 -0.8M662 1609l1.4 -0.9M637 1596l1.8 -0.7M652 1602l0.9 -0.3M642 1602l1.1 -0.2M654 1603l1.6 -0.4M655 1599l0.6 -0.7M645 1602l1.3 -1.1M653 1604l0.7 -0.8M662 1602l0.9 -0.5M657 1597l1.6 -1.0M631 1602l1.1 -0.2M642 1603l1.0 -0.3M639 1602l1.5 -0.1M636 1603l0.8 -0.3M645 1599l1.2 -0.2M635 1604l1.1 -0.3M642 1603l0.9 -0.4M661 1602l1.5 -1.2M657 1608l1.1 -0.1M667 1592l1.1 -1.1M684 1586l0.8 -0.6M686 1586l1.1 -0.2M681 1582l1.6 -0.1M687 1589l1.5 -0.5M662 1585l1.2 -0.3M661 1584l1.0 -1.0M683 1586l1.2 -0.7M667 1588l1.0 -1.0M687 1590l0.9 -0.0M675 1586l1.1 -0.7M687 1589l0.9 -0.4M673 1587l1.4 -1.2M658 1587l1.3 -0.6M605 1649l1.6 -0.6M619 1655l0.9 -0.7M606 1654l1.2 -1.2M612 1649l1.2 -1.3M599 1660l0.9 -0.5M614 1656l1.7 -0.6M603 1662l1.6 -0.4M592 1655l1.2 -1.2M600 1651l1.3 -1.2M606 1661l0.7 -0.7M611 1662l0.9 -0.1M604 1659l0.9 -0.9M607 1650l0.9 -0.1M605 1660l1.5 -0.2M604 1662l0.6 -0.6M604 1661l0.9 -0.7M645 1654l0.8 -0.6M637 1652l1.2 -1.0M638 1644l0.9 -0.4M642 1643l1.0 -0.8M649 1651l1.3 -0.6M640 1655l1.1 -0.6M634 1650l0.8 -0.3M630 1653l0.9 -0.6M647 1646l0.8 -0.1M628 1653l1.3 -0.7M641 1645l1.4 -0.1M633 1654l0.9 -0.5" stroke="#1e3872" stroke-width="4.0" stroke-linecap="round" stroke-opacity="0.85" fill="none" filter="url(#softn)"/>
<ellipse cx="693" cy="1550" rx="7" ry="11" fill="#666a7c" opacity="0.8" filter="url(#softb)"/><ellipse cx="798" cy="1619" rx="5" ry="6" fill="#6e7284" opacity="0.7" filter="url(#softb)"/>
</g>
<line x1="826.6" y1="1667.7" x2="874.0" y2="1667.7" stroke="#000" stroke-width="3" stroke-linecap="butt"/>
<g clip-path="url(#clip6)">
<rect x="890.3" y="1453.6" width="348.0" height="236.0" fill="#aa9d97"/>
<rect x="890.3" y="1453.6" width="348.0" height="236.0" fill="#000" filter="url(#nz7)"/>
<rect x="890.3" y="1453.6" width="348.0" height="236.0" fill="#000" filter="url(#nz8)"/>
<path d="M1189 1596q2 -3 5 -4M1193 1606q2 -1 4 -0M1194 1592q7 -5 15 -2M1197 1606q1 -11 11 -16M1118 1708q7 2 15 3M1121 1700q3 -2 6 -4M1127 1696q5 -2 10 0M1140 1703q-2 5 -7 8M1148 1686q4 4 9 6M1157 1692q-8 3 -16 1M1140 1703q3 -3 7 -2M1157 1692q1 2 3 1M1160 1693q-8 1 -13 8M1254 1501q1 -7 8 -10M1254 1502q-0 5 4 7M1070 1459q1 4 -1 7M1070 1459q-7 5 -14 1M1057 1460q-1 0 -1 0M1056 1460q0 3 -1 5M1216 1586q-3 2 -6 4M1230 1588q2 2 1 5M1229 1595q1 -1 2 -1M1197 1606q5 2 10 0M1208 1590q1 -1 2 -1M1224 1606q3 -3 6 -6M1224 1606q-6 4 -13 8M1211 1614q-2 -4 -4 -8M1230 1600q-1 -3 -1 -6M1241 1591q-6 -2 -10 2M1241 1591q3 1 4 3M1230 1588q3 -4 8 -6M1237 1582q3 4 6 6M1216 1586q0 -2 2 -3M1246 1571q-10 10 -23 8M1219 1583q1 -3 4 -4M1190 1567q5 -4 11 -5M1190 1567q-3 6 -11 8M1180 1575q-1 5 -3 9M1204 1562q-8 7 -7 17M1197 1579q-1 1 -2 2M1180 1585q-2 0 -4 -1M1180 1585q6 1 12 -1M1192 1583q2 -0 3 -2M1189 1596q-9 1 -17 6M1172 1602q-1 -2 -3 -2M1194 1592q1 -5 -2 -8M1169 1599q7 -6 11 -15M1219 1583q-12 -3 -24 -2M1256 1649q1 -0 2 0M1256 1649q1 -8 8 -14M1258 1650q8 2 14 -2M1127 1696q-3 -3 -2 -6M1125 1690q4 -10 15 -12M1144 1677q-1 0 -1 0M1147 1673q-2 1 -3 3M1147 1673q-1 -5 3 -8M1148 1663q1 2 2 3M1148 1663q-15 -2 -24 11M1143 1677q-9 -2 -19 -4M1222 1704q8 0 13 -7M1244 1698q-4 -1 -9 -1M1256 1698q2 0 3 1M1247 1698q4 -1 8 -2M1208 1561q7 1 12 -3M1208 1561q1 8 6 15M1221 1559q3 -1 5 1M1215 1576q2 -0 3 0M1204 1562q2 -0 5 -1M1197 1579q9 1 18 -3M1249 1568q-0 0 -0 0M1249 1568q-8 -2 -13 -9M1222 1579q-1 -3 -4 -3M1224 1544q-5 6 -2 14M1224 1544q13 2 21 -8M1222 1557q10 -13 25 -21M1245 1536q0 1 1 1M1245 1535q2 -2 2 -4M1247 1530q-5 -9 -16 -8M1233 1534q-7 -4 -15 -4M1231 1522q-5 7 -13 9M1233 1520q-0 1 -1 2M1249 1517q0 -3 3 -4M1221 1458q7 -2 13 -7M1221 1458q-4 -4 -10 -5M1211 1453q1 -0 2 -1M1245 1449q-0 -0 0 -1M1246 1448q-8 2 -15 -2M1231 1446q-6 9 -17 7M1212 1447q5 -4 12 -6M1212 1447q6 -4 7 -10M1224 1441q2 -4 3 -8M1219 1436q5 0 8 -4M1203 1437q8 5 16 -1M1203 1437q-4 2 -8 4M1203 1437q8 -4 16 -9M1233 1440q1 -2 4 -2M1233 1440q-4 2 -9 1M1255 1471q0 5 -3 9M1253 1487q-1 -3 -1 -7M871 1452q-12 4 -24 -1M873 1540q2 1 5 -0M873 1540q-10 -1 -16 7M878 1540q1 8 -6 12M872 1552q-6 -3 -11 2M872 1552q5 1 10 -1M882 1550q-10 2 -12 12M877 1564q-4 -3 -8 -2M1077 1582q1 -2 4 -2M1077 1582q5 6 9 13M1086 1595q2 -2 5 -1M1094 1577q-6 8 -3 17M1172 1602q-6 3 -6 10M1169 1599q-4 -1 -7 -1M1166 1611q-7 -4 -14 1M1152 1613q-2 -3 -2 -7M1150 1606q8 -1 12 -7M1071 1566q6 -1 12 2M1071 1566q-9 3 -17 7M1083 1568q-5 6 -2 12M1053 1572q-0 6 -5 10M1077 1582q-10 10 -23 7M1057 1602q-0 -6 -6 -8M1054 1589q-2 2 -3 4M1118 1708q-7 2 -15 4M1121 1700q-3 3 -8 1M1114 1701q-2 8 -10 11M1051 1619q3 -2 6 -1M1051 1619q-4 4 -7 9M1059 1627q-2 1 -3 2M1059 1627q2 -3 2 -7M1044 1628q2 2 5 2M1061 1620q-3 0 -4 -2M1076 1601q1 4 1 7M1057 1602q-0 6 2 12M885 1656q2 1 4 1M885 1656q-9 -0 -16 5M887 1662q-7 6 -16 9M888 1657q-0 0 0 1M1214 1653q-6 -1 -9 -5M1214 1653q5 -3 5 -9M1220 1644q-8 -2 -15 4M1250 1637q-1 7 2 13M1235 1643q7 2 9 9M1252 1649q-5 -1 -8 3M1256 1649q-2 -0 -4 0M1256 1633q-2 3 -6 4M1227 1650q4 -2 5 -6M1227 1650q2 5 5 9M1232 1644q1 -0 3 -1M1232 1659q1 1 2 1M1234 1659q4 -4 9 -7M1236 1667q-2 -4 -1 -8M1236 1667q0 0 1 0M1258 1650q-7 6 -11 14M1236 1668q4 -5 11 -4M1247 1663q4 -1 7 -1M1150 1682q9 -2 19 -1M1147 1673q17 2 32 -5M1160 1693q3 -1 5 -2M1165 1691q2 -4 5 -5M1169 1681q-0 3 2 5M1235 1697q0 -0 -0 -0M1255 1684q-9 -3 -15 3M1249 1568q6 -1 10 -5M1249 1569q3 6 10 9M1245 1536q-0 -0 -0 -1M1246 1537q0 0 1 0M1247 1537q8 -10 20 -7M1241 1556q-0 -7 6 -11M1241 1556q6 -5 13 -6M1236 1559q4 -0 5 -4M1221 1559q1 -0 1 -1M1250 1539q-1 3 -3 6M1258 1548q-2 2 -4 2M1201 1562q-2 -1 -2 -3M1224 1544q-4 1 -7 -1M1199 1559q6 -11 18 -16M1217 1543q0 -0 -0 -1M1182 1435q-11 -6 -24 -4M1181 1438q6 6 13 3M1181 1438q-1 -1 1 -2M1257 1450q7 0 14 -4M1257 1451q6 4 10 9M1248 1440q9 -2 16 -9M1246 1451q0 -2 -1 -3M1246 1451q5 -3 10 -1M1246 1448q1 -1 2 -2M1231 1446q1 -3 2 -6M1245 1438q-4 -1 -8 0M1245 1438q1 2 3 2M1245 1438q3 -8 9 -14M1075 1439q2 6 9 6M1075 1439q0 -6 6 -8M1028 1565q4 4 9 2M1028 1565q-2 12 -13 17M1036 1567q-7 8 -15 16M1014 1582q4 1 7 0M1008 1573q12 2 18 -9M1008 1573q-4 6 -9 11M1026 1565q1 1 2 1M1007 1584q4 1 8 -2M1053 1572q-2 -3 -5 -3M1048 1582q-11 -0 -21 5M1028 1586q-4 -1 -6 -4M1049 1569q-3 -0 -5 -2M1044 1567q-4 1 -7 0M1026 1565q-0 -1 -0 -3M1056 1552q-1 -2 -3 -3M1026 1562q4 -6 11 -9M1207 1453q-0 -0 -0 -0M1164 1447q-8 5 -16 -0M1164 1447q6 -7 16 -8M1180 1438q-0 0 -0 0M1148 1446q-0 -6 5 -8M1153 1438q0 -0 -0 -1M1207 1453q-1 3 -2 4M1204 1458q-12 3 -21 10M1193 1458q-2 9 -11 10M1183 1468q-1 -0 -1 -0M1204 1458q-5 7 -6 15M1183 1468q8 2 15 5M1090 1529q7 -10 18 -8M1090 1529q-1 2 -3 2M1087 1531q7 3 12 8M1099 1539q6 -6 15 -6M1114 1533q-5 -5 -2 -11M1108 1521q2 -1 4 1M1190 1567q-12 -0 -24 4M1169 1558q14 -9 29 0M1160 1566q1 3 4 4M1199 1559q-0 -0 -1 -0M1166 1571q-1 -1 -2 -0M1180 1575q-5 -1 -9 1M1166 1571q1 4 5 5M1160 1566q-3 -0 -6 2M1169 1555q-4 -1 -9 -3M1160 1552q-5 9 -15 8M1145 1560q-0 1 0 2M1154 1568q-5 -2 -9 -5M1136 1562q1 -1 2 -2M1136 1562q1 2 4 3M1137 1560q4 1 8 0M1140 1565q3 0 5 -2M1140 1565q-5 4 -5 9M1139 1540q4 -2 7 -5M1139 1540q0 2 2 3M1158 1548q3 -2 3 -5M1146 1535q7 5 15 8M1195 1540q-7 -2 -13 3M1195 1532q-9 -2 -14 5M1181 1537q2 3 1 6M1173 1551q-2 2 -5 3M1173 1551q5 -2 7 -7M1181 1544q1 -1 1 -1M1162 1543q6 -5 14 -8M1175 1535q3 1 6 2M1246 1451q-5 1 -6 6M1226 1463q0 -0 0 -0M1241 1457q-5 8 -14 6M1171 1507q-5 -0 -8 3M1177 1501q-6 -5 -14 -5M1163 1496q-6 5 -7 13M1220 1506q-5 3 -10 7M1210 1512q-5 -4 -11 -3M1222 1502q-1 -2 -2 -3M1220 1499q-12 4 -21 11M1195 1532q1 -1 1 -2M1195 1531q0 -3 0 -6M1196 1525q-2 -0 -3 0M1192 1525q-7 5 -17 6M1153 1531q10 -4 21 -2M1153 1531q-3 -0 -5 2M1146 1535q0 -1 1 -2M1176 1531q-1 -1 -2 -1M1018 1479q-4 -2 -4 -7M1018 1479q-4 2 -6 5M1014 1472q-9 10 -22 7M898 1436q3 -1 5 -4M919 1525q-5 -6 -13 -6M919 1526q-14 2 -26 11M881 1518q-10 2 -20 6M889 1544q-2 5 -8 6M878 1540q6 -2 12 -1M890 1543q-1 -2 0 -5M882 1550q-0 0 -0 0M889 1538q0 0 1 0M922 1506q-6 2 -11 -3M922 1506q-4 11 -16 12M902 1505q-3 8 -10 14M902 1505q5 -1 10 -1M893 1519q-0 0 -0 -0M964 1459q8 3 13 -4M978 1451q-1 2 -1 4M1033 1476q1 -1 3 -0M1030 1488q-6 5 -14 5M1030 1488q6 -4 7 -11M1037 1477q-1 -1 -1 -2M1011 1484q-1 1 -1 1M1012 1501q2 -2 4 -2M1012 1501q-8 -0 -15 3M1016 1494q-8 1 -16 5M1016 1493q-0 0 -0 1M1010 1486q-3 -0 -5 2M1005 1488q-3 2 -6 4M1000 1499q0 -4 -1 -7M992 1504q-2 -4 -2 -8M992 1504q2 1 4 -1M999 1492q-2 3 -4 2M994 1494q-1 3 -4 3M948 1522q2 -3 5 -6M953 1517q4 -1 7 -3M982 1515q-2 -2 -1 -5M981 1510q-1 0 -2 -0M948 1523q5 0 9 1M960 1514q9 -6 19 -4M987 1443q-6 3 -9 9M986 1439q-4 2 -8 1M972 1453q-7 -1 -9 -8M978 1440q-7 6 -15 5M934 1457q11 -5 23 -6M957 1451q4 -1 6 -6M939 1445q10 3 20 -2M957 1452q0 -0 -0 -1M957 1452q3 3 6 4M962 1445q0 -0 0 -0M987 1438q5 -9 15 -9M987 1438q-1 -8 -6 -13M986 1439q1 -0 1 -1M978 1440q-5 -4 -7 -11M958 1438q6 -5 12 -9M935 1540q-0 0 -1 1M935 1540q-2 -7 -8 -12M934 1541q-4 -4 -10 -2M924 1539q0 -4 -0 -9M927 1528q-1 0 -1 0M947 1535q-7 -1 -12 5M933 1543q0 -1 1 -2M925 1545q-1 1 -3 -0M919 1526q4 -0 7 2M911 1541q10 -2 13 -11M893 1536q-1 2 -3 2M982 1618q-1 1 -0 2M982 1618q-2 -5 -7 -5M975 1613q-1 0 -3 1M982 1620q-6 1 -9 6M972 1626q-0 -5 -5 -7M967 1619q3 -3 5 -6M881 1570q0 3 1 7M882 1577q-4 5 -10 4M871 1581q0 0 1 -0M876 1592q1 -3 0 -6M1114 1533q2 -0 4 1M1118 1533q3 6 1 12M1099 1545q9 3 19 1M1119 1545q-0 0 -1 1M1080 1550q-2 5 -6 8M1080 1550q0 -1 -1 -2M1076 1546q2 1 3 1M1076 1546q-7 0 -11 5M1074 1557q-4 -3 -9 -2M1065 1555q-0 -2 1 -4M1073 1563q9 -5 18 -9M1073 1563q0 -3 1 -5M1091 1554q0 -1 -0 -2M1091 1552q-5 -2 -11 -2M1097 1541q-8 7 -18 7M1087 1531q-6 0 -11 4M1071 1566q2 -1 2 -3M1049 1569q6 -9 16 -13M1056 1552q5 3 9 -0M1008 1589q-5 10 -17 9M997 1604q5 -7 14 -5M997 1604q-1 -1 -3 -0M1011 1599q1 -1 1 -2M992 1601q-1 -1 -1 -3M1007 1584q1 2 1 5M1028 1586q-11 1 -16 11M997 1610q-6 8 -15 9M975 1613q9 -6 20 -10M1051 1593q-17 -3 -26 11M1026 1605q-6 -6 -15 -6M964 1605q-0 2 -2 4M962 1609q4 5 10 5M1094 1577q4 -2 8 -3M1093 1594q13 -5 13 -19M1106 1574q-2 1 -5 0M1101 1575q-0 -7 -3 -13M1108 1592q16 -2 30 -8M1112 1587q8 -13 24 -13M1140 1575q-2 -1 -5 -1M1106 1594q-6 4 -13 -0M1110 1574q-2 7 2 13M1110 1574q-2 -1 -3 0M1107 1574q-0 0 -1 0M1121 1570q-0 -0 -0 0M1154 1568q-6 6 -14 7M1034 1613q12 -1 20 -9M1034 1613q-2 4 0 8M1054 1604q-0 10 -10 14M1057 1602q-2 0 -3 3M1051 1619q-3 -2 -7 -1M1060 1614q-0 3 -3 3M1022 1630q9 -1 12 -9M1022 1630q11 -0 22 -2M1123 1647q-7 0 -12 5M1123 1647q-2 -2 -2 -5M1111 1652q-7 -1 -13 -4M1099 1648q13 2 23 -5M1116 1666q-7 -0 -10 -7M1116 1666q7 -8 17 -8M1106 1659q4 -2 5 -6M1134 1658q0 -4 -3 -8M1125 1647q3 1 6 3M1130 1633q-3 4 -8 6M1122 1643q-0 -2 1 -3M1150 1665q8 -8 18 -4M1168 1661q6 -0 9 5M1023 1709q-1 -0 -1 0M1023 1709q1 2 3 3M1022 1709q-9 7 -18 12M960 1639q4 4 3 9M960 1639q5 -3 11 -7M963 1648q12 -1 19 -10M971 1632q7 1 11 6M1029 1701q-5 -2 -5 -7M1029 1701q-1 1 -1 1M1028 1702q-10 0 -19 2M1024 1695q-2 -0 -3 -2M1012 1699q0 4 -4 6M1023 1709q3 -3 5 -6M1068 1682q-2 5 -7 5M1068 1682q6 2 12 1M1081 1683q-10 -0 -19 4M1056 1689q2 -2 5 -2M1056 1689q-3 -0 -5 1M1051 1690q2 -8 4 -16M1055 1675q5 6 13 7M1140 1678q-7 5 -15 1M1116 1666q-4 7 -11 10M1106 1659q-6 -1 -11 3M1095 1661q1 10 0 20M1148 1663q0 -2 -1 -3M1134 1658q5 3 10 -0M1105 1676q1 0 2 0M1092 1683q-10 2 -13 11M1079 1693q-9 4 -19 2M1061 1695q6 -1 10 -6M1081 1683q5 0 9 0M1055 1674q1 -0 2 -0M1055 1674q-0 0 -0 0M1055 1674q-0 0 0 0M1058 1674q15 13 34 5M1091 1679q2 0 3 2M1093 1683q0 -1 1 -1M1093 1683q-0 0 -1 0M1102 1697q-1 3 -4 3M1098 1700q-2 5 2 9M1071 1632q-6 1 -11 4M1065 1643q-6 -3 -12 -1M1056 1628q4 3 4 7M1043 1645q5 0 10 -3M1043 1645q-1 0 -1 1M1068 1644q-2 4 -5 7M1068 1644q-1 -1 -3 -1M1063 1651q-9 -4 -16 2M1131 1609q7 2 12 8M1131 1609q-0 -0 -0 -1M1150 1606q-7 3 -14 -1M1136 1605q-3 1 -5 3M1059 1627q5 -2 10 -1M888 1657q15 -7 27 4M915 1661q0 -5 1 -10M902 1650q7 -2 14 1M930 1658q-5 5 -12 5M930 1658q2 -3 3 -6M933 1652q-5 -2 -9 -6M916 1651q4 -2 8 -5M915 1636q-3 5 -9 4M915 1636q-2 -2 -2 -4M907 1640q-4 -2 -7 -1M914 1633q-6 -0 -11 3M899 1639q1 -2 3 -3M885 1656q3 -6 1 -12M907 1640q-4 4 -5 10M902 1650q-0 0 -0 0M899 1639q-8 1 -14 6M1224 1606q4 -3 8 -1M1242 1600q-3 5 -10 5M1254 1662q2 0 5 1M1214 1653q0 1 1 2M1205 1648q-2 0 -5 1M1197 1650q2 -0 3 -2M1197 1650q-1 5 0 9M1197 1659q9 -2 18 -4M1227 1650q-7 -1 -11 5M1232 1659q-9 -4 -16 2M1220 1644q3 -2 6 -2M1216 1655q-0 -0 -1 -0M1147 1701q10 -0 19 2M1219 1693q8 -1 15 -6M1219 1693q7 7 16 4M1234 1687q1 0 1 -0M1258 1541q8 -4 15 -9M1258 1541q3 2 6 3M1250 1539q5 -1 8 2M1258 1548q4 -0 6 -4M1198 1548q-1 -1 -2 -2M1196 1547q0 -0 -0 -1M1214 1534q0 2 -0 5M1214 1534q-5 12 -17 12M1196 1546q0 -0 0 -0M1198 1558q2 -5 0 -10M1217 1542q-1 -2 -3 -4M1173 1551q12 0 23 -5M1181 1544q7 5 16 1M1218 1531q-1 0 -2 1M1214 1533q-0 0 -0 0M1214 1533q-7 -2 -12 2M1249 1511q-2 1 -4 1M1245 1512q2 -2 4 -4M1249 1502q1 3 -0 5M1233 1520q0 -2 -1 -4M1249 1502q-5 5 -12 6M1249 1502q-2 -5 -4 -10M1234 1498q4 -3 8 -6M1234 1498q-2 3 -2 7M1232 1505q2 2 5 3M1245 1492q-1 0 -3 1M1232 1516q-1 -1 -1 -2M1231 1514q2 -4 6 -6M1253 1487q-5 1 -8 5M1222 1502q5 -6 12 -3M1220 1499q1 -2 1 -5M1228 1490q8 -3 14 3M1220 1506q6 2 12 -1M1229 1488q-1 1 -1 2M1056 1460q-5 -0 -9 -2M1055 1466q-5 0 -9 5M1039 1473q2 -7 4 -13M1047 1459q-2 0 -3 2M1033 1476q-1 -7 -0 -13M1039 1473q-2 1 -3 2M1008 1443q3 3 7 2M1008 1443q-0 -5 4 -7M1012 1436q6 3 12 1M994 1446q6 -5 14 -3M994 1446q3 8 -2 14M992 1460q2 -1 5 -1M1015 1446q-9 6 -18 13M1015 1446q0 -0 -0 -1M994 1446q-2 -4 -7 -3M1048 1436q-8 2 -11 10M1048 1436q0 -0 0 -0M1048 1436q-7 1 -11 -6M1038 1446q-1 1 -3 1M1035 1448q-2 -1 -4 1M1015 1446q7 4 15 3M1048 1436q2 -0 4 -2M1052 1434q3 -8 10 -14M1052 1434q11 3 19 -5M1075 1439q-4 3 -10 3M1048 1436q8 3 17 5M1025 1501q2 -3 5 -5M1030 1488q2 -0 4 1M1031 1496q4 -2 3 -6M1058 1519q-0 -0 0 -1M1058 1519q-5 9 -15 8M1058 1518q-2 -3 -5 -3M1047 1516q-9 3 -14 10M1033 1526q5 -1 9 1M1075 1513q3 -6 8 -11M1083 1501q-4 0 -7 -3M1067 1501q-1 0 -2 1M1066 1502q-5 7 -13 13M1049 1502q2 8 -4 13M1049 1502q8 -2 17 -0M1045 1515q1 0 3 1M1017 1560q7 -6 10 -14M1037 1553q3 -5 -1 -9M1036 1544q-4 2 -8 2M1058 1519q-0 1 0 2M1042 1527q5 -1 8 3M1050 1530q7 -2 8 -9M1066 1476q-5 5 -11 8M1066 1476q1 -0 2 -1M1068 1475q3 6 8 10M1055 1483q-1 0 -1 1M1073 1486q2 1 3 -1M1054 1485q1 1 0 2M1058 1488q-2 -0 -4 -1M1037 1477q10 -1 18 6M1069 1465q1 0 2 1M1071 1466q-1 3 1 6M1088 1485q-6 -1 -11 0M1090 1483q-7 -5 -11 -12M1079 1471q-3 -0 -7 1M1034 1490q11 -1 20 -5M1065 1495q3 2 2 6M1065 1495q1 -7 9 -9M1076 1499q8 -5 11 -14M1065 1495q-5 -2 -7 -7M1031 1496q10 -3 19 -5M1050 1491q1 -3 4 -4M1044 1501q2 1 5 0M1044 1501q6 -4 7 -11M1079 1471q1 0 3 -1M1107 1469q-0 -1 0 -1M1107 1469q10 1 19 -3M1124 1463q-6 -2 -11 2M1107 1468q3 -2 6 -3M1113 1465q4 -10 14 -12M1132 1459q-0 -4 -4 -5M1071 1466q5 -6 12 -8M1082 1458q-2 -5 -6 -8M1065 1442q-3 2 -3 6M1084 1445q-2 0 -3 3M1062 1448q3 2 7 3M1069 1451q3 -1 7 -1M1081 1448q-3 1 -4 2M1076 1451q0 -0 0 -1M1124 1435q-8 3 -16 2M1108 1437q-2 1 -4 -0M1098 1439q2 0 3 -1M1104 1437q-2 -0 -3 1M1131 1440q0 3 -2 4M1131 1440q3 -3 8 -4M1147 1438q-5 3 -6 9M1147 1438q-4 -2 -8 -2M1129 1444q1 2 1 4M1130 1448q6 -0 11 -1M1111 1447q-5 -4 -4 -10M1148 1446q-2 -0 -3 1M1153 1437q-3 -0 -6 1M1145 1447q-2 1 -4 -0M1145 1447q-7 4 -7 12M1138 1459q-3 -2 -7 -1M1127 1453q0 -2 0 -3M1128 1450q1 -2 2 -2M1177 1501q3 -3 6 -6M1163 1496q0 -0 0 -0M1183 1495q-10 -6 -20 -0M1150 1496q6 -2 13 -1M1150 1496q-0 -0 -0 -0M1155 1485q-4 5 -5 11M1171 1485q-1 8 -9 10M1150 1496q-4 8 -10 15M1155 1508q-7 2 -15 2M1140 1511q0 0 0 0M1163 1495q-0 -0 -0 -1M1221 1494q-4 -2 -8 1M1195 1506q2 1 4 3M1195 1506q2 -2 4 -5M1127 1530q10 -3 19 2M1135 1521q4 4 10 2M1146 1532q-2 -4 -1 -8M1139 1540q-4 2 -8 3M1118 1533q5 -2 9 -4M1148 1534q-0 -1 -2 -2M1131 1543q-6 2 -12 2M1112 1521q11 -6 23 -7M1135 1515q2 3 -0 7M1163 1511q-13 -0 -18 12M1163 1511q0 -1 0 -1M1135 1515q3 -1 5 -4M1165 1518q-4 9 -12 13M1165 1518q-2 -3 -3 -7M1086 1517q2 6 4 12M1108 1521q-0 -0 0 -1M1086 1517q-3 -1 -6 1M1080 1518q-2 -2 -5 -5M1102 1500q2 1 2 3M1102 1500q-9 -3 -18 2M1091 1514q6 -6 12 -12M1141 1550q-5 2 -11 4M1145 1553q-2 5 -7 5M1138 1557q-5 -2 -11 -0M1130 1554q-3 0 -3 3M1141 1543q1 3 -0 7M1157 1550q-6 4 -13 3M1131 1543q-4 5 -1 11M1137 1560q0 -1 1 -3M1120 1570q-1 -6 3 -12M1123 1559q2 -2 4 -2M1155 1583q7 2 11 -4M1155 1583q-5 4 -10 7M1145 1590q1 1 1 2M1176 1584q-3 -5 -10 -5M1171 1576q-2 2 -4 4M1139 1584q3 3 6 6M1145 1590q0 0 0 0M1130 1608q-4 -1 -7 1M1176 1584q-0 0 -0 0M1245 1463q1 2 2 3M1245 1463q6 -2 12 -6M1247 1466q7 -1 11 -8M1241 1457q1 4 4 6M1226 1463q0 8 6 13M1247 1471q-6 6 -15 5M1257 1451q1 3 0 6M1255 1471q-4 -1 -8 0M1232 1477q-1 1 -2 1M1229 1488q-2 -5 1 -9M1126 1466q3 4 7 5M1102 1500q2 -9 10 -11M1111 1480q-1 4 1 9M1175 1469q6 5 8 12M1166 1484q4 -4 3 -10M1182 1481q-5 5 -11 3M1174 1469q-2 2 -5 5M1157 1484q1 -4 2 -7M1169 1473q-5 3 -11 4M1104 1502q4 2 9 1M1137 1486q-13 -3 -25 2M1137 1486q0 0 1 1M1138 1487q-16 3 -25 16M1108 1520q1 -9 7 -15M1113 1504q2 0 3 2M1203 1522q1 3 4 5M1203 1522q5 -3 9 -6M1213 1516q-2 7 0 14M1214 1529q-4 1 -7 -2M1196 1525q4 0 7 -3M1192 1525q-1 -4 -2 -8M1216 1532q-1 -1 -2 -2M1168 1518q4 5 10 4M1168 1518q5 -6 13 -4M1181 1514q-2 3 -1 7M1178 1522q1 -0 2 -1M1174 1529q-0 -5 4 -7M1171 1507q10 -5 21 0M1190 1517q-4 4 -10 4M893 1444q1 -5 5 -8M901 1447q10 -0 17 -9M929 1451q-2 -3 -3 -6M910 1455q5 -8 13 -12M926 1445q-2 0 -4 -2M998 1472q2 -3 3 -7M998 1472q4 -2 9 -2M1000 1465q2 0 3 1M1014 1472q-0 -1 0 -2M1033 1462q-1 -0 -2 -0M1014 1470q1 -1 2 -2M883 1531q-1 -3 -2 -5M883 1531q-4 5 -10 8M881 1526q-4 2 -8 4M873 1539q2 -4 0 -9M889 1520q2 -0 3 -1M884 1523q-2 1 -3 3M879 1464q-3 0 -4 3M901 1479q4 -1 7 -4M901 1479q-2 2 -4 4M913 1475q-0 4 -1 8M897 1483q7 -3 15 -0M984 1499q-0 4 -4 6M980 1505q-6 1 -10 -3M970 1501q-0 0 -0 1M981 1510q4 -6 12 -5M960 1514q4 -6 9 -12M1012 1501q-4 3 -6 8M996 1504q3 4 4 9M968 1531q-4 -2 -8 -6M972 1532q3 -0 4 -3M977 1529q6 -3 10 -9M960 1525q15 5 25 -7M987 1521q0 -1 1 -2M986 1518q1 0 2 1M947 1535q1 1 1 1M948 1536q10 -1 20 -5M982 1515q2 2 3 4M1000 1513q-1 1 -2 2M998 1515q-6 -0 -11 4M1045 1537q1 -2 4 -1M1045 1537q-5 -8 -15 -7M1033 1526q-1 0 -1 1M1032 1527q-2 1 -2 3M964 1605q-2 -3 0 -6M991 1598q1 -5 -3 -9M964 1599q11 -8 24 -9M1008 1573q-7 1 -12 -3M999 1584q-5 -0 -8 3M996 1571q-7 4 -8 13M988 1584q1 2 3 3M930 1451q-1 0 -2 -0M939 1445q2 -2 3 -5M941 1440q-4 -1 -8 -1M923 1434q2 -1 5 1M928 1435q2 3 6 4M875 1434q3 0 5 1M880 1435q-0 0 -0 1M873 1451q-1 -4 -5 -6M871 1452q1 -0 1 -1M893 1444q-5 -2 -8 1M897 1570q-2 3 -4 5M893 1575q-6 -1 -11 2M881 1570q1 -5 5 -8M915 1562q-5 -1 -6 -6M889 1544q4 2 8 5M882 1550q3 3 4 6M898 1550q-4 6 -12 7M909 1557q-0 -1 -0 -2M908 1555q-5 -1 -10 1M886 1562q0 -0 0 -0M899 1556q-8 -0 -12 6M886 1557q1 3 0 5M914 1547q-1 2 -2 3M914 1547q-3 -1 -4 -4M912 1550q-6 2 -12 -0M910 1543q-5 4 -11 6M900 1550q0 0 0 0M925 1545q-2 2 -2 5M922 1545q-4 1 -8 2M923 1551q-7 -2 -13 3M910 1553q1 -2 1 -3M910 1553q-0 1 -2 2M899 1556q-1 -3 1 -6M903 1597q1 -1 3 -1M906 1596q5 3 9 -0M909 1603q1 -6 6 -8M916 1595q-0 0 -1 0M916 1595q4 1 6 5M922 1601q-6 3 -13 5M1110 1562q-5 -2 -10 -1M1123 1559q-6 -2 -10 -7M1123 1559q-5 0 -9 3M1107 1574q-0 -3 2 -5M1109 1569q-0 -4 1 -7M1109 1569q4 -3 5 -7M1091 1554q6 -2 10 3M1131 1609q-6 5 -8 13M1142 1617q-7 3 -9 9M1133 1626q-0 0 -1 1M1122 1622q0 0 0 0M1132 1626q-2 0 -4 -0M1123 1623q3 1 5 4M1131 1650q7 -1 10 -7M1135 1640q3 -1 5 -2M1140 1638q2 2 1 5M1196 1627q3 3 3 7M1199 1634q-6 0 -11 5M1189 1638q-5 -6 -13 -5M873 1708q2 0 4 1M963 1648q-12 2 -23 -2M963 1648q0 1 -1 2M940 1646q-3 4 -7 6M962 1650q-13 10 -30 8M1006 1697q3 -7 10 -10M1022 1693q2 -3 2 -7M1015 1687q4 -1 8 -1M1037 1691q0 -6 -5 -9M1037 1691q-6 3 -13 4M1024 1686q4 -3 9 -5M1037 1691q6 0 8 5M1033 1681q-0 0 -1 1M1055 1674q1 -4 2 -9M1058 1666q-9 4 -16 -3M1041 1663q-7 5 -15 8M985 1620q1 4 2 7M1000 1616q3 1 6 3M987 1628q1 0 2 0M982 1620q2 1 3 0M974 1629q7 2 13 -1M997 1610q3 2 3 6M1021 1611q-7 4 -13 9M1009 1619q-1 -0 -2 0M986 1637q1 -5 4 -9M1067 1671q13 -1 19 -13M1086 1659q1 -1 3 -1M1092 1661q-0 1 -1 1M1089 1658q-0 0 -0 0M1058 1674q5 -2 10 -3M1083 1671q-7 -4 -13 0M1058 1666q1 -3 4 -3M1083 1671q5 -4 8 -9M1095 1661q-1 -1 -3 -0M1095 1681q-0 0 -1 1M1099 1648q-0 -0 -1 -0M1119 1684q-12 -4 -23 2M1119 1684q-2 5 -6 8M1096 1686q5 3 7 9M1114 1692q-5 4 -11 3M1126 1680q-3 3 -6 4M1093 1683q2 1 3 3M1125 1690q-6 1 -11 2M1102 1697q1 -1 1 -2M1068 1704q-3 -7 -11 -7M1068 1705q-12 -0 -24 -2M1044 1702q-1 -3 0 -5M1044 1697q0 -1 1 -1M1079 1693q-9 1 -11 10M1066 1709q1 -2 1 -4M1046 1696q-0 0 -1 1M1029 1701q8 -1 15 -4M1038 1708q2 -2 5 -3M1044 1702q-0 1 -1 2M1069 1626q-1 -5 2 -10M1079 1617q-1 -3 -4 -2M1061 1620q6 2 10 -4M1069 1626q0 -0 0 -0M1077 1608q0 1 1 1M1077 1609q-1 3 -3 6M1122 1622q-1 0 -1 -0M1111 1617q-0 2 0 3M1121 1622q-5 -1 -10 -3M1085 1648q-1 -0 -1 -1M1085 1648q-4 2 -7 6M1084 1647q-2 2 -6 1M1078 1648q-6 6 -14 5M1064 1658q-0 -2 -0 -5M1098 1646q-0 0 -0 1M1098 1646q-1 -6 -7 -8M1098 1646q-6 -0 -13 1M1081 1639q3 4 3 8M1098 1648q-0 -1 -0 -1M1089 1658q-7 1 -11 -4M1069 1644q4 5 10 4M1069 1644q7 -0 12 -5M1081 1639q0 -0 0 0M1063 1651q1 1 1 2M1061 1662q2 -1 3 -4M1041 1661q2 -4 6 -7M902 1650q5 -2 10 -5M924 1647q1 -1 1 -2M915 1636q2 1 5 0M912 1645q5 -3 8 -8M902 1635q-0 -0 -0 -1M902 1634q6 -5 12 -9M914 1626q1 1 1 3M1256 1633q-1 -3 -4 -5M1226 1642q-0 -1 0 -3M1235 1632q-4 4 -9 8M1235 1632q8 -2 16 -4M1211 1614q-0 0 -0 0M1232 1605q1 1 2 2M1235 1607q-6 2 -10 6M1224 1613q-7 -2 -14 1M1210 1636q-2 -2 -2 -4M1210 1636q5 0 10 -1M1207 1632q2 -6 8 -7M1215 1625q7 -4 15 -1M1200 1648q7 -4 9 -12M1226 1639q-3 -3 -6 -4M1235 1632q-2 -3 -5 -5M1241 1618q-6 1 -11 6M1235 1607q1 0 2 -0M1237 1607q2 -5 8 -6M1224 1613q8 -2 15 2M1237 1607q4 3 3 8M1241 1617q-0 -1 -0 -1M1210 1615q5 4 5 10M1240 1615q1 0 2 1M1165 1691q-1 6 5 9M1171 1686q4 1 7 -0M1178 1686q2 4 6 6M1170 1700q5 -8 14 -9M1222 1704q-5 -4 -7 -10M1203 1703q4 -8 12 -9M1215 1684q0 4 -1 7M1215 1684q10 -2 17 -10M1219 1693q-2 1 -3 1M1232 1674q4 6 2 13M1215 1694q0 -1 1 -1M1169 1701q6 1 12 1M1181 1702q3 -5 8 -6M1203 1703q-6 2 -11 -2M1189 1697q2 0 3 -2M1178 1709q1 4 2 8M1178 1709q3 -2 5 -4M1187 1704q4 6 8 12M1163 1709q8 -1 15 0M1181 1702q1 1 2 3M1192 1701q-3 0 -5 3M1239 1672q7 1 14 1M1252 1673q2 1 3 3M1256 1676q-2 3 -2 6M1232 1674q2 -1 3 -3M1235 1671q1 1 3 1M1235 1687q5 -3 7 -8M1236 1668q0 2 -1 3M1255 1684q-0 -1 -1 -3M1061 1448q-9 -2 -17 1M1044 1450q2 4 3 7M1053 1455q-2 2 -5 2M1062 1448q-1 1 -1 0M1066 1453q-7 -3 -13 1M1038 1446q3 2 6 3M1047 1459q-0 -1 1 -2M1029 1450q-11 5 -12 16M1011 1458q-1 2 1 3M1016 1466q-3 -2 -5 -5M1031 1449q-1 1 -2 1M997 1459q7 -4 14 -1M1017 1468q0 -1 -0 -2M991 1461q0 -0 1 -1M1003 1466q4 -3 8 -5M1007 1470q4 -1 8 1M1063 1536q-2 0 -4 -0M1074 1522q-5 2 -10 0M1045 1537q-2 0 -3 2M1053 1549q9 -3 10 -12M1043 1538q-2 4 -7 6M1049 1535q5 1 11 0M1076 1535q-4 2 -8 0M1058 1521q3 0 6 1M1080 1518q-2 4 -6 4M1111 1447q-0 1 -1 1M1101 1438q-2 5 -3 11M1098 1449q6 0 12 -1M1082 1458q2 1 3 -1M1081 1448q5 3 10 5M1098 1449q-2 1 -2 2M1090 1453q3 -2 6 -1M1183 1495q1 -0 1 -1M1199 1501q-2 -2 -3 -5M1196 1496q-1 -1 -2 -1M1195 1496q-6 -0 -11 -1M1208 1488q7 -6 15 -6M1208 1488q1 1 2 2M1210 1490q1 0 1 1M1199 1495q7 1 11 -5M1199 1495q4 -3 8 -7M1213 1495q-2 -2 -2 -4M1199 1495q-1 1 -3 2M1178 1462q-2 3 -4 7M1178 1462q-0 -2 -2 -3M1173 1468q-12 1 -23 2M1174 1458q1 0 1 0M1174 1458q-10 3 -20 2M1154 1461q-4 1 -7 5M1147 1465q-1 1 -2 3M1150 1470q-2 0 -4 -1M1193 1458q-8 1 -15 4M1175 1469q3 -2 7 -1M1174 1469q-1 -0 -1 -1M1197 1445q-10 7 -22 13M1158 1477q-4 -4 -8 -7M1164 1447q-10 3 -10 14M1138 1459q3 5 9 6M1133 1471q6 0 12 -3M1155 1485q-8 3 -17 2M1137 1486q5 -8 9 -17M1138 1487q0 0 0 0M1150 1496q-4 -1 -7 0M1143 1496q-3 8 -11 9M886 1476q-1 -7 2 -14M886 1476q8 -6 18 -7M905 1466q-5 -3 -5 -8M905 1466q-0 2 -2 4M888 1462q7 -0 12 -5M900 1457q0 -0 1 0M931 1461q1 -2 3 -4M931 1461q-13 -1 -26 5M910 1455q-4 2 -9 2M901 1447q3 6 -1 11M992 1479q-1 -0 -1 0M1005 1488q-9 -8 -20 -2M985 1486q2 -5 7 -6M998 1472q-3 1 -7 2M991 1480q-0 -3 -1 -5M919 1525q13 -6 18 -19M922 1506q6 -2 13 -3M935 1503q1 1 1 2M953 1517q-0 -6 -5 -9M948 1507q8 -3 14 -9M977 1455q2 4 3 8M960 1465q10 -3 20 -2M980 1463q2 1 5 1M991 1474q-4 -3 -8 -4M983 1471q0 -2 1 -4M985 1464q-1 1 -2 2M968 1482q10 -2 14 -12M952 1484q-3 -0 -4 -2M935 1503q0 -1 1 -1M963 1495q-8 -5 -17 -0M936 1502q5 -5 11 -7M931 1479q8 1 15 -3M923 1471q3 -5 8 -7M947 1466q1 2 3 3M950 1470q-1 4 -4 7M931 1461q-0 2 -0 3M913 1475q5 -2 10 -4M960 1465q-4 4 -10 5M948 1478q-1 -0 -2 -2M1044 1501q-4 4 -9 4M1045 1515q-6 1 -10 -2M1034 1513q2 -4 0 -7M1025 1501q-0 3 2 4M1035 1505q-3 -2 -7 -0M1006 1509q9 -8 19 -3M1028 1505q-1 1 -2 1M1027 1546q-2 -0 -4 -0M1021 1538q2 3 2 8M1030 1530q-4 5 -10 8M1021 1538q-0 -0 -0 -0M948 1536q-1 2 0 4M972 1532q-0 4 -3 6M961 1545q4 -3 8 -6M943 1438q4 -1 8 -3M952 1435q4 -3 6 -7M941 1440q2 0 2 -1M958 1438q-3 -2 -6 -3M920 1612q3 -3 3 -8M923 1604q4 3 9 1M927 1610q1 -3 4 -5M876 1597q7 -1 15 -2M876 1597q-2 3 -5 6M871 1603q9 -1 18 -1M878 1593q0 2 -2 4M878 1593q-1 -1 -2 -1M896 1593q-3 1 -5 2M896 1593q0 0 0 0M902 1597q-3 5 -9 6M967 1619q-5 3 -11 4M949 1616q-0 1 -1 1M948 1616q-1 1 -0 2M956 1624q-3 -4 -7 -5M920 1637q6 -2 13 -3M916 1629q7 2 14 -1M930 1628q0 3 3 4M933 1632q-0 1 -0 2M1108 1634q4 -1 8 -3M1116 1631q-1 4 0 8M1105 1640q6 1 11 -1M1103 1632q0 -0 -0 -0M1103 1631q13 2 20 -9M1128 1626q-8 -2 -12 5M1098 1646q4 -2 7 -5M1091 1638q7 -1 11 -6M1130 1633q2 -1 3 -3M1133 1630q1 -2 -1 -4M1123 1639q-3 -1 -6 -0M1154 1626q5 -4 11 -1M1154 1626q-0 -2 0 -5M1154 1622q7 -3 12 -10M1166 1612q1 -0 1 0M1133 1626q11 -2 21 -4M1193 1606q-6 4 -12 6M1181 1612q-7 1 -14 0M1140 1638q1 -1 2 -2M1142 1637q-2 -3 -2 -5M1154 1626q-2 1 -4 3M1173 1632q17 -1 31 -11M1173 1630q7 -3 10 -9M1209 1615q-2 4 -6 5M1196 1627q3 -4 7 -6M1175 1633q-1 -0 -3 -0M1173 1633q0 -1 0 -2M1165 1625q4 2 7 5M1153 1632q-1 -1 -2 -3M1153 1632q10 -2 20 -2M1210 1615q-0 0 -1 0M1199 1634q4 -3 8 -2M1149 1640q4 -2 7 1M1157 1641q5 -8 14 -7M1171 1634q-11 4 -22 1M1149 1636q-1 1 -1 1M1142 1637q3 -1 6 -0M1144 1658q0 -0 1 -1M1145 1657q6 -8 12 -16M1145 1657q15 -2 25 -14M1169 1643q-1 -5 3 -9M1172 1634q-1 0 -1 1M1153 1632q-2 2 -4 3M1186 1645q-7 5 -14 2M1186 1645q1 3 3 5M1180 1653q-7 -4 -15 -1M1165 1652q5 -1 7 -5M1189 1638q0 4 -3 7M1169 1643q1 2 3 4M1197 1650q-4 2 -8 -0M1189 1650q-0 -0 -1 -0M1177 1665q8 -6 12 -15M1147 1659q10 -2 18 -7M913 1708q-3 -1 -6 -3M908 1705q-4 3 -9 5M977 1708q7 -1 13 0M1006 1697q-5 0 -9 2M991 1708q2 -5 5 -9M996 1693q-2 2 -1 4M996 1693q9 1 14 -7M1015 1687q-3 -0 -5 -0M894 1673q1 5 2 9M894 1673q9 -2 17 -6M896 1682q5 -0 8 -4M904 1678q2 -7 8 -12M887 1662q3 5 -1 10M918 1663q-0 0 -0 0M894 1673q-2 -0 -4 -0M887 1672q2 -1 3 1M918 1664q-4 -0 -6 3M875 1677q3 7 0 14M875 1677q-5 5 -11 2M876 1691q-7 -6 -15 -11M876 1691q13 -5 14 -18M887 1672q-4 6 -11 5M871 1671q-3 4 -7 8M876 1693q-3 0 -5 3M876 1693q0 -1 -0 -1M904 1678q7 1 12 -3M918 1664q2 4 2 8M916 1676q3 -1 4 -3M1085 1617q1 0 2 1M1085 1617q4 -6 9 -10M1087 1618q6 -5 14 -5M1101 1613q3 -6 7 -12M1094 1606q6 -4 12 -5M1107 1601q1 -0 1 0M1075 1629q2 1 5 -1M1079 1628q5 -1 7 -6M1079 1617q3 -0 6 -0M1086 1622q1 -2 1 -4M1077 1609q8 -6 17 -2M1086 1622q6 -0 12 -1M1104 1617q-3 1 -5 4M1104 1617q-1 -2 -3 -4M1109 1602q-0 -0 -1 -0M1111 1617q-4 -1 -8 1M1106 1594q-0 4 1 7M1103 1627q-0 1 -0 1M1103 1627q-2 -2 -5 -3M1098 1624q-7 5 -15 7M1102 1629q-10 2 -19 2M1102 1629q0 -1 1 -1M1083 1631q0 0 0 0M1121 1622q-9 2 -18 6M1079 1628q2 2 4 3M1081 1639q2 -3 2 -7M1103 1631q-1 -1 -0 -2M894 1603q0 2 -1 4M893 1607q-9 4 -18 6M871 1623q-4 5 -9 3M1249 1602q2 1 1 4M1241 1615q5 -4 10 -10M1244 1601q3 -0 5 1M1185 1683q2 -0 4 -1M1189 1682q3 -8 10 -13M1199 1670q-4 1 -7 -2M1183 1670q2 -0 3 -1M1197 1659q-1 5 -6 8M1216 1661q-8 0 -11 8M1205 1670q-3 2 -6 -0M1197 1685q-1 -1 -1 -2M1196 1683q7 -5 10 -13M1208 1671q-1 -0 -2 -0M1190 1691q4 -3 7 -6M1189 1682q4 0 8 1M1215 1684q-2 1 -3 -1M1205 1670q1 1 2 1M1236 1667q-15 -5 -27 4M1017 1539q-7 7 -17 9M1017 1539q-6 -3 -13 -2M1000 1548q-2 -7 4 -11M1099 1455q-4 3 -10 4M1099 1455q3 0 6 1M1105 1456q0 1 1 2M1089 1461q7 -3 15 0M1106 1458q0 2 -2 3M1085 1458q2 2 4 1M1096 1451q2 1 3 3M1128 1450q-13 -3 -22 8M1081 1470q2 -7 8 -10M1102 1465q1 -2 2 -4M1216 1478q-6 2 -10 7M1216 1478q-4 -5 -10 -6M1206 1486q-1 1 -3 0M1203 1486q-8 1 -14 -3M1206 1472q-4 0 -8 1M1198 1473q-5 5 -11 7M1188 1481q1 1 1 3M1230 1478q-7 2 -14 0M1207 1488q-1 -1 -2 -2M1226 1463q-11 1 -20 9M1195 1496q1 -7 8 -9M1198 1473q0 0 0 0M1117 1505q7 -9 18 -10M1117 1505q7 4 14 -0M1131 1505q5 -4 3 -10M1138 1492q-3 1 -4 3M897 1483q-2 1 -4 4M912 1483q-9 2 -17 7M894 1487q1 2 2 3M902 1505q-0 -0 -0 -0M881 1518q-3 -4 -6 -6M902 1504q-6 -2 -12 -2M890 1502q-5 8 -15 9M963 1495q3 -6 8 -9M963 1495q8 2 16 -2M984 1486q-2 2 -3 6M968 1482q1 3 3 4M963 1495q0 -0 0 -0M952 1484q-3 5 -6 11M978 1497q0 -2 2 -4M994 1494q-7 2 -13 -2M932 1499q2 -4 1 -9M932 1499q-6 2 -10 -3M922 1496q0 -1 1 -2M922 1494q0 -0 1 -1M949 1482q-5 8 -14 7M934 1489q-0 1 -1 1M936 1502q-1 -2 -4 -4M911 1503q3 -6 10 -7M904 1501q3 -6 10 -8M914 1493q4 0 8 1M998 1515q6 3 12 2M1025 1506q-9 2 -13 10M1010 1517q1 -1 2 -1M1034 1513q-4 2 -7 5M1012 1516q7 5 15 1M941 1546q-0 -2 1 -3M941 1546q-4 4 -7 9M932 1555q1 -0 2 -1M932 1555q2 -5 2 -11M934 1544q4 0 7 -1M949 1540q-5 -1 -7 3M956 1543q-7 2 -15 3M960 1545q-4 1 -7 5M953 1549q-10 -0 -19 5M923 1551q4 2 8 5M931 1556q0 -1 1 -1M931 1556q-3 1 -4 4M951 1559q-3 2 -6 4M927 1560q10 -3 18 3M988 1584q-9 2 -17 -5M971 1579q12 -5 22 -13M970 1561q5 -3 10 -6M1019 1538q-1 0 -2 1M1023 1546q-13 5 -25 12M1000 1548q-2 6 -8 6M993 1554q2 3 6 3M976 1538q4 7 12 8M988 1546q1 5 -2 8M1017 1560q-10 4 -18 -1M993 1567q3 -4 6 -8M999 1558q-0 -0 -1 -1M931 1616q1 2 4 4M931 1616q-10 1 -18 6M914 1623q8 -3 17 -1M931 1623q1 -2 3 -3M949 1616q-5 -3 -10 -6M948 1616q-7 2 -14 4M935 1611q-2 2 -4 5M914 1626q0 -1 -0 -2M930 1628q2 -2 1 -5M948 1619q-6 8 -15 13M958 1629q-3 4 -6 8M955 1625q-8 10 -20 10M953 1637q-4 0 -8 2M944 1639q-6 1 -10 -3M935 1636q-0 -0 -0 -1M960 1639q-3 -3 -8 -1M956 1624q-1 1 -1 2M963 1648q-0 0 -0 1M940 1646q3 -3 4 -7M925 1644q7 -2 9 -8M877 1709q5 -0 10 -3M896 1682q-3 3 -3 6M916 1676q-3 7 -7 13M909 1689q-8 0 -16 -0M1010 1686q0 -4 -3 -7M1016 1671q-3 0 -6 2M992 1678q1 1 -0 3M992 1678q7 -1 12 -5M1007 1680q-7 -2 -10 4M1004 1673q3 1 6 1M997 1684q-2 -2 -5 -3M1022 1630q-1 0 -1 1M1045 1636q-8 -1 -16 1M1029 1637q-3 -4 -8 -6M1009 1619q2 7 8 12M1021 1631q-2 2 -4 1M961 1704q5 2 8 -3M969 1702q2 0 3 1M977 1707q-1 -3 -5 -4M977 1708q-0 -0 -1 -0M996 1697q-12 3 -23 6M973 1692q6 -1 8 -6M973 1698q7 -5 16 -6M981 1686q3 -1 6 0M987 1686q2 1 4 2M996 1693q-4 -1 -7 -2M969 1702q3 -1 4 -4M981 1679q6 2 11 -1M981 1679q-2 3 0 6M992 1681q-2 3 -5 5M997 1684q-2 3 -6 4M965 1687q-8 -1 -14 5M965 1687q3 1 5 4M970 1691q-7 4 -14 5M951 1692q-1 0 -2 2M979 1679q-5 3 -11 4M961 1704q-3 -4 -5 -8M947 1709q-3 -3 -7 -3M938 1704q-10 -0 -18 5M940 1698q-4 0 -7 -1M934 1697q-7 -1 -10 4M923 1701q-1 4 -5 6M918 1707q1 1 2 2M950 1693q-3 5 -9 5M913 1708q2 1 5 -0M946 1680q-3 1 -3 4M943 1684q4 -0 7 2M949 1686q5 -6 12 -7M962 1676q1 2 -0 4M930 1689q7 0 12 -5M951 1692q-0 -3 -2 -5M962 1650q0 2 2 3M932 1658q6 1 8 6M939 1664q13 1 23 -6M962 1658q1 -3 2 -5M1016 1671q1 -4 3 -6M1025 1659q-4 2 -6 6M890 1627q-7 7 -15 14M890 1627q4 -2 8 -3M898 1630q-4 9 -13 14M885 1644q-5 -3 -10 -3M898 1624q-0 0 -0 -0M887 1627q1 0 3 -0M887 1627q-4 3 -9 2M902 1634q-4 -1 -4 -5M910 1621q-6 0 -11 3M910 1621q2 -0 3 1M909 1606q-3 -0 -4 2M922 1601q-1 2 0 4M927 1610q4 0 7 1M910 1621q1 -1 3 -3M898 1624q-2 -2 -2 -6M905 1608q-4 2 -7 3M896 1618q-0 -4 2 -8M902 1597q0 -0 1 -0M893 1607q2 1 3 3M898 1610q-1 -1 -2 -1M991 1538q-2 3 -3 7M988 1545q5 -9 15 -10M988 1546q0 -0 0 -1M1004 1537q-1 -1 -0 -2M1004 1535q-1 0 -1 0M993 1554q-3 -0 -7 0M875 1467q-1 5 -3 10M913 1489q0 0 1 1M913 1489q3 -1 3 -4M914 1490q5 -3 10 -1M916 1485q6 -4 13 -4M928 1481q-1 3 -2 6M926 1487q-1 1 -2 2M904 1501q-3 -4 -1 -9M903 1492q5 -3 10 -3M903 1492q-4 -3 -9 -0M894 1492q1 -1 1 -2M931 1479q-2 0 -3 2M1019 1538q-4 -4 -9 -8M1004 1535q0 -1 2 -2M1010 1530q-2 2 -5 3M989 1536q2 -1 4 -3M977 1529q9 -3 17 1M993 1532q0 -1 1 -2M1010 1517q-0 4 -3 7M1002 1525q-5 0 -8 5M970 1561q-7 3 -10 10M939 1571q11 -5 22 -0M915 1562q3 2 5 -0M927 1560q-2 0 -3 2M920 1562q2 -2 4 -1M937 1572q1 -0 2 -1M924 1561q1 6 3 12M933 1573q-3 2 -5 0M970 1579q-3 0 -6 -2M970 1579q-5 10 -13 18M965 1578q-12 4 -22 12M950 1598q4 -1 8 -1M950 1598q-3 0 -5 -1M945 1597q-2 -1 -4 -2M961 1573q2 2 4 5M964 1599q-3 -2 -6 -2M939 1610q7 -4 11 -12M932 1605q7 -3 14 -8M922 1601q3 -2 7 -3M930 1598q6 -2 11 -3M924 1590q4 -2 9 -2M924 1590q1 3 4 4M928 1594q4 -2 5 -6M939 1586q-2 2 -6 2M930 1598q-1 -1 -2 -3M908 1705q-8 -1 -16 -1M908 1705q3 -4 5 -8M892 1704q9 -8 21 -13M912 1696q-1 -2 -0 -5M923 1701q-6 -0 -11 -5M909 1689q2 1 4 2M913 1691q-0 0 -1 1M930 1689q-6 -2 -11 -0M999 1664q-2 0 -3 2M999 1664q7 -6 16 -6M1015 1658q-3 2 -4 5M1011 1663q-8 -2 -13 4M998 1667q-1 -0 -2 -1M1004 1673q-2 -5 -6 -6M1020 1665q-4 -3 -9 -2M979 1679q0 -4 3 -6M993 1666q-3 2 -6 3M982 1672q-6 -4 -12 -1M962 1676q1 -0 1 -1M963 1675q4 -1 7 -3M946 1680q-1 -1 -0 -1M953 1668q1 0 2 -1M963 1675q-3 -4 -8 -7M931 1678q-1 -2 1 -4M931 1678q5 -2 10 -0M941 1678q-2 -4 1 -8M931 1674q4 -2 7 -4M920 1672q6 -2 11 1M919 1689q5 -7 12 -11M945 1678q-2 -0 -5 -1M953 1668q-6 -2 -11 1M939 1664q-0 3 -1 5M962 1658q0 1 0 2M1017 1656q4 -2 8 1M1017 1656q-1 -3 -4 -4M1014 1652q1 -1 2 -2M1026 1657q9 -3 15 -11M1041 1646q-7 2 -13 -1M1025 1659q1 -1 0 -2M1015 1658q1 -2 2 -2M999 1664q3 -6 9 -10M1009 1653q2 -1 5 -2M1042 1646q-1 -0 -1 0M1029 1637q-1 4 -1 8M877 1616q4 0 7 -1M884 1615q0 2 1 3M885 1618q-2 3 -5 3M875 1612q1 1 2 4M896 1610q-6 2 -12 6M871 1623q1 -1 2 -1M896 1618q-5 -0 -11 0M887 1627q-2 -5 -7 -6M875 1490q5 -0 7 -4M875 1490q-4 4 -9 1M883 1486q1 -3 2 -7M885 1480q-0 -1 -1 -2M884 1478q-4 -1 -7 1M872 1477q3 1 5 1M894 1487q-6 3 -11 -0M886 1476q-1 1 -2 1M894 1492q-1 4 -6 5M880 1496q4 -1 8 0M890 1502q-1 -2 -2 -4M888 1497q0 1 -0 2M1012 1529q-1 -1 -1 -3M1012 1529q8 -6 17 -3M1011 1526q9 -1 16 -8M1029 1526q-1 -4 -2 -8M1010 1530q0 -1 2 -2M1008 1524q1 2 3 2M1032 1527q-2 1 -3 -1M934 1582q2 2 5 2M934 1582q0 -4 3 -7M937 1575q4 2 5 6M939 1584q-0 -0 -0 -0M937 1572q1 1 0 3M939 1586q0 -1 0 -2M912 1572q1 3 3 5M897 1583q2 1 4 1M901 1584q1 -1 2 -0M895 1579q-1 -1 -0 -2M920 1562q-2 7 -8 10M926 1574q1 0 2 -1M926 1574q-6 -2 -10 3M893 1575q1 1 2 2M878 1593q11 -1 19 -10M896 1593q0 -6 5 -9M913 1587q-4 -5 -10 -3M928 1583q-1 1 -1 3M928 1583q-0 -0 -0 -0M928 1583q-5 -2 -9 2M928 1586q-1 3 -4 4M923 1590q-3 -3 -8 -3M923 1590q0 0 0 -0M915 1587q3 -0 4 -2M939 1584q-6 -2 -12 1M933 1573q0 6 -5 9M926 1574q-3 5 -7 10M924 1590q-0 -0 -1 -0M916 1595q4 -2 7 -5M913 1587q1 -1 2 -0M992 1656q1 -1 3 -1M992 1656q-2 -0 -4 -1M988 1655q-2 -3 -2 -7M1009 1653q-7 3 -14 2M993 1666q0 -5 -2 -9M991 1657q0 -0 0 -1M1015 1649q-5 -3 -7 -8M964 1653q12 4 22 -4M969 1661q-4 1 -6 -1M969 1661q8 -9 19 -6M986 1637q6 4 13 3M1017 1631q-5 1 -8 5M980 1663q1 1 1 3M980 1663q-4 2 -9 1M981 1665q-5 3 -10 1M972 1664q0 1 0 2M987 1669q-2 -3 -6 -3M991 1657q-6 1 -11 6M969 1661q1 1 3 3M880 1496q-7 -0 -12 6M888 1498q-2 3 -6 3M882 1501q-3 2 -6 1M882 1501q-4 1 -7 4" stroke="#f6f4f8" stroke-width="1.5" stroke-opacity="0.7" stroke-linecap="round" fill="none" filter="url(#softb)"/>
<path d="M968 1629l0.3 -0.1M1237 1494l0.4 -0.2M1236 1524l0.5 -0.3M939 1611l0.5 -0.1M1046 1477l0.5 -0.0M1123 1656l0.3 -0.1M1156 1455l0.5 -0.1M1219 1587l0.7 -0.0M1029 1574l0.6 -0.3M1178 1550l0.5 -0.0M1199 1458l0.5 -0.1M940 1684l0.3 -0.2M1084 1504l0.3 -0.1M946 1485l0.5 -0.3M1187 1603l0.3 -0.3M998 1455l0.3 -0.2M1009 1639l0.3 -0.1M1011 1662l0.7 -0.1M1034 1564l0.4 -0.1M923 1477l0.4 -0.1M974 1689l0.4 -0.4M1206 1471l0.6 -0.2M995 1616l0.5 -0.3M1207 1521l0.4 -0.2M892 1648l0.5 -0.3M1167 1626l0.4 -0.2M927 1519l0.3 -0.3M1219 1551l0.3 -0.1M1203 1537l0.2 -0.2M1149 1456l0.3 -0.2M1137 1590l0.5 -0.1M1048 1558l0.5 -0.0M1084 1461l0.7 -0.2M936 1491l0.5 -0.2M1183 1601l0.3 -0.2M903 1531l0.4 -0.0M1024 1545l0.5 -0.1M948 1556l0.3 -0.3M977 1639l0.6 -0.1M993 1556l0.4 -0.2M1139 1467l0.5 -0.2M936 1583l0.3 -0.0M1101 1665l0.5 -0.2M1201 1587l0.6 -0.2M1210 1656l0.4 -0.3M1048 1484l0.4 -0.4M1183 1616l0.6 -0.1M1073 1546l0.7 -0.1M1201 1687l0.4 -0.3M1174 1577l0.5 -0.0M1016 1508l0.4 -0.2M963 1649l0.3 -0.0M968 1636l0.5 -0.2M1212 1586l0.5 -0.4M1069 1615l0.3 -0.3M971 1537l0.6 -0.2M997 1541l0.5 -0.2M1166 1531l0.3 -0.1M1118 1523l0.5 -0.1M1161 1660l0.4 -0.2M944 1668l0.5 -0.1M1053 1570l0.4 -0.4M906 1644l0.3 -0.3M1014 1467l0.7 -0.2M947 1581l0.5 -0.2M1164 1520l0.4 -0.0M1141 1544l0.3 -0.2M1078 1599l0.6 -0.1M1061 1467l0.3 -0.3M1021 1528l0.6 -0.2M1121 1464l0.4 -0.1M956 1457l0.4 -0.5M958 1547l0.3 -0.2M1109 1596l0.6 -0.0M1084 1480l0.5 -0.3M1225 1606l0.5 -0.1M1101 1529l0.6 -0.1M983 1593l0.3 -0.3M1195 1544l0.2 -0.2M1195 1469l0.4 -0.3M1229 1629l0.6 -0.1M1181 1535l0.3 -0.2M1109 1647l0.5 -0.3M1063 1689l0.6 -0.2M1095 1484l0.6 -0.4M909 1607l0.5 -0.1M947 1517l0.4 -0.3M977 1665l0.3 -0.1M950 1530l0.3 -0.1M925 1675l0.4 -0.1M1104 1492l0.6 -0.2M1071 1463l0.5 -0.4M958 1458l0.5 -0.4M1021 1660l0.6 -0.3M1030 1609l0.3 -0.2M1094 1649l0.3 -0.2M1222 1491l0.3 -0.1M1199 1590l0.4 -0.3M995 1516l0.6 -0.0M1079 1489l0.6 -0.4M1167 1575l0.3 -0.0M980 1592l0.3 -0.2M1040 1676l0.5 -0.5M1092 1462l0.3 -0.1M930 1600l0.3 -0.1M1008 1560l0.3 -0.2M1021 1471l0.6 -0.3M1108 1676l0.5 -0.1M1227 1493l0.7 -0.0M1182 1507l0.3 -0.1M1051 1682l0.3 -0.2M1095 1565l0.3 -0.1M1019 1521l0.3 -0.2M1137 1666l0.3 -0.2M1098 1524l0.5 -0.5M1120 1585l0.5 -0.3M1100 1598l0.5 -0.4M1151 1529l0.6 -0.4M1163 1502l0.5 -0.1M902 1617l0.5 -0.1M893 1678l0.4 -0.1M1121 1681l0.3 -0.3M1106 1478l0.6 -0.2M946 1479l0.3 -0.3M1213 1532l0.3 -0.2M977 1620l0.5 -0.2M1187 1470l0.7 -0.1M1137 1660l0.5 -0.4M1149 1549l0.6 -0.1M917 1643l0.4 -0.3M1234 1529l0.5 -0.5M1208 1499l0.6 -0.0M949 1458l0.5 -0.4M1019 1590l0.3 -0.2M1152 1622l0.4 -0.2M1024 1518l0.4 -0.2M1100 1560l0.5 -0.5M1119 1597l0.4 -0.3M962 1557l0.5 -0.3M1183 1636l0.7 -0.2M1059 1535l0.4 -0.3M1049 1622l0.6 -0.3M1227 1472l0.3 -0.2M957 1488l0.4 -0.3M1173 1459l0.6 -0.2M1057 1584l0.4 -0.0M1215 1676l0.3 -0.2M1071 1634l0.6 -0.2M971 1533l0.6 -0.4M1143 1601l0.4 -0.1M1135 1511l0.3 -0.1M974 1604l0.4 -0.2M940 1455l0.3 -0.1M915 1567l0.3 -0.1M1201 1536l0.3 -0.1M892 1586l0.4 -0.1M898 1525l0.5 -0.2M1068 1620l0.7 -0.1M949 1574l0.4 -0.1M1050 1538l0.5 -0.2M1060 1584l0.5 -0.2M1235 1484l0.3 -0.2M944 1633l0.3 -0.3M1064 1665l0.3 -0.2M1220 1491l0.5 -0.3M995 1662l0.4 -0.0M927 1689l0.6 -0.2M1026 1471l0.3 -0.1M1046 1644l0.5 -0.1M1021 1608l0.5 -0.3M918 1521l0.5 -0.1M949 1536l0.3 -0.1M1136 1482l0.5 -0.1M950 1618l0.3 -0.3M977 1635l0.5 -0.1M995 1633l0.4 -0.0M944 1665l0.3 -0.3M1037 1600l0.6 -0.1M1079 1480l0.4 -0.2M1014 1561l0.5 -0.2M1015 1584l0.3 -0.2M1214 1522l0.7 -0.2M1180 1617l0.6 -0.2M932 1591l0.5 -0.0M902 1465l0.3 -0.1M1090 1465l0.6 -0.3M1198 1669l0.5 -0.2M929 1559l0.5 -0.3M991 1600l0.7 -0.2M1199 1485l0.5 -0.3M1128 1549l0.2 -0.3M969 1513l0.6 -0.2M1003 1668l0.2 -0.2M1156 1684l0.5 -0.4M1064 1604l0.3 -0.1M1065 1476l0.5 -0.1M994 1480l0.4 -0.4M1209 1634l0.5 -0.3M1129 1644l0.4 -0.2M1047 1687l0.4 -0.1M1199 1481l0.3 -0.1M1004 1591l0.4 -0.3M943 1480l0.5 -0.3M1093 1470l0.6 -0.1M926 1656l0.5 -0.2M989 1511l0.4 -0.3M1112 1522l0.5 -0.4M1155 1513l0.6 -0.2M1084 1460l0.6 -0.1M1000 1622l0.5 -0.1M1073 1659l0.5 -0.5M1104 1489l0.2 -0.2M914 1653l0.4 -0.1M942 1661l0.5 -0.3M1009 1552l0.4 -0.1M1052 1673l0.3 -0.2M980 1464l0.4 -0.3M968 1577l0.5 -0.2M1056 1463l0.4 -0.0M1075 1663l0.5 -0.2M967 1477l0.7 -0.2M1197 1510l0.3 -0.3M920 1556l0.3 -0.0M960 1657l0.3 -0.2M904 1560l0.3 -0.0M1188 1584l0.4 -0.2M1154 1616l0.6 -0.3M1100 1460l0.3 -0.1M1043 1688l0.6 -0.0M1011 1564l0.5 -0.3" stroke="#243c78" stroke-width="4.2" stroke-linecap="round" stroke-opacity="0.85" fill="none" filter="url(#softn)"/>
</g>
<g clip-path="url(#clip9)">
<rect x="1248.0" y="1453.6" width="348.0" height="236.0" fill="#bfa292"/>
<rect x="1248.0" y="1453.6" width="348.0" height="236.0" fill="#000" filter="url(#nz10)"/>
<rect x="1248.0" y="1453.6" width="348.0" height="236.0" fill="#000" filter="url(#nz11)"/>
<path d="M1594 1704q-4 1 -6 5M1525 1479q26 -13 41 -38M1525 1479q-5 -5 -11 -5M1513 1457q4 8 1 17M1566 1440q1 -4 3 -8M1284 1441q8 3 16 -1M1454 1693q7 12 11 26M1588 1708q-16 5 -32 -1M1556 1707q-29 33 -49 71M1613 1550q8 -3 10 -11M1613 1550q-12 -20 -33 -29M1608 1508q8 -0 13 6M1535 1495q0 -11 -10 -16M1535 1495q11 4 22 -1M1557 1494q-0 -18 15 -28M1349 1463q5 -0 8 4M1349 1463q-5 -15 -14 -29M1357 1467q15 -16 18 -37M1307 1456q0 0 0 0M1418 1447q-4 -9 2 -18M1357 1469q1 2 3 3M1357 1469q-0 -1 -0 -3M1389 1647q13 14 15 33M1367 1663q-0 -1 0 -1M1367 1663q-3 12 3 23M1370 1686q15 -12 33 -5M1610 1702q9 -18 14 -37M1464 1459q-22 -14 -45 -0M1464 1459q-0 4 0 8M1456 1478q4 -5 9 -10M1456 1478q-18 -13 -39 -8M1417 1469q1 -5 3 -10M1416 1470q0 -0 0 -1M1379 1497q-13 -9 -18 -24M1418 1447q2 6 2 12M1361 1474q-0 -1 -1 -1M1469 1449q23 -5 36 -24M1464 1459q2 -5 4 -10M1513 1457q1 -17 -9 -32M1514 1474q-13 -1 -21 10M1493 1484q-13 -9 -28 -16M1579 1521q1 -0 1 -0M1568 1501q6 -23 30 -27M1614 1475q-8 -3 -15 -1M1614 1475q6 -1 9 -7M1572 1466q11 1 21 4M1593 1470q4 1 5 4M1484 1513q-24 -6 -45 7M1484 1513q1 -8 1 -16M1486 1497q-21 18 -46 6M1439 1520q-2 -6 -3 -11M1436 1508q1 -2 2 -4M1438 1504q1 -0 2 -2M1456 1478q-1 17 -16 25M1432 1539q2 -2 3 -5M1432 1539q-11 0 -17 10M1438 1528q-1 3 -3 6M1416 1549q-12 -21 -30 -35M1379 1497q-5 8 -0 16M1379 1513q3 0 7 1M1486 1519q4 1 6 5M1492 1524q0 3 0 6M1492 1530q-3 21 -21 31M1464 1534q-1 10 4 19M1438 1528q14 -1 26 6M1484 1513q-1 3 2 5M1535 1495q-4 7 -7 15M1528 1510q-15 13 -35 14M1528 1510q7 9 3 21M1531 1530q-7 14 -23 13M1508 1543q-11 -3 -15 -14M1435 1534q22 -1 33 19M1392 1640q5 -2 8 -6M1407 1680q-1 -0 -3 -0M1407 1680q4 -25 26 -38M1400 1634q18 0 35 -6M1433 1642q-1 14 8 26M1458 1677q-5 -4 -11 -7M1469 1667q-6 -18 -12 -35M1458 1677q1 9 -3 16M1409 1681q7 8 13 17M1446 1670q-3 0 -5 -2M1432 1539q13 11 16 28M1472 1561q-1 2 -1 4M1471 1566q-12 -3 -23 2M1416 1549q-3 11 -13 17M1402 1567q14 8 29 15M1448 1567q-9 6 -17 14M1404 1602q-1 -17 -5 -33M1402 1567q-1 1 -4 2M1431 1581q-2 6 -1 12M1295 1598q-5 1 -8 -3M1295 1598q16 -12 33 -21M1317 1570q7 0 11 7M1317 1570q-13 -2 -27 -0M1290 1570q-8 8 -6 19M1377 1516q2 -1 3 -3M1399 1568q-6 -1 -11 1M1388 1570q-3 -13 -12 -22M1400 1607q1 -3 4 -6M1400 1607q-21 -2 -39 -12M1388 1570q-18 8 -27 25M1347 1611q15 27 46 29M1347 1611q4 -3 2 -8M1349 1602q4 -7 12 -7M1290 1570q-5 -10 -14 -17M1284 1589q-11 -7 -23 -4M1261 1585q-3 -8 1 -16M1269 1555q4 -2 8 -2M1261 1585q-14 6 -14 21M1238 1607q5 1 10 -1M1262 1614q7 -17 25 -18M1262 1614q-2 1 -4 -1M1288 1626q5 -3 8 -8M1295 1641q6 -21 27 -23M1262 1614q4 10 15 14M1277 1628q6 1 11 -2M1295 1598q-5 10 1 20M1338 1658q-11 -12 -5 -26M1333 1632q6 -6 6 -14M1345 1612q-2 4 -6 5M1341 1686q-8 -2 -15 -3M1325 1678q0 -14 13 -20M1307 1649q1 19 18 28M1307 1649q17 -3 26 -18M1324 1678q0 -0 1 0M1347 1611q-0 1 -2 2M1307 1649q-3 -1 -5 1M1322 1618q9 -3 18 -0M1328 1577q1 -0 2 0M1349 1602q-8 -13 -19 -25M1287 1700q5 4 11 6M1298 1706q-5 -16 5 -30M1290 1673q8 -2 13 4M1324 1678q-11 4 -21 -1M1289 1670q5 -11 13 -19M1355 1701q2 -0 4 1M1370 1686q-11 5 -11 17M1403 1681q-13 26 -31 49M1312 1707q9 1 17 6M1341 1686q10 4 14 15M1613 1550q-0 0 -0 0M1613 1550q22 10 23 33M1596 1661q-0 11 -5 21M1571 1661q2 9 7 17M1591 1682q-7 -1 -13 -4M1594 1704q-3 -11 -3 -22M1601 1655q-4 2 -5 6M1545 1656q-2 0 -2 2M1549 1678q2 -12 -6 -21M1556 1707q-5 -3 -6 -9M1549 1678q2 10 1 20M1609 1631q-26 6 -51 12M1602 1651q-20 -15 -44 -7M1552 1644q3 -0 5 -0M1552 1644q-2 -13 6 -23M1601 1655q1 -2 1 -4M1552 1644q-3 6 -8 12M1232 1560q-11 5 -23 5M1232 1560q-0 13 -8 23M1592 1449q5 6 2 12M1593 1470q3 -4 1 -8M1437 1627q10 -2 19 1M1437 1627q-6 -10 1 -19M1456 1628q7 -3 13 -5M1469 1623q6 -23 17 -44M1435 1628q1 -1 2 -2M1471 1566q7 2 8 10M1504 1655q-7 -10 -4 -22M1500 1633q-12 -15 -31 -10M1531 1585q-15 -1 -29 -9M1531 1585q-13 25 -31 47M1502 1577q5 -16 6 -33M1339 1547q-10 13 -9 30M1339 1547q14 -1 27 6M1366 1553q-19 10 -35 24M1376 1548q-7 -0 -10 5M1330 1577q0 -0 0 -0M1307 1457q-3 2 -3 6M1357 1469q-17 15 -37 26M1320 1496q-4 -6 -11 -8M1304 1463q1 13 5 25M1303 1525q7 -5 13 -11M1303 1525q-1 4 -3 8M1307 1540q17 -6 32 4M1307 1540q-3 -4 -7 -7M1351 1526q-9 6 -11 18M1317 1570q0 -17 -10 -30M1339 1547q0 -2 1 -4M1293 1538q-7 9 -16 15M1293 1538q2 -5 7 -5M1361 1474q-14 22 -28 45M1320 1496q-8 8 -4 18M1377 1516q-12 8 -26 10M1228 1640q11 5 21 -3M1235 1660q13 -0 26 -3M1249 1637q9 4 13 14M1260 1657q-0 -3 2 -5M1262 1651q0 1 -0 1M1258 1613q-12 10 -9 25M1296 1645q-19 -7 -34 7M1265 1671q-4 -6 -5 -14M1232 1690q18 -3 31 -15M1232 1690q7 10 12 21M1263 1675q9 15 1 31M1265 1671q-2 1 -2 4M1287 1700q-11 3 -22 6M1579 1521q-15 8 -17 24M1613 1550q-6 11 -19 12M1531 1530q13 8 22 20M1562 1545q-3 5 -9 5M1515 1698q-11 2 -22 -2M1515 1698q2 4 5 7M1482 1707q3 -8 12 -11M1505 1655q16 -2 31 4M1542 1658q-3 2 -6 1M1504 1655q0 0 1 1M1304 1463q-10 6 -20 11M1309 1487q-13 16 -33 13M1283 1474q-7 12 -7 26M1303 1525q-7 -20 -28 -24M1594 1587q-22 6 -37 22M1594 1587q-3 -5 -2 -11M1592 1576q-27 21 -57 5M1557 1609q-15 -9 -25 -24M1531 1585q1 -3 4 -5M1559 1621q-2 -6 -2 -12M1594 1563q-0 7 -2 13M1231 1465q8 4 14 -2M1251 1459q-2 3 -6 4M1284 1441q-7 16 -23 20M1251 1459q4 4 10 2M1283 1474q-12 2 -20 -7M1261 1461q1 3 3 5M1276 1502q-3 -1 -5 2M1264 1466q-1 16 -8 30M1293 1538q-10 -16 -28 -22M1271 1503q-2 7 -6 13M1269 1555q-8 -12 -22 -14M1264 1516q-10 11 -18 25M1232 1529q4 5 5 11M1240 1541q-1 -1 -3 -1M1237 1518q11 -9 17 -21M1237 1518q-4 -11 -6 -23M1254 1497q-8 0 -14 -5M1232 1495q4 -0 8 -3M1255 1496q-1 -0 -2 0M1232 1529q-1 -7 5 -11" stroke="#e8e4ea" stroke-width="1.5" stroke-opacity="0.55" stroke-linecap="round" fill="none" filter="url(#softb)"/>
<path d="M1410 1623l1.1 -0.7M1332 1558l0.5 -0.4M1478 1523l1.2 -0.5M1480 1468l1.4 -0.2M1391 1605l0.9 -0.7M1548 1575l0.6 -0.7M1479 1611l0.7 -0.5M1473 1561l1.0 -0.9M1358 1484l0.6 -0.6M1556 1637l0.7 -0.2M1474 1632l0.8 -0.4M1357 1495l1.2 -0.3M1433 1564l0.7 -0.2M1473 1660l1.1 -0.4M1384 1542l1.0 -0.1M1493 1662l0.8 -0.8M1444 1594l1.2 -0.4M1558 1671l0.8 -0.2M1263 1684l1.3 -0.3M1281 1584l1.0 -0.2M1422 1685l0.5 -0.5M1329 1464l0.8 -0.4M1581 1562l1.1 -0.3M1407 1555l0.9 -0.5M1344 1461l1.1 -0.5M1441 1505l0.7 -0.3M1421 1689l0.9 -0.2M1590 1526l1.2 -0.1M1364 1483l1.1 -0.5M1459 1496l0.9 -0.6M1291 1670l1.0 -0.0M1442 1664l0.6 -0.3M1322 1495l0.9 -0.2M1449 1617l0.7 -0.2M1310 1572l0.7 -0.0M1443 1572l0.6 -0.2M1357 1559l1.1 -0.5M1286 1477l0.7 -0.4M1268 1651l1.2 -0.6M1334 1613l1.0 -0.1M1288 1662l1.0 -0.2M1257 1644l1.1 -0.2M1433 1668l0.8 -0.7M1557 1457l0.6 -0.5M1265 1513l0.7 -0.3M1263 1658l0.8 -0.5M1298 1613l0.6 -0.0M1577 1620l0.8 -0.6M1594 1607l0.8 -0.8M1383 1683l0.7 -0.1M1323 1585l1.0 -0.6M1392 1582l0.7 -0.2M1351 1680l0.7 -0.4M1593 1619l0.8 -0.3M1421 1678l0.6 -0.6M1577 1465l1.2 -0.5M1556 1479l0.5 -0.5M1280 1514l1.2 -0.6M1377 1568l1.0 -0.1M1580 1489l0.5 -0.4M1473 1573l0.7 -0.2M1292 1689l0.6 -0.3M1566 1536l1.1 -0.6M1550 1560l0.8 -0.8M1482 1673l0.8 -0.5M1470 1539l1.0 -0.6M1266 1564l1.1 -0.1M1449 1518l1.3 -0.2M1448 1457l1.2 -0.1M1336 1568l0.6 -0.7M1415 1621l1.1 -0.6M1328 1520l0.9 -0.1M1503 1521l0.7 -0.6M1300 1601l0.9 -1.0M1370 1593l0.6 -0.2M1585 1683l0.7 -0.2M1523 1683l0.5 -0.3M1524 1539l0.9 -0.3M1572 1483l1.1 -0.3M1320 1573l0.7 -0.1M1291 1596l0.6 -0.3M1437 1503l0.6 -0.1M1506 1474l0.9 -0.5M1417 1519l1.1 -0.8M1574 1488l1.1 -0.3M1380 1622l0.6 -0.1M1353 1649l0.8 -0.2M1287 1472l1.0 -0.6M1252 1585l0.8 -0.4M1415 1580l0.6 -0.3M1412 1661l1.2 -0.1M1323 1488l0.9 -0.4M1334 1650l1.1 -0.2M1530 1480l1.1 -0.1M1248 1687l1.3 -0.1M1585 1519l0.9 -0.4M1433 1465l0.7 -0.3M1425 1495l0.9 -0.5M1485 1490l1.3 -0.2M1444 1532l1.0 -0.7M1415 1678l1.1 -0.2M1430 1684l0.9 -0.3M1498 1507l0.8 -0.1M1336 1647l0.9 -0.5M1518 1488l1.0 -0.7M1529 1524l0.9 -0.5M1445 1664l1.2 -0.6M1567 1495l1.3 -0.2M1297 1517l0.6 -0.2M1458 1682l0.8 -0.7M1475 1634l1.3 -0.2M1533 1566l1.2 -0.6M1378 1642l0.7 -0.2M1464 1663l1.0 -0.7M1594 1564l1.1 -0.5M1367 1484l0.9 -0.0M1451 1528l1.2 -0.1M1357 1573l1.2 -0.2M1501 1614l0.7 -0.2M1408 1607l0.7 -0.1M1466 1670l1.0 -0.6M1485 1654l1.1 -0.1M1331 1655l0.9 -0.6M1249 1646l1.3 -0.3M1253 1598l0.7 -0.4M1343 1492l0.8 -0.4M1506 1486l1.1 -0.6M1484 1473l1.1 -0.8M1320 1547l0.7 -0.5M1446 1609l0.9 -0.8M1373 1658l0.7 -0.1M1257 1499l0.9 -0.8M1384 1598l0.7 -0.7M1475 1663l1.3 -0.2M1370 1605l0.6 -0.1M1488 1491l0.8 -0.0M1376 1558l0.7 -0.1M1456 1579l0.8 -0.3M1296 1502l1.0 -0.2M1362 1474l0.9 -0.2M1516 1665l1.2 -0.4M1503 1506l0.6 -0.3M1452 1461l0.8 -0.0M1321 1514l0.9 -0.1M1456 1591l0.8 -0.5M1436 1492l0.7 -0.2M1422 1630l0.6 -0.3M1551 1541l1.0 -0.1M1404 1660l0.9 -0.9M1263 1596l0.8 -0.4M1283 1644l0.9 -0.8M1483 1471l1.0 -0.7M1263 1676l0.9 -0.6M1354 1591l0.7 -0.1M1449 1544l1.1 -0.7M1282 1625l0.7 -0.6M1364 1555l0.8 -0.4M1526 1675l0.7 -0.1M1347 1533l0.8 -0.6M1517 1560l0.6 -0.5" stroke="#2e3f6c" stroke-width="6.8" stroke-linecap="round" stroke-opacity="0.75" fill="none" filter="url(#softn)"/>
</g>
<text x="1609.8" y="1371.0" font-size="34" text-anchor="start" font-weight="bold" fill="#000">I</text>
<line x1="1701.8" y1="1398.8" x2="1701.8" y2="1692.8" stroke="#000" stroke-width="4" stroke-linecap="butt"/>
<line x1="1693.6" y1="1690.8" x2="1701.8" y2="1690.8" stroke="#000" stroke-width="4" stroke-linecap="butt"/>
<text x="1687.0" y="1700.2" font-size="26" text-anchor="end" font-weight="bold" fill="#000">0</text>
<line x1="1693.6" y1="1618.3" x2="1701.8" y2="1618.3" stroke="#000" stroke-width="4" stroke-linecap="butt"/>
<text x="1687.0" y="1627.7" font-size="26" text-anchor="end" font-weight="bold" fill="#000">1</text>
<line x1="1693.6" y1="1545.8" x2="1701.8" y2="1545.8" stroke="#000" stroke-width="4" stroke-linecap="butt"/>
<text x="1687.0" y="1555.2" font-size="26" text-anchor="end" font-weight="bold" fill="#000">2</text>
<line x1="1693.6" y1="1473.3" x2="1701.8" y2="1473.3" stroke="#000" stroke-width="4" stroke-linecap="butt"/>
<text x="1687.0" y="1482.7" font-size="26" text-anchor="end" font-weight="bold" fill="#000">3</text>
<line x1="1693.6" y1="1400.8" x2="1701.8" y2="1400.8" stroke="#000" stroke-width="4" stroke-linecap="butt"/>
<text x="1687.0" y="1410.2" font-size="26" text-anchor="end" font-weight="bold" fill="#000">4</text>
<line x1="1693.6" y1="1690.8" x2="1896.0" y2="1690.8" stroke="#000" stroke-width="4" stroke-linecap="butt"/>
<line x1="1743.8" y1="1690.8" x2="1743.8" y2="1698.8" stroke="#000" stroke-width="4" stroke-linecap="butt"/>
<line x1="1797.0" y1="1690.8" x2="1797.0" y2="1698.8" stroke="#000" stroke-width="4" stroke-linecap="butt"/>
<line x1="1850.3" y1="1690.8" x2="1850.3" y2="1698.8" stroke="#000" stroke-width="4" stroke-linecap="butt"/>
<rect x="1726.4" y="1621.0" width="36.3" height="69.8" fill="#1f9e77" stroke="#000" stroke-width="4"/>
<rect x="1779.8" y="1589.0" width="36.0" height="101.8" fill="#d95f02" stroke="#000" stroke-width="4"/>
<rect x="1832.7" y="1510.0" width="36.3" height="180.8" fill="#7570b3" stroke="#000" stroke-width="4"/>
<line x1="1797.0" y1="1564.4" x2="1797.0" y2="1608.6" stroke="#000" stroke-width="3" stroke-linecap="butt"/>
<line x1="1787.0" y1="1564.4" x2="1807.0" y2="1564.4" stroke="#000" stroke-width="3" stroke-linecap="butt"/>
<line x1="1787.0" y1="1608.6" x2="1807.0" y2="1608.6" stroke="#000" stroke-width="3" stroke-linecap="butt"/>
<line x1="1850.3" y1="1472.0" x2="1850.3" y2="1540.7" stroke="#000" stroke-width="3" stroke-linecap="butt"/>
<line x1="1840.3" y1="1472.0" x2="1860.3" y2="1472.0" stroke="#000" stroke-width="3" stroke-linecap="butt"/>
<line x1="1840.3" y1="1540.7" x2="1860.3" y2="1540.7" stroke="#000" stroke-width="3" stroke-linecap="butt"/>
<circle cx="1730.0" cy="1612.0" r="5.2" fill="#fff" stroke="#000" stroke-width="2.8"/>
<circle cx="1736.0" cy="1617.0" r="5.2" fill="#fff" stroke="#000" stroke-width="2.8"/>
<circle cx="1742.0" cy="1619.0" r="5.2" fill="#fff" stroke="#000" stroke-width="2.8"/>
<circle cx="1748.0" cy="1619.0" r="5.2" fill="#fff" stroke="#000" stroke-width="2.8"/>
<circle cx="1754.0" cy="1620.0" r="5.2" fill="#fff" stroke="#000" stroke-width="2.8"/>
<circle cx="1759.0" cy="1622.0" r="5.2" fill="#fff" stroke="#000" stroke-width="2.8"/>
<circle cx="1787.5" cy="1583.5" r="5.2" fill="#fff" stroke="#000" stroke-width="2.8"/>
<circle cx="1797.0" cy="1556.5" r="5.2" fill="#fff" stroke="#000" stroke-width="2.8"/>
<circle cx="1808.0" cy="1586.5" r="5.2" fill="#fff" stroke="#000" stroke-width="2.8"/>
<circle cx="1797.0" cy="1616.0" r="5.2" fill="#fff" stroke="#000" stroke-width="2.8"/>
<circle cx="1850.3" cy="1472.0" r="5.2" fill="#fff" stroke="#000" stroke-width="2.8"/>
<circle cx="1840.0" cy="1483.0" r="5.2" fill="#fff" stroke="#000" stroke-width="2.8"/>
<circle cx="1862.5" cy="1494.0" r="5.2" fill="#fff" stroke="#000" stroke-width="2.8"/>
<circle cx="1840.0" cy="1540.5" r="5.2" fill="#fff" stroke="#000" stroke-width="2.8"/>
<circle cx="1861.0" cy="1546.0" r="5.2" fill="#fff" stroke="#000" stroke-width="2.8"/>
<line x1="1740.0" y1="1428.4" x2="1851.4" y2="1428.4" stroke="#000" stroke-width="5" stroke-linecap="butt"/>
<text x="1791.4" y="1428.7" font-size="31" text-anchor="middle" font-weight="bold" fill="#000">*</text>
<text x="1806.6" y="1428.7" font-size="31" text-anchor="middle" font-weight="bold" fill="#000">*</text>
<line x1="1742.5" y1="1522.5" x2="1793.0" y2="1522.5" stroke="#000" stroke-width="5" stroke-linecap="butt"/>
<text x="1768.0" y="1516.2" font-size="31" text-anchor="middle" font-weight="bold" fill="#000">*</text>
<text x="1763.5" y="1718.0" font-size="25" text-anchor="end" font-weight="bold" fill="#000" transform="rotate(-30 1763.5 1718.0)">Ctrl</text>
<text x="1816.0" y="1720.0" font-size="25" text-anchor="end" font-weight="bold" fill="#000" transform="rotate(-30 1816.0 1720.0)">Group1</text>
<text x="1868.0" y="1726.4" font-size="25" text-anchor="end" font-weight="bold" fill="#000" transform="rotate(-30 1868.0 1726.4)">Group2</text>
<text x="1662" y="1543" font-size="26" text-anchor="middle" font-weight="bold" transform="rotate(-90 1662 1543)"><tspan font-style="italic">PP2Acα</tspan> mRNA fold change</text>
<text x="3.4" y="2031.0" font-size="34" text-anchor="start" font-weight="bold" fill="#000">J</text>
<text x="200.0" y="2035.0" font-size="26" text-anchor="middle" font-weight="bold" fill="#000">Olive oil</text>
<line x1="150.5" y1="2046.7" x2="246.8" y2="2046.7" stroke="#000" stroke-width="3" stroke-linecap="butt"/>
<text x="334.0" y="2035.0" font-size="26" text-anchor="middle" font-weight="bold" fill="#000">CCl<tspan font-size="17" dy="6">4</tspan></text>
<line x1="285.0" y1="2046.7" x2="368.7" y2="2046.7" stroke="#000" stroke-width="3" stroke-linecap="butt"/>
<text x="114.5" y="2090.0" font-size="26" text-anchor="end" font-weight="bold" fill="#000">PP2Acα</text>
<text x="110.4" y="2142.0" font-size="26" text-anchor="end" font-weight="bold" fill="#000">β-actin</text>
<rect x="122.1" y="2057.6" width="270.3" height="51.5" fill="#e6e6e6"/>
<rect x="137.0" y="2065.0" width="44.0" height="32.0" rx="10.0" fill="#a8a8a8" opacity="0.9" filter="url(#bl5)"/>
<rect x="204.5" y="2066.0" width="44.0" height="31.0" rx="10.0" fill="#b4b4b4" opacity="0.9" filter="url(#bl5)"/>
<rect x="272.0" y="2080.0" width="46.0" height="24.0" rx="10.0" fill="#707070" opacity="0.7" filter="url(#bl5)"/>
<rect x="336.0" y="2080.0" width="44.0" height="25.0" rx="10.0" fill="#707070" opacity="0.7" filter="url(#bl5)"/>
<rect x="274.0" y="2067.0" width="42.0" height="26.0" rx="9.0" fill="#141414" opacity="1" filter="url(#bl4)"/>
<rect x="338.0" y="2066.0" width="40.6" height="28.0" rx="9.0" fill="#1c1c1c" opacity="1" filter="url(#bl4)"/>
<rect x="122.1" y="2057.6" width="270.3" height="51.5" fill="#000" filter="url(#nz12)"/>
<rect x="123.1" y="2058.7" width="268.2" height="49.4" fill="none" stroke="#000" stroke-width="2.1"/>
<rect x="122.1" y="2114.2" width="270.3" height="51.0" fill="url(#j2g)"/>
<rect x="134.4" y="2133.0" width="45.6" height="11.0" rx="5.5" fill="#000" opacity="1" filter="url(#bl15)"/>
<rect x="199.5" y="2132.5" width="45.5" height="11.5" rx="5.8" fill="#000" opacity="1" filter="url(#bl15)"/>
<rect x="263.7" y="2132.5" width="46.3" height="12.5" rx="6.2" fill="#000" opacity="1" filter="url(#bl15)"/>
<rect x="330.4" y="2132" width="47.3" height="10.5" rx="4" fill="#000" filter="url(#bl15)" transform="rotate(-5 354 2137)"/>
<rect x="123.1" y="2115.2" width="268.2" height="48.9" fill="none" stroke="#000" stroke-width="2.1"/>
<line x1="184.0" y1="2190.6" x2="184.0" y2="2456.0" stroke="#000" stroke-width="4" stroke-linecap="butt"/>
<line x1="176.0" y1="2454.0" x2="184.0" y2="2454.0" stroke="#000" stroke-width="4" stroke-linecap="butt"/>
<text x="170.0" y="2463.4" font-size="26" text-anchor="end" font-weight="bold" fill="#000">0</text>
<line x1="176.0" y1="2366.9" x2="184.0" y2="2366.9" stroke="#000" stroke-width="4" stroke-linecap="butt"/>
<text x="170.0" y="2376.2" font-size="26" text-anchor="end" font-weight="bold" fill="#000">2</text>
<line x1="176.0" y1="2279.7" x2="184.0" y2="2279.7" stroke="#000" stroke-width="4" stroke-linecap="butt"/>
<text x="170.0" y="2289.1" font-size="26" text-anchor="end" font-weight="bold" fill="#000">4</text>
<line x1="176.0" y1="2192.6" x2="184.0" y2="2192.6" stroke="#000" stroke-width="4" stroke-linecap="butt"/>
<text x="170.0" y="2201.9" font-size="26" text-anchor="end" font-weight="bold" fill="#000">6</text>
<line x1="176.0" y1="2454.0" x2="359.4" y2="2454.0" stroke="#000" stroke-width="4" stroke-linecap="butt"/>
<line x1="233.7" y1="2454.0" x2="233.7" y2="2463.0" stroke="#000" stroke-width="4" stroke-linecap="butt"/>
<line x1="309.0" y1="2454.0" x2="309.0" y2="2463.0" stroke="#000" stroke-width="4" stroke-linecap="butt"/>
<rect x="212.0" y="2416.0" width="43.7" height="38.0" fill="#1f9e77" stroke="#000" stroke-width="4"/>
<rect x="287.0" y="2316.0" width="43.0" height="138.0" fill="#7570b3" stroke="#000" stroke-width="4"/>
<line x1="233.7" y1="2397.7" x2="233.7" y2="2428.5" stroke="#000" stroke-width="3" stroke-linecap="butt"/>
<line x1="221.7" y1="2397.7" x2="245.7" y2="2397.7" stroke="#000" stroke-width="3" stroke-linecap="butt"/>
<line x1="221.7" y1="2428.5" x2="245.7" y2="2428.5" stroke="#000" stroke-width="3" stroke-linecap="butt"/>
<line x1="309.0" y1="2246.0" x2="309.0" y2="2378.6" stroke="#000" stroke-width="3" stroke-linecap="butt"/>
<line x1="297.0" y1="2246.0" x2="321.0" y2="2246.0" stroke="#000" stroke-width="3" stroke-linecap="butt"/>
<line x1="297.0" y1="2378.6" x2="321.0" y2="2378.6" stroke="#000" stroke-width="3" stroke-linecap="butt"/>
<circle cx="222.0" cy="2395.0" r="5.3" fill="#fff" stroke="#000" stroke-width="2.8"/>
<circle cx="246.0" cy="2406.0" r="5.3" fill="#fff" stroke="#000" stroke-width="2.8"/>
<circle cx="222.0" cy="2425.0" r="5.3" fill="#fff" stroke="#000" stroke-width="2.8"/>
<circle cx="246.0" cy="2426.0" r="5.3" fill="#fff" stroke="#000" stroke-width="2.8"/>
<circle cx="309.0" cy="2247.7" r="5.3" fill="#fff" stroke="#000" stroke-width="2.8"/>
<circle cx="309.0" cy="2265.0" r="5.3" fill="#fff" stroke="#000" stroke-width="2.8"/>
<circle cx="309.0" cy="2348.6" r="5.3" fill="#fff" stroke="#000" stroke-width="2.8"/>
<circle cx="309.0" cy="2386.8" r="5.3" fill="#fff" stroke="#000" stroke-width="2.8"/>
<line x1="232.0" y1="2224.0" x2="311.0" y2="2224.0" stroke="#000" stroke-width="5" stroke-linecap="butt"/>
<text x="265.1" y="2226.2" font-size="31" text-anchor="middle" font-weight="bold" fill="#000">*</text>
<text x="280.3" y="2226.2" font-size="31" text-anchor="middle" font-weight="bold" fill="#000">*</text>
<text x="227.7" y="2483.6" font-size="26" text-anchor="middle" font-weight="bold" fill="#000">Olive oil</text>
<text x="313.6" y="2483.6" font-size="26" text-anchor="middle" font-weight="bold" fill="#000">CCl<tspan font-size="17" dy="6">4</tspan></text>
<text x="96.0" y="2329.0" font-size="26" text-anchor="middle" font-weight="bold" fill="#000" transform="rotate(-90 96.0 2329.0)">Relative protein level</text>
<text x="144.0" y="2329.0" font-size="26" text-anchor="middle" font-weight="bold" fill="#000" transform="rotate(-90 144.0 2329.0)">(fold change)</text>
<text x="467.5" y="2101.0" font-size="34" text-anchor="start" font-weight="bold" fill="#000">K</text>
<text x="715.8" y="2129.0" font-size="26" text-anchor="middle" font-weight="bold" fill="#000">Olive oil</text>
<text x="1072.0" y="2129.0" font-size="26" text-anchor="middle" font-weight="bold" fill="#000">CCl<tspan font-size="17" dy="6">4</tspan></text>
<text x="493.0" y="2275.0" font-size="26" text-anchor="middle" font-weight="bold" fill="#000" transform="rotate(-90 493.0 2275.0)">PP2Acα IHC</text>
<text x="519.0" y="2273.5" font-size="26" text-anchor="middle" font-weight="bold" fill="#000" transform="rotate(-90 519.0 2273.5)">in mice liver tissue</text>
<g clip-path="url(#clip13)">
<rect x="536.0" y="2140.3" width="348.7" height="262.0" fill="#abadae"/>
<rect x="536.0" y="2140.3" width="348.7" height="262.0" fill="#000" filter="url(#nz14)"/>
<rect x="536.0" y="2140.3" width="348.7" height="262.0" fill="#000" filter="url(#nz15)"/>
<rect x="536.0" y="2140.3" width="348.7" height="262.0" fill="#000" filter="url(#nz16)"/>
<path d="M593 2321l0.5 -0.2M757 2266l0.5 -0.0M611 2348l0.4 -0.3M818 2275l0.2 -0.2M712 2202l0.4 -0.3M537 2238l0.3 -0.3M740 2158l0.5 -0.1M813 2201l0.4 -0.3M617 2151l0.3 -0.1M884 2334l0.3 -0.3M841 2302l0.4 -0.2M548 2227l0.5 -0.1M709 2171l0.3 -0.2M868 2237h.1M590 2354h.1M579 2383l0.5 -0.0M694 2285l0.4 -0.0M655 2267l0.5 -0.2M601 2150l0.3 -0.3M838 2202l0.2 -0.2M808 2195l0.4 -0.2M874 2375l0.5 -0.1M799 2340l0.3 -0.3M738 2332l0.4 -0.1M578 2265l0.4 -0.3M824 2193h.1M858 2373l0.2 -0.2M679 2236l0.3 -0.1M693 2241h.1M883 2242l0.4 -0.2M545 2165l0.3 -0.2M786 2401l0.3 -0.2M709 2269l0.4 -0.3M728 2336l0.3 -0.2M613 2300l0.3 -0.3M730 2304l0.4 -0.3M599 2185l0.3 -0.1M657 2383l0.5 -0.2M657 2297l0.4 -0.4M643 2167h.1M559 2354l0.4 -0.3M807 2239l0.5 -0.1M774 2318l0.4 -0.3M849 2392l0.3 -0.4M678 2399l0.4 -0.0M871 2295l0.4 -0.4M844 2269l0.3 -0.2M667 2205l0.5 -0.2M841 2183l0.5 -0.1M560 2351h.1M806 2267l0.2 -0.2M828 2154l0.3 -0.1M626 2216l0.5 -0.1M682 2185l0.3 -0.2M560 2229l0.3 -0.2M849 2398l0.4 -0.2M796 2266l0.3 -0.2M624 2392l0.3 -0.0M719 2331h.1M546 2196l0.4 -0.2M828 2349l0.4 -0.1M843 2298l0.2 -0.2M684 2293l0.5 -0.2M832 2221l0.5 -0.1M722 2213l0.2 -0.2M804 2143l0.5 -0.1M775 2390l0.3 -0.3M544 2296l0.3 -0.4M760 2363l0.5 -0.0M740 2208l0.3 -0.2M677 2392l0.4 -0.3M852 2175l0.3 -0.0M569 2165l0.3 -0.1M545 2257l0.4 -0.1M585 2368l0.3 -0.2M764 2173l0.4 -0.0M724 2225h.1M708 2198l0.5 -0.0M594 2188h.1M668 2326l0.4 -0.1M728 2152l0.4 -0.1M784 2369l0.4 -0.1M806 2348l0.4 -0.1M539 2262h.1M558 2340h.1M597 2327l0.4 -0.3M624 2323l0.5 -0.1M645 2151h.1M672 2221h.1M850 2218l0.3 -0.3M711 2284l0.5 -0.1M866 2166l0.3 -0.0M745 2274l0.3 -0.3M792 2394l0.3 -0.2M644 2324l0.3 -0.1M719 2287h.1M558 2354l0.4 -0.2M877 2233h.1M647 2401l0.3 -0.2M573 2160l0.5 -0.1M562 2354h.1M801 2258l0.5 -0.2M753 2146l0.3 -0.2M761 2256l0.3 -0.2M716 2242l0.4 -0.0M676 2199h.1M553 2254l0.4 -0.2M622 2325l0.5 -0.0M821 2330l0.3 -0.3M695 2202l0.4 -0.2M670 2268h.1M756 2393l0.2 -0.3M566 2266l0.4 -0.2M707 2328l0.3 -0.1M846 2345l0.3 -0.0M754 2339l0.3 -0.1M769 2365l0.4 -0.2M780 2319l0.4 -0.1M621 2381l0.4 -0.3M670 2301l0.4 -0.2M823 2393l0.3 -0.3M881 2142l0.4 -0.1M645 2222l0.5 -0.2M672 2178l0.5 -0.2M729 2161l0.4 -0.2M641 2388l0.4 -0.2M795 2261l0.3 -0.1M574 2391h.1M781 2194l0.5 -0.1M653 2309l0.4 -0.3M773 2209l0.4 -0.2M867 2225l0.4 -0.1M624 2362l0.4 -0.2M589 2319l0.3 -0.2M606 2297h.1M632 2240l0.5 -0.1M864 2263l0.4 -0.2M688 2302h.1M634 2186l0.5 -0.2M670 2212l0.3 -0.4M601 2392l0.5 -0.2M548 2353l0.3 -0.1M862 2325h.1M543 2272h.1M550 2300h.1M780 2203l0.5 -0.2M538 2283l0.4 -0.2M569 2221l0.3 -0.1M694 2375l0.4 -0.1M665 2176l0.4 -0.0M812 2356l0.3 -0.2M720 2153l0.5 -0.1M601 2246l0.3 -0.3M728 2199l0.2 -0.2M816 2361l0.5 -0.0M858 2372l0.3 -0.2M542 2293l0.2 -0.2M564 2376l0.4 -0.3M796 2339l0.4 -0.2M601 2156l0.4 -0.1M820 2299l0.3 -0.2M752 2264l0.3 -0.0M815 2229h.1M630 2233l0.2 -0.2M640 2305l0.4 -0.3M846 2159l0.3 -0.2M559 2274l0.3 -0.2M772 2190l0.5 -0.3M630 2156l0.5 -0.3M549 2270l0.5 -0.1M773 2311h.1M591 2168h.1M860 2281l0.4 -0.1M678 2321l0.3 -0.1M790 2278h.1M563 2357l0.4 -0.1M610 2151l0.3 -0.2M659 2280l0.5 -0.0M755 2186l0.2 -0.3M783 2270l0.3 -0.1M592 2363l0.3 -0.2M817 2378h.1M773 2197l0.4 -0.2M807 2377l0.2 -0.2M722 2378l0.3 -0.1M874 2243l0.3 -0.1M864 2386l0.3 -0.3M813 2143l0.3 -0.2M659 2301l0.4 -0.0M748 2338l0.2 -0.2M761 2183l0.4 -0.0M861 2281h.1M843 2195l0.4 -0.1M884 2286l0.4 -0.2M806 2334l0.5 -0.3M844 2235h.1M565 2247h.1M598 2282l0.3 -0.2M820 2235l0.4 -0.0M582 2147l0.4 -0.1M683 2292h.1M545 2315l0.3 -0.1M610 2168h.1M859 2277h.1M848 2275l0.4 -0.0M579 2203l0.4 -0.3M684 2308l0.3 -0.1M805 2337l0.3 -0.2M763 2207h.1M686 2239l0.4 -0.3M706 2210l0.4 -0.3M723 2261l0.3 -0.2M548 2356h.1M740 2351l0.3 -0.0M793 2332l0.3 -0.1M882 2239l0.4 -0.4M673 2141l0.4 -0.1M768 2293h.1M737 2402l0.4 -0.2M604 2200l0.5 -0.2M792 2353l0.5 -0.1M704 2155l0.2 -0.2M665 2357h.1M710 2261h.1M672 2305l0.3 -0.1M745 2322h.1M838 2337h.1M667 2206l0.4 -0.2M808 2348l0.3 -0.0M859 2193l0.4 -0.3M831 2374l0.4 -0.2M563 2221l0.4 -0.3M757 2179l0.3 -0.2M826 2210l0.4 -0.2M774 2218l0.4 -0.1M612 2195l0.4 -0.4M710 2327h.1M612 2320l0.3 -0.2M653 2310l0.4 -0.1M664 2191l0.3 -0.1M585 2155h.1M779 2249l0.4 -0.2M579 2371l0.4 -0.2M764 2146l0.3 -0.2M789 2296l0.4 -0.1M691 2272l0.4 -0.3M871 2238l0.3 -0.3M758 2307l0.4 -0.1M663 2231l0.3 -0.2M799 2307l0.4 -0.3M695 2275l0.3 -0.1M614 2347l0.5 -0.1M543 2309l0.4 -0.1M695 2198h.1M740 2293l0.4 -0.3M566 2269l0.3 -0.0M593 2350l0.3 -0.2M650 2226h.1M611 2153h.1M601 2180l0.5 -0.2M753 2362l0.3 -0.2M613 2170l0.4 -0.4M722 2171h.1M677 2340l0.3 -0.2M607 2324l0.4 -0.3M724 2163l0.4 -0.1M620 2298l0.3 -0.3M569 2194l0.5 -0.2M737 2355h.1M717 2314l0.4 -0.2M539 2220l0.4 -0.2M647 2380l0.4 -0.2M660 2346l0.5 -0.1M548 2271l0.4 -0.0M847 2342l0.5 -0.1M738 2188l0.4 -0.2M859 2161l0.4 -0.1M872 2344l0.4 -0.2M787 2279h.1M593 2230l0.3 -0.2M767 2312l0.3 -0.2M672 2350l0.4 -0.1M554 2216l0.4 -0.2M567 2226l0.4 -0.3M812 2338l0.4 -0.1M588 2221l0.4 -0.1M575 2314l0.5 -0.1M690 2201l0.3 -0.3M666 2367l0.4 -0.2M684 2321l0.3 -0.3M755 2264h.1M730 2236h.1M605 2270l0.4 -0.0M642 2227l0.4 -0.1M601 2380h.1M684 2193l0.4 -0.2M547 2197l0.2 -0.2M839 2229l0.5 -0.2M768 2201l0.4 -0.2M763 2258l0.4 -0.3M793 2279l0.3 -0.2M667 2214l0.3 -0.3M743 2358l0.2 -0.2M777 2266l0.3 -0.4M651 2374h.1M831 2179l0.4 -0.3M773 2343l0.3 -0.1M771 2393l0.4 -0.2M842 2205l0.3 -0.3M884 2226h.1M668 2396l0.4 -0.1M594 2244h.1M754 2212l0.4 -0.2M629 2348l0.5 -0.0M750 2335h.1M811 2369l0.3 -0.3M847 2356l0.3 -0.2M877 2271h.1M781 2275h.1M874 2312l0.4 -0.1M686 2314h.1M639 2174l0.5 -0.1M671 2176l0.3 -0.3M537 2165h.1M694 2340l0.4 -0.0M553 2307l0.3 -0.0M575 2274l0.5 -0.1M639 2257l0.3 -0.1M784 2249l0.5 -0.1M672 2331l0.5 -0.0M576 2232l0.4 -0.2M781 2359l0.2 -0.2M877 2208l0.4 -0.1M754 2222h.1M781 2362l0.4 -0.3M583 2231l0.5 -0.2M862 2233l0.3 -0.1M756 2355l0.4 -0.2M633 2346l0.3 -0.3M537 2230l0.3 -0.1M594 2231l0.5 -0.0M610 2147l0.4 -0.1M816 2186l0.3 -0.0M736 2286l0.5 -0.2M832 2362l0.3 -0.1M753 2185l0.5 -0.2M801 2166h.1M860 2221l0.2 -0.3M624 2197h.1M674 2348l0.5 -0.0M834 2336l0.5 -0.2M790 2204l0.5 -0.2M648 2220l0.3 -0.1M687 2369l0.4 -0.0M883 2162l0.2 -0.3M872 2381h.1M697 2322l0.4 -0.2M809 2189l0.5 -0.1M751 2398l0.4 -0.3M843 2379l0.4 -0.1M566 2328h.1M705 2379l0.4 -0.1M594 2284l0.3 -0.2M578 2351l0.3 -0.1M788 2149l0.4 -0.4M644 2177l0.3 -0.2M757 2305l0.3 -0.3M558 2389l0.5 -0.1M872 2256l0.3 -0.3M736 2236h.1M747 2245h.1M689 2337l0.4 -0.0M601 2218h.1M802 2199l0.4 -0.1M560 2379h.1M592 2248h.1M645 2209l0.4 -0.2M659 2281h.1M576 2280l0.3 -0.3M554 2161h.1M606 2203h.1M655 2217l0.3 -0.2M828 2313l0.3 -0.3M701 2342l0.3 -0.1M775 2223l0.4 -0.1M751 2336l0.3 -0.0M722 2338l0.4 -0.4M756 2383l0.3 -0.0M628 2316l0.3 -0.1M876 2279l0.3 -0.3M851 2165l0.4 -0.1M788 2210l0.4 -0.1M797 2251l0.5 -0.2M723 2205h.1M625 2367l0.5 -0.1M760 2305l0.5 -0.1M576 2217l0.3 -0.2M874 2194h.1M723 2323l0.5 -0.1M714 2286l0.4 -0.1M874 2345l0.3 -0.2M618 2253l0.3 -0.2M682 2320l0.3 -0.1M771 2209l0.3 -0.3M777 2253l0.5 -0.1M541 2217l0.3 -0.3M667 2192l0.4 -0.0M770 2400h.1M861 2305h.1M835 2269h.1M740 2374l0.4 -0.0M557 2235l0.3 -0.3M666 2230l0.3 -0.3M685 2155l0.3 -0.2M773 2391h.1M617 2189l0.4 -0.3M652 2349l0.5 -0.0M615 2342h.1M596 2296l0.4 -0.3M787 2317l0.2 -0.2M565 2391l0.4 -0.3M831 2266l0.4 -0.1M836 2298h.1M595 2244l0.4 -0.2M822 2262l0.4 -0.1M550 2184l0.3 -0.2M601 2294l0.5 -0.1M760 2258l0.4 -0.2M677 2393h.1M656 2316h.1M607 2275l0.4 -0.1M598 2170l0.4 -0.3M653 2170h.1M669 2311l0.4 -0.1M727 2349l0.5 -0.1M702 2162l0.5 -0.2M789 2246l0.3 -0.2M798 2396l0.4 -0.0M719 2206l0.3 -0.2M661 2271l0.5 -0.2M647 2167l0.4 -0.2M675 2312l0.4 -0.4M820 2340l0.4 -0.0M844 2350l0.4 -0.2M679 2309l0.4 -0.3M555 2348l0.5 -0.1M783 2210l0.5 -0.1M701 2211h.1M813 2252l0.3 -0.0M808 2382l0.5 -0.2M807 2240h.1M655 2388l0.3 -0.1M851 2190l0.4 -0.3M662 2347l0.3 -0.2M800 2214h.1M692 2392h.1M567 2212l0.3 -0.1M767 2378l0.4 -0.1M866 2263l0.3 -0.3M811 2395l0.3 -0.1M651 2200l0.4 -0.3M626 2345l0.4 -0.2M584 2284l0.5 -0.1M860 2193l0.4 -0.0M755 2279h.1M873 2275h.1M707 2377h.1M798 2178h.1M816 2245l0.4 -0.1M874 2393l0.3 -0.2M708 2249l0.3 -0.1M615 2213l0.5 -0.2M608 2184l0.3 -0.2M790 2154l0.5 -0.1M745 2297l0.3 -0.3M792 2289l0.3 -0.1M859 2214l0.3 -0.2M568 2293l0.2 -0.2M630 2399l0.4 -0.0M857 2320h.1M827 2204l0.3 -0.1M705 2241h.1M656 2238l0.3 -0.1M703 2312h.1M545 2282l0.4 -0.3M581 2394h.1M728 2295l0.3 -0.2M646 2325l0.4 -0.3M783 2379l0.5 -0.1M738 2211h.1M755 2154l0.3 -0.3M795 2221l0.4 -0.1M787 2175l0.4 -0.1M744 2185h.1M548 2209l0.5 -0.2M832 2242h.1M718 2347l0.3 -0.2M877 2208l0.4 -0.1M778 2345l0.5 -0.0M813 2231h.1M701 2346l0.4 -0.2M623 2268h.1M757 2363l0.3 -0.1M621 2315l0.2 -0.2M611 2181l0.5 -0.1M702 2310l0.2 -0.2M759 2389l0.4 -0.1M593 2279l0.5 -0.1M703 2208l0.4 -0.0M856 2178h.1M627 2151h.1M760 2313h.1M614 2382l0.4 -0.3M757 2193l0.4 -0.1M864 2364l0.4 -0.2M645 2367h.1M581 2232l0.3 -0.2M682 2391l0.4 -0.2M640 2241h.1M608 2355l0.4 -0.3M600 2362l0.3 -0.1M655 2285l0.3 -0.3M841 2210l0.4 -0.2M720 2307l0.4 -0.1M737 2247l0.2 -0.2M761 2223l0.4 -0.2M590 2143l0.3 -0.3M747 2291l0.3 -0.1M815 2181l0.4 -0.2M770 2259l0.5 -0.2M719 2358l0.3 -0.2M717 2254h.1M761 2179l0.4 -0.3M840 2276l0.3 -0.2M551 2267l0.3 -0.2M866 2397l0.4 -0.3M685 2210h.1M862 2215l0.5 -0.1M542 2205h.1M700 2317l0.4 -0.1M559 2228h.1M790 2231l0.4 -0.0M597 2327l0.3 -0.3M688 2322l0.3 -0.1M705 2353l0.3 -0.2M714 2396l0.4 -0.2M820 2329h.1M707 2300l0.5 -0.2M667 2160l0.3 -0.2M844 2352l0.4 -0.3M803 2365h.1M728 2401l0.3 -0.2M701 2397l0.3 -0.2M564 2239l0.5 -0.1M735 2355l0.5 -0.3M718 2347h.1M666 2318l0.3 -0.1M814 2298l0.4 -0.1M543 2313l0.3 -0.3M536 2220l0.4 -0.1M576 2340h.1M595 2329l0.4 -0.3M561 2195l0.3 -0.2M778 2383l0.3 -0.2M561 2301l0.3 -0.1M675 2303h.1M563 2145l0.5 -0.2M563 2374l0.3 -0.0M707 2301l0.5 -0.1M582 2320l0.5 -0.2M850 2192l0.3 -0.1M808 2363l0.3 -0.1M882 2289l0.3 -0.1M761 2231l0.3 -0.3M808 2222l0.2 -0.2M753 2304h.1M881 2347l0.4 -0.4M569 2187l0.4 -0.1M660 2244l0.3 -0.0M786 2208h.1M731 2259l0.5 -0.0M642 2309l0.4 -0.1M687 2397h.1M581 2376l0.4 -0.3M758 2261l0.4 -0.1M563 2310l0.4 -0.1M816 2232l0.3 -0.2M784 2280l0.2 -0.2M567 2366l0.4 -0.4M645 2266l0.3 -0.3M801 2370l0.4 -0.3M834 2237l0.3 -0.2M831 2180l0.4 -0.1M728 2254l0.4 -0.3M838 2330l0.3 -0.1M766 2353l0.3 -0.3M657 2257l0.3 -0.3M572 2232l0.3 -0.2M605 2332l0.2 -0.2M581 2380l0.3 -0.2M745 2257l0.5 -0.2M577 2257l0.4 -0.3M733 2178h.1M876 2235l0.4 -0.1M688 2215h.1M666 2213l0.4 -0.1M834 2159l0.4 -0.1M663 2297l0.3 -0.3M703 2225l0.5 -0.2M705 2157h.1M643 2254l0.3 -0.3M803 2253l0.4 -0.0M681 2312l0.4 -0.1M632 2285l0.4 -0.1M604 2302l0.5 -0.1M724 2312l0.4 -0.2M841 2349l0.3 -0.3M881 2202l0.2 -0.2M869 2257h.1M664 2260h.1M857 2390l0.3 -0.2M816 2219l0.5 -0.0M577 2194l0.3 -0.2M770 2324h.1M559 2141l0.5 -0.1M883 2229l0.5 -0.1M551 2262h.1M570 2354l0.3 -0.2M720 2301l0.5 -0.1M859 2173l0.4 -0.3M611 2346l0.4 -0.1M748 2255l0.3 -0.1M660 2303h.1M865 2389l0.4 -0.1M856 2397l0.4 -0.2M582 2148l0.4 -0.1M825 2205h.1M718 2263h.1M875 2256l0.3 -0.2M583 2194h.1M851 2354l0.3 -0.3M584 2393l0.5 -0.2M665 2331l0.4 -0.3M733 2365l0.4 -0.2M706 2148l0.5 -0.0M730 2363l0.5 -0.2M679 2357h.1M691 2235l0.5 -0.3M661 2200l0.3 -0.2M710 2392l0.3 -0.2M742 2342l0.3 -0.1M598 2237l0.4 -0.1M738 2241l0.4 -0.1M539 2368h.1M581 2313h.1M878 2216l0.4 -0.1M630 2227l0.3 -0.3M725 2397l0.4 -0.1M586 2205l0.3 -0.2M848 2213l0.3 -0.1M769 2329h.1M536 2148l0.3 -0.3M801 2381l0.2 -0.2M778 2263h.1M571 2278h.1M574 2225l0.3 -0.1M548 2275l0.3 -0.1M699 2215l0.4 -0.2M613 2158l0.2 -0.2M545 2174l0.5 -0.1M878 2149l0.2 -0.2M786 2260h.1M741 2220l0.4 -0.2M878 2352l0.4 -0.2M677 2253l0.5 -0.3M856 2181h.1M841 2303l0.3 -0.4M734 2280l0.4 -0.1M742 2164l0.3 -0.1M623 2233l0.3 -0.3M613 2163l0.2 -0.2M784 2251l0.3 -0.1M794 2243l0.3 -0.0M864 2204l0.2 -0.2M714 2251l0.5 -0.2M812 2175l0.5 -0.1M726 2259l0.3 -0.1M753 2201l0.5 -0.2M725 2398h.1M572 2395l0.4 -0.2M873 2258l0.3 -0.3M564 2270h.1M872 2141l0.4 -0.0M798 2345l0.5 -0.1M576 2298l0.4 -0.1M588 2167l0.3 -0.3M718 2218l0.3 -0.1M766 2278l0.5 -0.1M616 2381l0.3 -0.1M538 2350h.1M634 2376h.1M748 2260h.1M611 2365l0.5 -0.3M835 2392h.1M741 2383l0.3 -0.3M848 2315l0.4 -0.3M654 2298h.1M655 2353l0.3 -0.0M729 2367l0.4 -0.0M847 2338l0.3 -0.2M607 2228l0.4 -0.2M566 2228l0.3 -0.0M591 2219l0.5 -0.1M813 2172l0.5 -0.3M856 2382l0.3 -0.4M805 2203h.1M637 2260l0.3 -0.3M752 2383l0.3 -0.3M543 2163h.1M822 2146l0.4 -0.1M848 2189h.1M876 2264l0.3 -0.1M747 2357l0.3 -0.2M823 2249h.1M696 2347l0.4 -0.2M625 2220l0.3 -0.1M840 2371l0.3 -0.1M824 2230l0.3 -0.2M655 2168l0.3 -0.3M826 2153l0.3 -0.3M600 2147l0.4 -0.2M695 2401l0.5 -0.1M560 2206l0.3 -0.3M629 2324l0.3 -0.2M660 2186l0.4 -0.0M777 2376l0.4 -0.2M594 2157h.1M678 2385h.1M557 2177l0.4 -0.2M761 2340l0.3 -0.3M694 2152h.1M728 2167l0.2 -0.3M562 2155l0.3 -0.2M863 2167l0.3 -0.1M701 2355l0.5 -0.1M606 2243l0.5 -0.1M813 2288l0.5 -0.1M604 2281h.1M883 2355l0.5 -0.1M871 2147l0.4 -0.2M556 2272h.1M540 2392l0.3 -0.1M638 2284l0.3 -0.1M842 2252l0.4 -0.1M803 2181l0.5 -0.1M691 2331l0.4 -0.2M699 2189h.1M835 2234l0.4 -0.3M854 2223l0.4 -0.0M825 2173h.1M771 2390l0.5 -0.1M755 2249h.1M878 2394l0.5 -0.2M823 2199h.1M567 2301h.1M583 2156l0.3 -0.0M729 2388l0.5 -0.1M630 2355l0.4 -0.1M871 2387l0.3 -0.2M564 2176l0.5 -0.1M869 2393l0.5 -0.2M596 2188l0.4 -0.3M784 2166l0.3 -0.2M572 2182l0.4 -0.0M737 2238l0.3 -0.2M830 2180h.1M849 2347l0.4 -0.1M666 2299l0.4 -0.3M772 2172l0.4 -0.4M861 2256l0.3 -0.1M716 2364h.1M543 2210l0.4 -0.3M547 2333h.1M612 2329l0.4 -0.3M786 2401h.1M599 2249l0.4 -0.2M811 2257h.1M597 2317h.1M813 2258l0.3 -0.4M669 2175l0.3 -0.2M677 2361l0.3 -0.3M659 2390l0.3 -0.3M661 2265h.1M807 2379l0.3 -0.2M830 2251l0.4 -0.0M693 2174l0.4 -0.3M724 2355l0.4 -0.2M602 2223l0.5 -0.0M559 2259h.1M703 2400l0.5 -0.1M770 2381l0.3 -0.2M606 2255l0.4 -0.1M781 2160l0.3 -0.1M735 2304l0.3 -0.3M545 2194l0.3 -0.2M809 2183l0.3 -0.3M758 2251l0.2 -0.3M672 2370h.1M674 2371l0.4 -0.1M822 2286h.1M571 2228l0.4 -0.1M869 2209l0.4 -0.1M742 2193l0.3 -0.2M791 2321h.1M846 2296h.1M574 2349l0.3 -0.3M737 2388l0.3 -0.2M717 2225l0.2 -0.3M690 2288l0.5 -0.3M779 2306l0.5 -0.2M836 2281l0.5 -0.1M607 2365l0.3 -0.2M784 2182h.1M697 2363l0.4 -0.3M737 2172l0.3 -0.2M838 2332l0.5 -0.1M605 2322l0.3 -0.2M837 2291l0.3 -0.1M867 2281l0.3 -0.3M540 2313l0.5 -0.3M825 2380h.1M799 2387l0.5 -0.2M816 2264l0.3 -0.1M557 2184l0.4 -0.2M553 2383l0.4 -0.3M817 2378l0.5 -0.1M807 2259h.1M732 2147l0.4 -0.3M592 2245l0.5 -0.3M555 2224h.1M717 2183l0.3 -0.0M598 2163l0.5 -0.1M695 2360l0.4 -0.3M692 2325l0.3 -0.1M786 2351h.1M814 2271h.1M552 2185l0.3 -0.0M633 2229h.1M745 2271l0.3 -0.1M636 2184l0.3 -0.1M793 2401h.1M780 2177l0.5 -0.1M778 2350l0.4 -0.1M723 2307l0.4 -0.3M836 2266l0.5 -0.1M782 2185l0.4 -0.2M827 2290l0.5 -0.0M602 2304l0.5 -0.1M824 2257l0.3 -0.2M645 2327l0.5 -0.1M883 2392l0.4 -0.3M644 2268l0.4 -0.3M667 2178l0.3 -0.3M726 2216l0.4 -0.2M702 2357l0.4 -0.0M730 2400h.1M606 2189l0.5 -0.1M558 2325l0.2 -0.2M636 2198h.1M758 2399h.1M798 2391l0.4 -0.4M861 2279l0.4 -0.3M613 2341h.1M612 2159l0.5 -0.2M666 2334h.1M757 2248l0.3 -0.2M580 2185h.1M745 2270l0.5 -0.1M725 2335l0.5 -0.1M736 2368l0.4 -0.1M856 2276l0.5 -0.1M662 2272l0.3 -0.1M623 2186l0.4 -0.3M787 2256l0.3 -0.2M544 2243l0.5 -0.1M648 2156l0.4 -0.3M544 2301l0.5 -0.1M817 2360l0.4 -0.1M744 2200l0.5 -0.2M758 2211l0.3 -0.1M616 2226h.1M583 2170l0.4 -0.1M880 2163l0.5 -0.2M874 2322l0.5 -0.1M795 2169l0.4 -0.0M773 2193l0.4 -0.3M713 2259l0.4 -0.3M850 2167h.1M538 2293l0.4 -0.0M719 2310l0.3 -0.1M566 2238l0.4 -0.3M784 2296l0.4 -0.3M646 2143l0.3 -0.2M551 2374l0.3 -0.3M631 2159l0.5 -0.1M638 2196h.1M725 2153l0.4 -0.2M724 2310h.1M723 2297l0.5 -0.3M620 2243h.1M797 2215l0.5 -0.1M824 2190h.1M702 2375l0.3 -0.2M767 2213h.1M663 2214l0.4 -0.1M798 2236l0.5 -0.3M828 2323l0.5 -0.1M825 2279l0.5 -0.1M634 2321l0.4 -0.2M688 2154l0.4 -0.3M693 2189l0.4 -0.0M562 2210h.1M869 2316l0.3 -0.2M687 2293l0.4 -0.3M671 2288l0.4 -0.2M627 2364l0.3 -0.2M813 2257h.1M730 2238l0.3 -0.2M805 2359l0.5 -0.3M859 2168h.1M852 2198l0.4 -0.1M574 2249l0.5 -0.2M761 2171l0.4 -0.1M760 2394l0.4 -0.2M807 2357l0.4 -0.2M591 2229l0.3 -0.3M622 2237l0.5 -0.0M844 2401h.1M628 2288l0.4 -0.2M748 2395l0.4 -0.0M693 2171l0.5 -0.0M570 2178l0.5 -0.1M702 2165l0.3 -0.2M777 2191l0.5 -0.1M551 2329h.1M697 2338l0.4 -0.2M737 2240l0.4 -0.1M560 2364l0.4 -0.0M773 2209h.1M565 2305l0.3 -0.1M860 2335l0.3 -0.2M857 2401l0.4 -0.3M580 2189h.1M698 2170l0.2 -0.2M705 2354l0.3 -0.3M627 2355l0.3 -0.2M625 2354h.1M563 2171h.1M552 2292l0.3 -0.2M544 2322l0.4 -0.3M682 2377l0.4 -0.0M670 2359l0.4 -0.3M798 2239l0.3 -0.2M807 2297l0.4 -0.1M743 2252l0.3 -0.1M590 2277h.1M717 2254l0.4 -0.1M879 2185l0.3 -0.2M853 2287l0.5 -0.1M570 2288h.1M601 2270l0.5 -0.0M703 2343l0.5 -0.2M853 2159h.1M842 2386h.1M589 2162l0.5 -0.2M698 2149l0.4 -0.0M579 2274l0.4 -0.0M609 2298h.1M608 2315l0.3 -0.3M754 2160h.1M775 2382l0.3 -0.3M882 2151l0.3 -0.2M776 2224l0.4 -0.1M681 2261h.1M553 2305l0.5 -0.1M581 2365l0.3 -0.2M571 2304l0.2 -0.3M729 2149l0.3 -0.0M576 2270l0.3 -0.2M672 2181l0.3 -0.2M571 2201l0.4 -0.1M820 2176l0.4 -0.0M800 2170h.1M821 2342l0.3 -0.2M843 2243l0.4 -0.3M876 2249l0.4 -0.3M756 2358l0.4 -0.3M589 2152l0.4 -0.3M778 2200l0.3 -0.2M612 2270l0.3 -0.3M596 2211l0.3 -0.3M606 2164l0.4 -0.2M820 2362l0.4 -0.3M791 2256l0.2 -0.2M857 2283l0.4 -0.3M729 2146l0.3 -0.2M660 2197l0.5 -0.2M765 2393l0.3 -0.1M755 2224l0.3 -0.2M826 2161l0.3 -0.2M817 2152l0.4 -0.2M872 2338l0.5 -0.0M879 2267l0.4 -0.2M765 2245l0.3 -0.1M798 2281l0.4 -0.3M695 2351l0.4 -0.1M864 2213l0.3 -0.1M626 2401l0.3 -0.3M653 2237l0.5 -0.2M727 2216l0.4 -0.1M695 2212l0.5 -0.1M690 2350l0.3 -0.2M802 2384l0.4 -0.1M861 2210l0.4 -0.1M807 2322l0.4 -0.1M754 2268l0.4 -0.1M857 2288l0.4 -0.0M863 2168l0.5 -0.3M661 2175l0.3 -0.2M787 2261l0.5 -0.1M647 2229l0.4 -0.4M705 2221l0.3 -0.2M708 2304l0.3 -0.2M543 2198l0.4 -0.4M719 2314l0.4 -0.0M742 2332l0.5 -0.1M687 2379l0.3 -0.1M804 2273h.1M735 2351l0.5 -0.2M634 2214l0.3 -0.2M710 2273h.1M554 2272h.1M856 2367l0.3 -0.1M724 2324l0.5 -0.2M665 2159l0.3 -0.2M823 2282l0.4 -0.3M749 2301l0.4 -0.4M876 2220l0.3 -0.2M735 2333l0.4 -0.3M776 2379h.1M550 2349l0.4 -0.3M549 2224l0.3 -0.2M659 2350l0.4 -0.3M846 2286l0.4 -0.0M730 2315l0.4 -0.2M545 2238h.1M693 2153l0.3 -0.1M644 2214h.1M581 2190h.1M665 2314l0.2 -0.2M833 2224l0.3 -0.1M810 2327h.1M572 2193l0.5 -0.2M842 2177l0.4 -0.3M754 2293l0.3 -0.1M817 2344l0.4 -0.1M821 2176l0.4 -0.3M788 2375l0.4 -0.3M768 2391l0.5 -0.3M565 2262l0.4 -0.3M873 2220l0.2 -0.2M656 2218l0.3 -0.2M666 2253l0.5 -0.1M712 2208l0.4 -0.3M710 2384l0.5 -0.1M658 2206h.1M855 2326l0.4 -0.4M812 2380l0.4 -0.3M879 2220l0.2 -0.2M536 2334l0.4 -0.1M766 2242l0.4 -0.3M851 2351l0.4 -0.1M735 2301l0.3 -0.0M682 2188l0.3 -0.3M638 2331l0.4 -0.3M708 2277h.1M764 2386h.1M577 2165l0.4 -0.1M804 2197l0.3 -0.3M734 2273h.1M770 2308h.1M675 2299l0.4 -0.1M862 2361l0.5 -0.2M695 2332l0.4 -0.4M637 2382h.1M537 2289l0.5 -0.1M803 2379h.1M725 2275l0.4 -0.0M748 2339l0.4 -0.2M666 2307h.1M625 2161l0.4 -0.2M563 2187l0.4 -0.4M678 2175h.1M808 2320l0.3 -0.2M670 2187l0.4 -0.2M681 2369h.1M827 2321l0.4 -0.0M670 2359l0.3 -0.2M713 2230l0.4 -0.4M850 2316l0.4 -0.2M556 2158l0.4 -0.1M701 2344l0.3 -0.0M689 2279l0.2 -0.2M583 2299l0.4 -0.1M678 2235l0.4 -0.2M610 2295h.1M825 2280l0.3 -0.2M747 2286h.1M783 2323l0.3 -0.0M539 2393l0.4 -0.2M707 2153l0.3 -0.3M788 2340l0.3 -0.2M664 2298l0.5 -0.1M550 2334l0.4 -0.2M771 2352l0.4 -0.4M701 2381l0.4 -0.1M680 2142l0.3 -0.2M567 2225l0.4 -0.3M614 2201l0.4 -0.1M568 2310l0.4 -0.1M845 2384l0.5 -0.3M659 2271l0.4 -0.1M719 2298l0.4 -0.3M790 2253h.1M543 2223l0.4 -0.4M540 2319l0.5 -0.3M873 2290l0.4 -0.2M777 2289l0.3 -0.2M875 2184h.1M735 2227l0.4 -0.0M696 2197l0.5 -0.2M808 2228l0.3 -0.2M629 2365l0.4 -0.4M542 2189l0.4 -0.1M859 2315l0.3 -0.2M606 2175l0.3 -0.4M770 2359l0.3 -0.3M884 2387h.1M798 2162l0.3 -0.1M810 2255l0.3 -0.0M721 2147l0.2 -0.2M541 2276l0.4 -0.2M761 2211l0.3 -0.2M873 2158l0.3 -0.1M841 2385l0.4 -0.3M567 2357l0.5 -0.1M750 2254h.1M688 2284l0.4 -0.1M859 2339l0.5 -0.1M701 2261h.1M597 2284l0.4 -0.2M836 2306l0.5 -0.1M745 2259l0.3 -0.3M879 2363l0.4 -0.2M716 2314l0.4 -0.1M817 2208l0.5 -0.1M755 2215l0.3 -0.0M802 2220l0.3 -0.3M871 2322l0.4 -0.3M720 2289l0.4 -0.2M739 2210h.1M544 2259h.1M639 2264h.1M609 2195l0.5 -0.3M877 2239l0.3 -0.3M797 2177l0.5 -0.2M566 2321l0.3 -0.1M688 2350l0.4 -0.1M543 2270l0.3 -0.2M744 2198l0.3 -0.1M785 2192l0.5 -0.1M574 2181l0.5 -0.3M552 2246l0.5 -0.2M809 2186l0.2 -0.2M635 2228l0.3 -0.3M613 2368l0.3 -0.2M827 2172h.1M766 2378l0.4 -0.0M540 2246l0.4 -0.4M545 2223l0.3 -0.1M579 2260l0.4 -0.1M607 2333l0.3 -0.2M669 2162l0.4 -0.3M729 2261h.1M794 2335h.1M622 2241l0.4 -0.3M787 2394l0.3 -0.2M728 2300l0.5 -0.1M652 2254l0.4 -0.3M646 2270l0.3 -0.3M635 2225l0.5 -0.2M546 2163h.1M838 2231l0.3 -0.2M872 2205l0.3 -0.0M663 2374l0.4 -0.0M691 2318l0.3 -0.1M806 2242l0.3 -0.1M606 2143l0.5 -0.3M837 2291h.1M808 2398l0.5 -0.0M840 2295h.1M575 2291h.1M705 2167h.1M542 2231l0.4 -0.3M666 2370h.1M882 2382l0.4 -0.1M648 2364l0.3 -0.1M669 2236l0.5 -0.2M737 2151l0.4 -0.1M771 2157l0.3 -0.2M741 2336l0.3 -0.2M557 2310l0.3 -0.1M713 2232l0.5 -0.1M809 2223l0.4 -0.1M603 2249l0.4 -0.2M663 2355l0.3 -0.1M608 2244l0.4 -0.0M808 2262h.1M654 2179l0.4 -0.3M658 2279l0.4 -0.3M808 2402l0.3 -0.3M722 2271l0.4 -0.1M801 2262h.1M625 2323l0.3 -0.3M826 2198l0.3 -0.2M836 2156h.1M602 2239h.1M851 2266l0.3 -0.1M656 2204l0.3 -0.1M699 2287l0.2 -0.2M744 2374l0.3 -0.3M579 2328h.1M871 2300l0.4 -0.2M783 2351l0.4 -0.2M845 2224l0.4 -0.3M694 2361l0.5 -0.1M591 2258l0.4 -0.2M873 2245l0.5 -0.2M687 2252l0.3 -0.0M703 2342l0.4 -0.4M574 2261h.1M685 2392h.1M834 2217l0.5 -0.0M647 2400l0.2 -0.2M540 2323l0.3 -0.2M541 2217l0.5 -0.1M761 2317l0.4 -0.1M758 2199h.1M676 2364l0.4 -0.2M632 2281l0.4 -0.1M731 2365l0.3 -0.1M816 2347l0.2 -0.2M654 2333l0.3 -0.2M847 2160l0.5 -0.3M789 2262h.1M670 2309l0.3 -0.3M818 2377h.1M814 2385l0.3 -0.2M837 2274h.1M777 2380l0.4 -0.1M742 2159h.1M675 2319l0.3 -0.3M543 2170l0.5 -0.2M830 2320l0.4 -0.2M542 2345h.1M749 2240l0.4 -0.1M761 2165l0.4 -0.3M585 2320l0.5 -0.1M774 2302h.1M688 2192l0.4 -0.1M581 2385l0.5 -0.0M637 2249h.1M714 2141l0.5 -0.2M648 2192l0.3 -0.3M572 2384l0.6 -0.0M597 2217l0.4 -0.4M630 2346h.1M838 2307l0.3 -0.1M756 2298l0.3 -0.3M546 2314l0.5 -0.0M869 2371h.1M854 2174l0.3 -0.2M785 2400l0.4 -0.2M621 2216l0.3 -0.2M877 2204l0.5 -0.3M589 2318l0.4 -0.2M648 2303l0.4 -0.3M624 2201l0.5 -0.3M741 2254l0.4 -0.2M769 2286l0.3 -0.1M620 2194l0.5 -0.1M564 2161h.1M784 2227h.1M537 2148l0.5 -0.1M834 2305l0.5 -0.2M610 2347l0.4 -0.3M847 2155l0.3 -0.1M600 2317l0.4 -0.3M806 2210l0.4 -0.3M704 2228l0.5 -0.1M669 2359l0.3 -0.2M737 2306l0.3 -0.0M852 2380l0.2 -0.2M770 2149h.1M665 2395l0.3 -0.2M702 2148l0.5 -0.0M770 2286h.1M789 2286l0.5 -0.1M634 2239l0.4 -0.2M582 2250l0.3 -0.2M713 2175l0.3 -0.3M554 2306l0.3 -0.2M758 2343l0.4 -0.2M698 2163l0.5 -0.1M718 2218h.1M852 2197l0.3 -0.0M818 2309l0.3 -0.3M639 2297l0.3 -0.2M559 2212l0.4 -0.3M782 2151l0.3 -0.2M730 2377l0.4 -0.1M872 2342l0.3 -0.2M824 2223l0.3 -0.2M661 2209l0.4 -0.2M558 2162l0.3 -0.2M555 2198l0.4 -0.4M651 2239l0.4 -0.2M704 2359l0.3 -0.0M663 2263l0.2 -0.3M816 2258l0.5 -0.1M788 2394l0.3 -0.1M849 2213l0.3 -0.2M829 2383l0.5 -0.2M617 2179l0.4 -0.3M790 2314l0.3 -0.3M608 2398l0.4 -0.2M698 2397h.1M710 2329l0.3 -0.1M584 2353l0.4 -0.3M690 2198l0.4 -0.3M684 2313l0.4 -0.0M845 2340l0.5 -0.1M856 2340l0.4 -0.0M666 2186l0.4 -0.4M852 2255l0.5 -0.2M869 2317l0.4 -0.1M811 2294l0.4 -0.1M606 2268l0.4 -0.3M767 2169l0.3 -0.2M666 2349l0.5 -0.1M611 2144l0.4 -0.2M613 2254l0.4 -0.2M634 2278l0.3 -0.3M630 2254l0.3 -0.1M856 2358l0.4 -0.1M800 2256l0.4 -0.1M729 2350l0.4 -0.3M608 2234l0.2 -0.2M584 2260l0.4 -0.2M644 2317h.1M662 2311l0.4 -0.2M737 2295l0.3 -0.3M686 2250l0.3 -0.1M579 2310l0.3 -0.1M648 2215l0.3 -0.3M849 2250l0.4 -0.2M573 2303l0.5 -0.1M675 2241l0.4 -0.2M747 2272l0.4 -0.3M849 2219l0.4 -0.0M819 2362l0.5 -0.1M625 2144l0.4 -0.1M590 2280l0.4 -0.3M838 2263l0.3 -0.1M619 2295l0.5 -0.1M811 2383h.1M730 2191h.1M729 2271l0.3 -0.2M609 2167l0.3 -0.1M841 2214h.1M840 2289l0.4 -0.2M537 2377l0.5 -0.1M878 2188h.1M778 2152l0.3 -0.3M848 2177h.1M751 2336l0.3 -0.3M741 2372l0.3 -0.2M598 2395l0.3 -0.3M763 2169l0.4 -0.1M549 2196l0.5 -0.1M577 2241l0.4 -0.3M579 2217h.1M833 2324l0.4 -0.4M634 2172l0.4 -0.3M568 2222l0.3 -0.1M559 2177h.1M882 2226h.1M826 2155h.1M590 2154l0.3 -0.1M722 2369l0.5 -0.1M833 2236l0.5 -0.2M814 2243l0.2 -0.2M718 2215l0.5 -0.0M651 2308l0.5 -0.1M671 2192l0.4 -0.0M653 2151h.1M667 2381l0.3 -0.2M731 2211l0.4 -0.4M701 2280l0.5 -0.1M586 2283l0.4 -0.1M631 2169l0.3 -0.2M615 2230l0.3 -0.3M786 2153l0.3 -0.3M704 2292l0.3 -0.1M831 2178l0.4 -0.4M808 2229l0.4 -0.1M580 2316h.1M784 2401l0.5 -0.2M625 2325l0.4 -0.1M864 2280l0.4 -0.3M777 2173l0.4 -0.0M637 2244h.1M601 2171h.1M664 2308l0.4 -0.0M712 2276h.1M716 2337l0.3 -0.3M793 2227h.1M573 2176l0.3 -0.1M660 2250l0.4 -0.2M779 2166l0.3 -0.3M611 2335h.1M832 2210l0.4 -0.1M730 2285h.1M625 2270h.1M556 2386l0.3 -0.2M621 2378l0.5 -0.2M847 2248h.1M594 2216l0.3 -0.1M859 2155l0.3 -0.0M628 2210l0.3 -0.1M661 2398h.1M689 2381h.1M763 2142l0.4 -0.3M660 2228l0.4 -0.4M601 2202l0.4 -0.2M612 2373l0.4 -0.3M732 2257h.1M638 2305l0.4 -0.2M658 2147l0.3 -0.2M593 2352l0.3 -0.0M776 2322l0.3 -0.3M686 2302l0.4 -0.2M544 2306l0.3 -0.2M827 2302l0.4 -0.3M718 2322l0.3 -0.2M809 2248l0.3 -0.2M575 2307l0.3 -0.3M761 2387l0.4 -0.3M545 2292l0.3 -0.3M852 2152l0.4 -0.1M773 2309l0.3 -0.1M824 2282l0.4 -0.3M773 2347h.1M611 2144l0.4 -0.0M784 2183l0.2 -0.2M577 2169l0.4 -0.3M847 2372h.1M701 2332l0.4 -0.2M637 2171l0.4 -0.3M750 2212l0.5 -0.2M554 2330l0.5 -0.3M537 2313l0.2 -0.2M600 2215l0.4 -0.2M662 2335l0.3 -0.1M760 2161l0.4 -0.1M646 2282l0.4 -0.2M870 2255h.1M819 2355h.1M800 2205l0.3 -0.2M586 2348h.1M613 2270l0.3 -0.2M682 2300l0.3 -0.3M866 2198h.1M561 2343l0.3 -0.3M615 2287l0.3 -0.3M629 2367l0.4 -0.2M756 2354l0.3 -0.2M660 2193h.1M769 2189l0.3 -0.2M558 2399l0.5 -0.1M831 2165l0.3 -0.2M680 2162l0.3 -0.2M557 2297h.1M813 2392l0.5 -0.2M851 2243l0.5 -0.2M547 2314l0.4 -0.3M706 2173l0.3 -0.3M619 2183l0.4 -0.0M861 2225h.1M876 2290l0.4 -0.4M787 2344l0.5 -0.0M614 2362l0.3 -0.0M860 2164h.1M646 2210l0.2 -0.2M746 2346l0.4 -0.0M839 2266l0.3 -0.1M882 2309l0.2 -0.2M788 2257l0.4 -0.0M752 2294l0.4 -0.3M815 2275l0.3 -0.2M650 2213l0.5 -0.3M660 2211h.1M730 2399l0.4 -0.1M882 2209l0.5 -0.1M679 2289h.1M654 2159l0.5 -0.3M609 2368l0.3 -0.1M694 2153l0.4 -0.1M743 2204l0.5 -0.1M848 2332l0.3 -0.2M545 2223h.1M568 2218l0.5 -0.2M815 2358h.1M845 2263h.1M736 2291l0.4 -0.1M630 2390l0.5 -0.3M596 2386l0.4 -0.1M609 2345h.1M704 2153l0.5 -0.2M811 2289l0.3 -0.1M574 2402l0.5 -0.1M835 2305l0.3 -0.2M566 2371h.1M550 2391l0.4 -0.2M806 2348l0.3 -0.2M854 2310l0.4 -0.4M668 2253l0.5 -0.1M675 2275l0.3 -0.3M775 2308l0.4 -0.2M706 2339l0.5 -0.2M544 2378l0.4 -0.1M622 2221l0.5 -0.1M790 2270l0.5 -0.1M660 2164l0.4 -0.1M785 2264l0.4 -0.2M645 2247l0.4 -0.2M736 2394l0.4 -0.0M756 2225l0.3 -0.1M579 2215l0.3 -0.2M599 2191l0.3 -0.3M797 2240l0.4 -0.3M647 2183l0.4 -0.2M792 2375l0.4 -0.3M780 2208l0.3 -0.2M695 2170l0.5 -0.1M636 2174l0.3 -0.0M709 2317l0.4 -0.2M718 2339l0.4 -0.1M835 2345l0.3 -0.3M684 2308l0.4 -0.0M746 2322l0.4 -0.1M804 2360l0.5 -0.1M696 2348l0.3 -0.3M693 2362h.1M691 2364l0.3 -0.2M581 2389h.1M555 2399l0.5 -0.2M797 2166l0.4 -0.1M639 2211l0.5 -0.1M687 2201h.1M595 2277h.1M789 2230l0.4 -0.2M557 2154l0.3 -0.3M541 2396l0.5 -0.2M780 2202h.1M848 2144l0.5 -0.1M867 2147l0.5 -0.0M605 2159l0.3 -0.1M805 2198l0.5 -0.2M674 2239l0.3 -0.1M740 2354h.1M741 2175l0.3 -0.3M558 2318h.1M690 2271l0.5 -0.1M576 2205l0.4 -0.3M855 2393l0.5 -0.2M652 2251l0.4 -0.2M847 2348l0.4 -0.1M649 2326l0.4 -0.0M637 2175l0.4 -0.1M854 2239l0.4 -0.1M871 2369l0.4 -0.4M724 2381l0.4 -0.2M681 2272h.1M591 2143l0.3 -0.2M685 2177l0.3 -0.3M666 2268l0.4 -0.3M657 2339h.1M810 2266l0.3 -0.1M724 2399l0.4 -0.1M710 2260l0.4 -0.3M787 2150l0.4 -0.2M630 2193h.1M714 2146h.1M804 2341h.1M697 2380l0.5 -0.1M705 2240h.1M571 2247l0.3 -0.1M659 2328l0.4 -0.4M825 2169h.1M717 2279l0.3 -0.2M673 2258l0.5 -0.0M873 2244l0.3 -0.2M678 2288l0.3 -0.2M849 2301l0.4 -0.3M878 2235l0.4 -0.1M810 2356l0.4 -0.3M855 2401l0.3 -0.0M722 2212l0.4 -0.1M722 2310l0.3 -0.0M571 2325h.1M791 2209l0.4 -0.2M641 2322h.1M537 2378l0.5 -0.0M791 2276h.1M727 2225l0.4 -0.4M819 2203l0.3 -0.2M776 2142l0.2 -0.3M548 2382l0.3 -0.1M538 2161h.1M798 2280l0.4 -0.3M584 2367l0.4 -0.0M574 2259h.1M768 2353h.1M775 2271h.1M579 2203h.1M730 2273h.1M639 2398l0.5 -0.1M799 2383l0.5 -0.2M613 2387h.1" stroke="#383e7c" stroke-width="2.8" stroke-linecap="round" stroke-opacity="0.85" fill="none" filter="url(#softn)"/>
<path d="M565,2297 Q582,2288 600,2283 L602,2287 Q586,2294 567,2301 Z" fill="#f2efe8"/>
<circle cx="748.5" cy="2342.5" r="4.5" fill="#8a4a1c" opacity="0.85" filter="url(#softb)"/>
<circle cx="635" cy="2323" r="4" fill="#9a5a26" opacity="0.6" filter="url(#softb)"/>
</g>
<line x1="823.4" y1="2390.4" x2="871.0" y2="2390.4" stroke="#000" stroke-width="3" stroke-linecap="butt"/>
<g clip-path="url(#clip17)">
<rect x="891.0" y="2140.3" width="348.3" height="262.0" fill="#a7aab6"/>
<rect x="891.0" y="2140.3" width="348.3" height="262.0" fill="#000" filter="url(#nz18)"/>
<rect x="891.0" y="2140.3" width="348.3" height="262.0" fill="#000" filter="url(#nz19)"/>
<path d="M1250 2316q5 6 12 10M1250 2316q7 -5 15 -5M1252 2336q-6 -8 -16 -11M1250 2316q-0 -0 -0 -0M1253 2387q-2 8 2 16M1253 2387q7 -6 16 -4M1228 2319q4 2 6 6M1236 2325q-1 -1 -2 0M1228 2319q11 -8 16 -21M1249 2312q-4 -6 -5 -13M908 2287q0 0 0 0M931 2277q-0 -0 -0 -0M931 2277q-1 4 -4 5M908 2287q10 2 18 -5M1028 2361q-1 -7 -6 -12M1029 2346q1 5 6 8M1029 2346q-2 0 -4 -1M1022 2349q0 -3 3 -4M954 2270q2 -2 4 -3M978 2263q-3 -2 -6 0M978 2263q5 7 6 15M958 2267q7 -1 15 -3M973 2292q-2 -0 -4 -0M984 2278q3 2 6 1M999 2292q-5 -7 -9 -13M999 2292q-5 8 -9 16M973 2292q3 6 7 12M979 2303q2 2 3 4M990 2309q-4 -0 -8 -2M1235 2417q-1 -0 -2 0M1251 2277q1 0 1 0M1241 2291q2 2 4 3M1246 2294q6 -2 9 -8M1249 2295q-1 -1 -3 -1M1249 2295q4 -8 14 -7M1256 2286q3 2 6 1M1256 2353q-1 -3 1 -6M1257 2348q6 -2 12 0M1256 2353q-2 2 -3 5M1253 2358q-0 5 4 7M1257 2365q-1 2 -1 4M1243 2372q8 3 13 -3M1243 2372q0 1 -0 3M1242 2374q5 6 10 11M1253 2387q-0 -0 -0 -1M1253 2386q-8 5 -16 3M1253 2403q-13 -1 -17 -14M1235 2417q3 -8 12 -11M1253 2403q-4 -1 -7 3M1230 2414q-0 -9 4 -16M1172 2344q3 -0 4 -3M1184 2338q6 9 17 10M1177 2360q1 1 3 2M1181 2362q13 -1 20 -12M1202 2350q0 -1 -1 -2M1250 2310q5 -5 4 -12M1250 2310q2 -7 9 -9M1254 2298q2 3 5 2M1244 2298q1 -2 1 -5M1137 2298q-2 1 -4 1M1137 2298q9 1 12 10M1133 2299q0 2 -2 4M1149 2308q-2 5 -4 10M1132 2303q3 10 13 15M1224 2412q2 3 6 3M1224 2412q-2 1 -3 1M1133 2364q5 -0 9 1M1133 2364q-2 5 -6 5M1142 2365q-1 9 -2 17M1127 2369q2 7 8 13M1140 2382q-3 1 -5 -1M876 2264q-5 9 -11 18M876 2264q-10 2 -20 2M971 2242q-1 -1 -2 -0M972 2264q-2 -11 -11 -17M958 2267q-3 -9 -0 -19M957 2248q2 -1 4 -1M1073 2367q-0 2 -2 3M1071 2370q3 5 8 5M1079 2375q6 1 11 -4M1080 2365q6 5 12 1M1073 2390q2 -8 6 -15M1091 2382q1 -5 -0 -11M1017 2400q-7 7 -4 17M1017 2400q2 5 8 6M1024 2405q-3 5 1 10M1025 2416q-0 0 -1 1M1024 2416q-6 -0 -12 0M1024 2416q2 6 1 12M934 2408q-1 -2 -3 -3M931 2405q-4 3 -9 1M923 2406q-2 4 -5 5M955 2422q-3 -1 -5 1M881 2362q14 0 27 3M881 2362q2 -6 7 -8M889 2354q8 -3 16 2M908 2365q-3 -4 -4 -9M880 2362q-5 -7 -8 -15M887 2346q-7 -3 -14 1M876 2377q0 -0 0 -0M876 2377q-1 -7 3 -13M910 2142q1 -12 12 -17M905 2141q-4 -4 -6 -10M903 2121q7 3 13 -2M902 2121q-4 4 -3 10M876 2264q1 -1 2 -1M936 2178q-7 -3 -14 -3M921 2175q-3 2 -7 1M929 2194q2 1 3 1M929 2194q-3 -13 -16 -15M932 2195q-1 -8 5 -13M912 2179q0 -2 2 -3M899 2131q-10 -3 -17 5M882 2136q-1 -1 -1 -2M879 2125q-1 5 2 9M1203 2127q-1 -1 -2 -1M1201 2126q-10 5 -21 1M1188 2144q0 0 0 0M1179 2129q0 -1 1 -2M1051 2190q-5 -1 -7 -6M1051 2190q-1 6 -4 13M1044 2184q-8 3 -13 11M1031 2195q1 4 3 7M1111 2268q-7 -2 -12 -7M1111 2268q-0 0 -0 0M1081 2279q-2 -5 -2 -10M1081 2279q2 4 3 8M1080 2262q2 4 -1 7M1090 2260q5 -2 9 1M1077 2316q-3 -16 10 -25M1066 2309q1 -7 -1 -14M1087 2291q-2 -1 -3 -4M1062 2274q8 -5 17 -6M1062 2274q-0 -0 -1 -0M1062 2274q5 -6 4 -13M1065 2261q5 -1 9 -5M1004 2292q9 -8 19 -13M1018 2307q7 -13 6 -28M1024 2280q-0 -1 -1 -1M971 2242q3 -2 6 -4M988 2255q-7 1 -10 8M987 2242q-4 -5 -10 -4M1084 2200q-4 -6 -6 -12M1093 2201q3 -10 10 -18M1079 2185q-0 2 -2 3M1079 2185q10 0 15 -8M1103 2183q-3 -5 -8 -6M1094 2177q1 0 1 0M1105 2212q6 5 13 7M1105 2212q5 -3 9 -8M1118 2219q0 -0 1 -0M1118 2219q-2 -6 2 -12M1120 2207q-4 0 -7 -3M1033 2345q3 -9 12 -11M1042 2348q5 -4 9 -9M1029 2346q2 1 4 -1M1025 2345q-2 -2 -0 -4M1025 2341q3 -4 4 -8M1029 2333q8 1 14 -2M1054 2343q-3 -1 -3 -4M1054 2343q7 1 13 2M1062 2331q4 7 6 15M1062 2331q-4 5 -11 8M1043 2363q1 -3 1 -6M1043 2363q0 1 0 2M1043 2364q2 1 3 4M1044 2357q7 -2 9 -9M1054 2368q1 -2 2 -4M1054 2348q4 5 6 11M1035 2354q2 7 8 9M1042 2348q2 4 2 8M1028 2361q0 1 1 2M1029 2363q8 -3 15 2M1029 2363q-1 1 -2 2M1034 2376q0 -0 1 -0M1034 2376q-2 -2 -5 -2M1027 2364q-2 5 2 10M1035 2376q4 -5 11 -8M1054 2343q-0 2 -0 4M1063 2374q3 -4 8 -4M1072 2363q-7 5 -16 1M1071 2353q0 5 1 10M1071 2353q-7 1 -11 6M1025 2341q-7 -4 -13 -10M1018 2319q4 1 8 4M1018 2319q0 6 -5 9M1029 2333q2 -6 -3 -11M1013 2328q-0 2 -1 3M1026 2322q3 -1 6 -2M1043 2331q-0 -1 0 -2M1043 2328q0 1 1 1M962 2349q0 -9 -4 -16M944 2343q1 -9 10 -12M954 2330q2 2 5 3M923 2406q-7 -5 -10 -14M912 2392q6 -6 8 -14M934 2393q-11 -4 -14 -16M931 2340q-15 9 -18 26M914 2367q3 3 7 6M932 2341q0 15 1 29M932 2370q-6 1 -12 3M979 2303q-5 5 -12 5M969 2291q-5 5 -10 10M967 2308q-6 -1 -8 -7M1018 2319q1 -5 -3 -8M1015 2311q-10 -2 -20 3M1013 2328q-3 -7 -11 -7M995 2314q6 2 7 8M999 2292q2 2 5 0M1015 2311q0 -0 1 -1M990 2309q2 3 5 5M1012 2331q-2 0 -3 2M1002 2321q1 7 7 12M1258 2165q-3 -2 -6 -1M1251 2153q-2 4 -1 8M1250 2161q1 2 2 3M1207 2138q3 2 4 6M1207 2138q-1 -6 3 -10M1222 2138q-6 1 -11 6M1222 2138q-0 -1 -1 -1M1221 2137q-3 -8 -11 -9M1203 2127q3 2 7 0M1258 2199q1 -1 2 -0M1258 2199q-4 -5 -10 -4M1249 2195q-2 -3 -0 -7M1181 2362q6 7 13 12M1207 2357q-4 -2 -5 -7M1207 2357q-2 4 -5 7M1202 2364q-6 3 -8 10M1177 2360q-6 9 -7 20M1179 2362q0 10 -3 20M1172 2384q0 0 0 0M1172 2384q2 -1 4 -2M1194 2374q1 2 0 3M1176 2382q8 -4 18 -3M1174 2312q-9 -6 -18 -1M1170 2317q-2 3 -6 2M1165 2320q-3 -5 -8 -6M1157 2314q-1 -1 -1 -2M1192 2319q-0 0 0 0M1178 2309q-1 2 -3 4M1176 2341q-3 -12 -6 -24M1147 2327q-1 -0 -2 -1M1145 2318q-0 4 -0 8M1252 2336q-0 4 1 8M1253 2344q1 3 4 4M1248 2359q2 -0 5 -1M1248 2359q-2 -5 -4 -10M1252 2358q-3 -5 -6 -10M1244 2349q1 -0 3 -1M1243 2372q-2 -1 -2 -3M1241 2368q-1 -2 0 -3M1241 2365q3 -3 7 -6M1253 2344q-4 2 -7 5M1242 2374q-5 4 -9 9M1236 2389q-0 0 -0 -0M1233 2384q0 4 3 6M1234 2398q-0 -1 -1 -1M1236 2389q-0 4 -3 8M1221 2367q10 3 20 1M1244 2349q-4 -1 -8 0M1236 2350q-2 2 -1 4M1207 2338q-2 3 -4 6M1207 2338q10 -3 19 2M1204 2344q10 1 20 -0M1227 2340q-3 1 -3 4M1207 2329q-1 4 0 9M1207 2329q-8 -4 -15 -9M1201 2348q2 -2 3 -4M1207 2357q4 0 7 2M1214 2359q6 -7 9 -15M1219 2363q-3 -1 -5 -4M1092 2316q7 0 13 2M1092 2316q2 -10 3 -20M1105 2319q-2 -10 -1 -20M1098 2296q-1 1 -2 0M1098 2296q2 -1 4 1M1101 2297q2 0 2 2M1110 2268q-0 17 -13 28M1087 2291q5 2 9 5M1084 2287q0 0 -0 0M1077 2316q1 4 4 6M1092 2316q-6 1 -11 6M1082 2322q-0 -0 -1 -0M1018 2307q9 3 18 -1M1024 2280q6 4 14 4M1031 2320q7 -3 8 -11M1036 2306q2 2 3 3M1043 2328q1 -9 -3 -18M1064 2294q5 -7 0 -14M1064 2280q-0 -0 -0 -0M1064 2280q-10 6 -21 4M1042 2284q9 1 12 9M1081 2279q-8 4 -17 1M1065 2295q-1 -0 -2 -1M1062 2274q1 3 2 6M1038 2283q1 -1 3 -1M1041 2283q1 0 2 1M1047 2310q-4 1 -7 -0M1079 2421q-0 4 -4 5M1101 2408q0 7 -5 12M1101 2408q-6 2 -12 1M1096 2421q-4 -4 -7 -8M1089 2409q0 2 -0 4M1079 2414q5 -1 10 -1M1204 2408q-0 -2 2 -3M1221 2397q1 1 2 2M1221 2397q-6 8 -15 7M1206 2404q0 1 -0 2M1213 2383q-4 10 -15 13M1194 2379q2 7 -0 14M1149 2362q-1 -6 -5 -11M1149 2362q12 -6 20 -18M1169 2344q-14 -5 -24 7M1149 2362q-3 2 -7 3M1149 2362q0 -0 0 -0M1133 2364q-3 -3 -2 -7M1131 2356q7 -3 13 -7M1142 2346q1 1 2 3M1142 2346q4 -8 6 -17M1144 2349q8 -7 18 -11M1149 2329q4 1 7 2M1156 2331q3 3 5 6M1131 2356q-5 -5 -9 -11M1122 2346q3 -2 3 -5M1125 2341q7 9 17 5M1125 2338q9 -5 16 -12M1125 2338q-0 1 -0 3M1147 2327q1 1 2 2M1169 2344q-2 -5 -7 -6M1172 2344q-1 -1 -3 -1M912 2254q-5 4 -11 8M912 2254q1 3 4 4M916 2258q-3 5 -4 10M901 2263q5 2 9 5M912 2268q-1 1 -2 -0M929 2259q-5 10 2 18M929 2259q-6 -3 -13 -0M913 2270q0 -1 -1 -2M902 2273q-1 -5 -0 -9M908 2287q-1 0 -1 -0M907 2286q-4 -7 -11 -6M902 2273q-1 5 -6 7M916 2239q3 -3 7 -3M916 2239q-10 -5 -14 -16M902 2224q9 2 14 -5M918 2221q-1 -1 -1 -2M916 2218q1 0 1 0M936 2203q0 -1 -0 -3M936 2203q-6 6 -12 11M929 2194q-3 4 -8 4M914 2210q1 -7 7 -12M914 2210q1 4 2 9M924 2214q-3 3 -7 5M932 2195q1 4 4 6M911 2252q1 1 1 2M929 2258q-1 -8 2 -15M931 2244q-2 -1 -2 -2M911 2252q-1 -3 -3 -5M923 2237q4 -0 7 4M930 2241q0 -0 -0 -1M929 2241q7 -6 8 -14M924 2214q9 6 19 10M936 2201q8 2 13 -5M937 2181q6 -5 12 -1M954 2184q-0 1 0 2M954 2186q-5 4 -5 10M913 2208q1 -6 -1 -12M913 2208q-7 -7 -17 -12M896 2197q-0 -4 1 -8M914 2210q-0 -1 -1 -1M902 2183q4 -5 10 -3M902 2183q-1 2 -3 4M1000 2394q-6 -2 -12 0M1000 2394q5 2 4 8M989 2394q4 5 6 11M995 2405q5 2 8 -1M1004 2404q1 -1 1 -2M1002 2392q-2 -4 -3 -8M1002 2392q4 -1 9 -2M1011 2390q2 -3 1 -7M1014 2398q-1 -4 -3 -8M1014 2398q-4 4 -9 4M1000 2394q0 -2 2 -3M934 2408q9 -8 21 -10M1105 2376q7 -2 14 1M1119 2377q-0 -5 2 -8M1121 2369q-1 -0 -1 -1M1091 2382q6 4 12 7M1092 2366q-0 0 -0 0M1092 2366q1 -1 3 -1M1106 2388q-2 -0 -3 0M1104 2374q-3 -6 -9 -9M1119 2377q1 4 0 8M1106 2388q5 -0 7 4M1112 2392q5 -1 6 -6M1121 2369q3 -1 6 -0M1134 2382q-4 2 -7 4M1119 2386q4 -0 9 0M1089 2383q-2 6 2 10M1081 2399q2 1 4 1M1091 2394q-3 3 -7 6M1102 2407q-0 1 -1 2M1089 2409q-2 -3 -2 -7M1096 2402q-4 -3 -9 -1M1079 2404q-1 3 -2 6M1079 2404q2 -2 2 -5M1078 2410q-0 3 2 4M1000 2353q-2 2 -4 2M1000 2353q4 0 8 1M1008 2353q-9 7 -7 18M996 2355q2 8 -4 14M993 2369q4 2 8 3M1008 2417q1 1 1 1M1008 2417q-6 -2 -12 -1M1013 2417q-2 -0 -3 1M1017 2400q-0 -0 -0 -0M1004 2404q3 6 5 13M1017 2399q-1 -0 -1 -1M1024 2405q5 -7 14 -7M1038 2398q7 4 9 12M1047 2415q1 -2 0 -4M1070 2411q1 -3 -1 -6M1068 2412q-5 -4 -4 -11M1069 2405q-1 -4 -4 -5M1065 2400q-0 1 -1 1M1079 2404q-5 2 -10 2M1078 2410q-3 3 -8 1M1062 2418q3 -3 6 -6M1048 2417q-0 0 -0 -0M1073 2390q-2 -1 -3 -0M1070 2390q-4 4 -5 10M901 2411q2 2 5 1M912 2392q-5 -0 -9 1M903 2393q2 9 -2 18M901 2411q-0 -0 -0 -0M888 2334q-0 4 2 6M888 2334q8 -1 15 -5M898 2342q2 -4 5 -6M903 2337q-0 -2 1 -5M903 2328q0 2 1 3M887 2346q1 -3 3 -6M884 2330q-5 4 -10 8M884 2330q3 1 4 4M873 2347q-1 -4 1 -9M884 2330q-6 -7 -2 -15M882 2315q10 6 22 7M904 2322q-2 3 -2 6M905 2356q-0 -1 0 -1M905 2354q-1 -8 -7 -12M905 2354q7 -3 8 -11M912 2343q-5 -3 -9 -7M871 2348q-4 3 -9 7M872 2347q-0 0 -1 0M880 2362q-0 1 -0 1M880 2363q-1 0 -1 1M1044 2184q-4 -4 -4 -10M1031 2195q-3 -1 -6 -4M1033 2169q5 1 7 5M1025 2191q-0 -6 -1 -12M921 2175q6 -4 10 -11M915 2174q0 1 -0 2M915 2174q6 -6 8 -14M909 2159q0 9 6 15M909 2159q2 -6 9 -6M918 2153q0 0 0 0M918 2153q1 1 3 3M923 2160q-2 -2 -2 -4M918 2153q3 -9 13 -9M921 2155q6 -5 14 -4M931 2143q3 3 4 8M935 2151q7 0 10 6M945 2128q-9 5 -19 1M945 2128q-1 -3 1 -6M922 2124q1 3 4 4M978 2167q1 6 -3 10M978 2167q-7 -1 -13 2M965 2169q3 7 10 9M896 2280q0 0 0 0M901 2262q-2 -1 -4 -1M873 2210q-8 4 -11 12M873 2209q-2 -8 -3 -15M910 2142q4 1 6 4M915 2146q2 3 2 7M903 2143q2 8 1 15M1048 2204q-0 4 1 7M1048 2204q8 3 16 -1M1049 2211q11 -2 19 6M1064 2203q5 4 9 8M1073 2211q-2 2 -2 5M1068 2217q2 -0 3 -0M1060 2188q-4 2 -9 2M1060 2188q7 6 4 15M1047 2203q0 1 1 1M1060 2188q3 -0 4 -3M1084 2200q-4 7 -11 11M952 2277q-2 -0 -3 2M959 2301q-1 2 -4 3M955 2304q-3 -10 -8 -20M948 2279q1 3 -1 5M936 2308q4 -1 7 -2M936 2308q-3 -8 -11 -10M943 2306q-0 -4 -2 -7M942 2299q-3 -3 -7 -4M935 2295q-4 1 -8 1M925 2298q2 -1 2 -3M937 2278q6 1 11 0M937 2278q4 9 -2 16M947 2284q2 9 -6 15M931 2277q4 -1 6 2M926 2282q1 7 1 13M990 2279q6 -11 18 -10M1023 2279q-0 -0 -0 -1M1023 2278q-8 -3 -15 -9M988 2255q5 3 10 1M999 2256q2 3 4 4M1003 2260q2 3 4 6M1008 2269q-1 -1 -1 -3M1055 2226q7 -5 14 -9M1045 2216q0 -3 3 -5M1045 2220q4 2 5 6M1014 2201q1 2 3 2M1014 2201q1 -3 3 -5M1017 2196q5 -1 8 -5M1030 2207q-7 -0 -14 -5M1108 2234q-0 1 -1 1M1108 2234q7 -6 10 -15M1107 2235q-1 -0 -1 -0M1105 2212q-2 -1 -4 -1M1101 2211q10 10 5 24M1094 2202q-0 2 2 3M1096 2206q0 4 4 5M1111 2198q-0 3 2 6M1101 2211q-0 -0 -0 -0M1168 2224q-9 1 -18 1M1168 2224q4 4 6 9M1166 2240q1 -6 7 -8M1166 2240q-6 -11 -19 -12M1147 2228q2 -2 3 -4M1168 2195q-5 -0 -8 3M1168 2195q4 3 8 4M1176 2199q-0 3 2 6M1153 2211q7 -5 7 -13M1150 2213q-1 6 -0 11M1150 2213q1 -2 3 -2M1168 2224q3 -7 6 -14M1150 2213q-1 -2 -3 -3M1145 2195q-0 3 -0 6M1147 2211q2 -6 -2 -10M1177 2234q-2 -2 -4 -1M1177 2234q10 -11 7 -25M1184 2209q-2 -3 -6 -4M1159 2174q-7 5 -12 11M1145 2195q-1 -1 -1 -2M1146 2186q-0 4 -2 8M1087 2128q5 -5 5 -12M1085 2142q-5 -4 -5 -11M1085 2142q4 -0 7 1M1092 2143q3 -0 5 -3M1087 2128q-3 1 -6 2M1173 2164q3 -13 15 -20M1179 2129q-8 7 -19 4M1160 2134q1 2 -0 4M1173 2164q7 5 13 10M1187 2174q-2 5 2 9M1189 2182q-3 11 -13 17M1160 2169q-2 2 -1 4M1159 2173q-0 1 -0 1M1166 2164q-3 1 -4 3M1160 2137q-7 4 -11 11M1162 2167q-8 -7 -15 -15M1147 2152q2 -1 1 -3M1146 2129q4 2 8 1M1155 2130q-1 -8 4 -15M1134 2124q3 4 8 3M1160 2134q-3 -1 -5 -4M1140 2145q5 -0 9 3M1132 2206q0 0 1 1M1132 2206q-2 8 -7 15M1125 2221q1 0 1 1M1127 2200q3 2 5 5M1147 2211q-6 -1 -12 -1M1145 2201q-5 5 -13 5M1146 2229q-1 -11 -11 -15M1146 2229q0 -0 1 -0M1137 2234q-3 -9 -11 -13M1108 2234q14 -1 28 1M1136 2235q1 -1 1 -1M1256 2259q-1 0 -3 1M1253 2267q-1 0 -1 0M1253 2249q-4 7 -12 7M1244 2262q0 -4 -3 -6M1238 2278q-3 -11 -14 -12M1224 2265q0 -0 0 -0M1235 2288q1 -5 3 -10M1244 2270q-0 0 -0 0M1235 2288q-1 1 -2 0M1192 2319q14 -3 17 -17M1210 2303q5 2 10 4M1019 2367q2 4 3 8M1019 2367q-2 -1 -3 -2M1016 2365q-0 0 -1 0M1015 2366q-3 8 1 16M1022 2375q-3 3 -4 7M1018 2381q-1 1 -2 0M1027 2364q-4 1 -8 2M1029 2374q-3 1 -7 1M1012 2352q1 -0 2 0M1012 2352q-2 -0 -4 1M1003 2373q4 -8 12 -8M1003 2373q-1 -1 -2 -2M1003 2373q0 2 1 4M1012 2383q2 1 4 -1M1058 2314q-3 -2 -8 -1M1051 2312q-2 7 -4 14M1058 2323q-5 3 -12 3M1066 2309q-3 4 -8 5M1047 2310q1 2 4 3M1062 2330q6 3 12 -2M1062 2330q-1 -4 -4 -7M1074 2328q2 -5 7 -7M1044 2329q1 -2 3 -3M1062 2331q0 -0 0 -1M935 2345q-0 10 5 18M935 2345q9 4 10 13M941 2364q3 -0 4 -3M945 2358q1 1 -0 2M936 2370q1 -4 4 -7M950 2347q-2 6 -5 12M944 2343q-5 -2 -10 -1M943 2306q3 1 6 3M967 2308q-2 1 -3 2M995 2314q-1 4 -2 8M1008 2333q-1 1 -2 1M1012 2352q-8 -6 -7 -16M954 2330q-1 -2 -2 -5M952 2326q6 -2 11 -1M963 2325q1 4 -2 7M948 2321q3 1 3 5M950 2315q7 8 16 5M963 2325q1 -3 4 -5M969 2354q-5 -1 -7 -5M969 2354q1 -5 6 -7M976 2348q-1 -9 -9 -16M961 2331q3 -0 6 0M965 2311q3 4 4 9M982 2307q-8 4 -10 13M969 2319q2 1 3 0M1240 2172q-3 5 1 10M1241 2182q-0 -0 -1 -0M1241 2182q4 -5 9 -9M1250 2173q-1 -3 0 -7M1237 2160q6 -1 13 1M1237 2160q-2 2 -5 4M1233 2163q6 2 7 8M1226 2164q3 11 -3 21M1226 2164q3 -0 6 -1M1223 2185q8 -5 17 -4M1216 2151q-0 -5 -5 -7M1211 2144q-6 5 -12 9M1200 2155q-1 -1 -1 -2M1190 2144q4 4 9 9M1187 2174q0 -0 0 -0M1200 2158q-11 4 -14 16M1200 2158q-1 -1 -0 -2M1200 2158q6 0 9 6M1187 2174q5 -5 12 -2M1199 2171q6 -2 10 -7M1222 2160q-7 -0 -12 5M1222 2160q1 -3 -1 -5M1221 2154q-2 -3 -5 -3M1210 2164q-0 -0 -1 -0M1227 2121q-6 3 -13 3M1227 2121q0 4 -3 7M1224 2128q-6 -0 -10 -4M1225 2128q-1 5 -3 9M1225 2128q-0 -0 -0 -0M1212 2123q1 -0 3 0M1221 2396q-6 -4 -7 -10M1215 2381q-0 1 -2 2M1220 2376q4 7 12 7M1214 2386q-0 -2 -1 -4M1233 2384q-1 -0 -2 -0M1204 2400q-0 2 2 4M1202 2364q3 11 13 17M1213 2383q0 0 0 0M1134 2282q1 -1 2 -2M1136 2279q-8 -8 -9 -19M1128 2281q-6 -4 -12 -7M1113 2268q0 3 2 6M1126 2260q-1 -1 -2 -1M1124 2260q0 -0 1 -0M1131 2291q-1 2 -1 5M1111 2268q1 1 3 0M1099 2261q6 -12 4 -25M1106 2235q-2 1 -3 1M1116 2282q-3 12 -15 15M1136 2235q1 15 -11 24M1137 2298q6 -1 8 -7M1133 2299q-1 -2 -3 -3M1136 2279q3 3 7 1M1145 2292q-2 -5 -3 -11M1129 2306q-4 -1 -7 3M1138 2323q-6 -3 -7 -10M1138 2323q-6 -1 -12 -1M1126 2322q5 -3 5 -8M1142 2326q-1 -2 -4 -3M1125 2338q-4 -6 -8 -12M1118 2326q3 -4 8 -4M1111 2322q-2 -3 -6 -4M1082 2322q1 2 3 5M1097 2336q-6 -4 -12 -9M1086 2359q-7 0 -12 -6M1084 2346q-0 -0 -1 -0M1083 2345q-5 0 -10 2M1072 2352q1 1 3 2M1072 2348q0 -0 1 -1M1092 2366q-4 -3 -7 -7M1080 2365q-2 -6 -6 -12M1085 2326q-2 9 -2 19M1071 2353q0 -1 1 -1M1067 2346q2 3 5 2M1102 2407q5 -5 13 -3M1115 2403q4 1 5 4M1117 2418q2 -5 2 -10M1117 2418q-0 6 5 8M1115 2403q-4 -5 -2 -12M1128 2386q1 4 2 7M1130 2393q-3 8 -8 14M1192 2411q-4 1 -9 -0M1192 2411q0 -0 0 -0M1192 2411q2 -8 -4 -15M1184 2407q0 -5 2 -10M1184 2407q1 2 -0 4M1185 2397q1 -1 3 -0M1173 2415q3 7 4 14M1204 2408q-6 -1 -11 3M1172 2396q7 4 12 11M1172 2384q-3 6 -0 11M1172 2396q0 0 0 0M909 2308q2 -5 6 -5M907 2321q-0 -0 -0 -0M915 2303q-0 0 -0 -0M908 2287q2 9 7 16M893 2303q9 -1 16 4M928 2317q-1 -1 -2 -2M928 2317q6 -3 9 -9M941 2244q4 -2 8 -3M945 2260q-0 0 -0 -0M952 2245q-1 -3 -3 -4M929 2258q7 2 15 1M954 2270q-2 -8 -9 -10M957 2248q-2 -2 -5 -3M943 2224q2 -1 4 -2M949 2241q-1 -5 2 -9M951 2232q-0 -5 -4 -10M936 2203q6 8 12 16M967 2210q-0 0 -0 0M948 2220q-1 1 -1 3M993 2369q-1 1 -3 1M990 2369q-5 9 2 17M989 2394q-1 -0 -2 -1M987 2393q0 -0 -0 -0M956 2398q1 0 1 0M956 2420q4 -11 1 -21M966 2389q-4 -3 -3 -8M966 2376q-1 3 -4 5M980 2385q-0 -0 -0 -0M990 2369q-2 -1 -5 -0M969 2355q-5 10 -3 21M946 2378q5 -8 9 -16M947 2380q3 -0 5 -1M952 2379q11 -7 12 -21M965 2358q-6 -1 -10 4M921 2378q1 -3 0 -5M946 2385q2 -3 1 -6M945 2361q5 1 9 1M957 2398q4 -0 7 -2M963 2396q3 -3 2 -7M962 2380q-5 -3 -10 -2M969 2355q-2 1 -5 3M969 2354q-0 0 -0 1M1101 2357q6 1 11 -3M1101 2357q0 -7 -6 -11M1095 2342q8 -0 15 0M1112 2354q3 -2 4 -5M1116 2349q-4 -2 -5 -7M1095 2365q5 -2 6 -8M1084 2346q5 -2 11 0M1103 2333q6 3 7 9M1111 2322q1 -1 2 -0M1118 2326q-2 -3 -5 -4M1101 2390q0 7 -4 11M1101 2390q-3 3 -8 4M1102 2388q-1 0 -1 1M1096 2402q0 -1 0 -1M1091 2394q1 -1 2 -0M1035 2376q4 7 7 14M1038 2396q-2 -7 -9 -10M1023 2385q2 1 4 1M1029 2386q-1 0 -2 0M1055 2393q-5 -2 -6 -8M1048 2385q-0 0 -0 0M1067 2385q1 3 3 5M1047 2410q7 -7 8 -17M1042 2390q2 -4 6 -5M1038 2398q0 -1 -0 -2M1047 2369q-2 8 1 16M1063 2374q0 6 3 11M890 2406q-8 1 -17 2M896 2411q-6 7 -14 12M873 2409q7 6 8 15M874 2397q8 -0 16 2M901 2411q-2 -1 -5 -0M916 2341q-0 -5 -5 -7M916 2341q7 -5 15 -2M911 2334q3 -4 5 -8M931 2339q-1 -4 -0 -8M930 2331q-0 -0 -0 -0M912 2343q2 -0 3 -2M904 2332q4 0 7 2M904 2322q1 -0 2 -2M907 2321q5 2 9 6M948 2321q-12 -1 -18 10M928 2317q3 6 2 14M880 2363q6 2 10 8M890 2371q-3 7 -11 7M909 2365q-2 3 -4 4M904 2369q-6 -0 -11 5M890 2371q2 1 4 2M993 2140q1 -4 -2 -6M998 2126q3 7 5 15M998 2126q9 3 13 12M1004 2140q4 -1 8 -3M1006 2190q3 -4 1 -10M1006 2190q2 -3 6 -4M1012 2186q0 -1 1 -2M1007 2181q2 3 5 3M1004 2192q1 -1 2 -2M1004 2192q-3 -4 -7 -7M997 2185q-0 -1 0 -1M997 2183q2 -1 2 -4M1006 2180q-4 2 -7 -1M1006 2180q0 0 1 1M1014 2201q-5 -1 -8 3M1006 2204q-3 -5 -2 -12M1017 2196q-2 -5 -5 -10M1027 2169q-5 -0 -8 -5M1006 2180q4 -10 14 -16M995 2134q4 4 8 7M995 2134q-0 0 -0 0M993 2140q2 3 1 6M993 2146q1 2 3 3M948 2137q-7 8 -2 18M948 2137q12 1 17 12M950 2180q3 -7 3 -15M964 2168q2 5 -0 10M945 2157q0 0 0 -0M952 2165q-3 -5 -7 -7M931 2142q-1 -4 -4 -5M926 2136q-0 1 0 1M948 2134q0 0 0 0M931 2143q0 -1 -0 -2M945 2157q1 -1 1 -2M945 2128q0 4 4 7M925 2129q3 3 1 7M945 2121q2 -2 6 -2M983 2179q4 6 4 12M972 2183q1 6 -1 12M988 2192q-3 5 -4 11M983 2202q-4 -0 -9 0M972 2196q3 3 3 7M964 2168q1 -0 1 0M975 2177q1 1 0 2M985 2178q-1 1 -2 2M994 2208q-6 -1 -10 -6M994 2208q5 -1 10 -2M1003 2206q2 -1 3 -3M978 2227q-5 -1 -7 -6M994 2208q1 5 -1 9M967 2210q3 -5 8 -7M971 2221q-5 -5 -4 -11M877 2263q2 1 4 1M882 2264q2 -2 2 -4M884 2259q3 -9 -0 -17M884 2242q-5 -3 -11 -5M873 2237q0 -1 -0 -2M888 2211q-8 4 -15 -2M888 2211q5 -6 8 -14M897 2188q-2 0 -4 -1M893 2187q-9 4 -16 -2M902 2183q-5 -6 -6 -14M905 2158q-5 3 -11 4M897 2169q-4 6 -11 6M1222 2138q2 0 3 2M1225 2128q3 -0 5 2M1221 2154q5 -4 7 -11M1227 2121q3 -5 9 -6M1230 2129q2 -2 5 -2M1003 2260q8 -4 10 -13M1012 2247q3 3 7 3M1050 2226q-0 0 -0 0M1039 2260q4 -8 10 -13M1039 2260q8 3 9 12M1052 2265q-6 -8 -2 -18M1052 2265q-2 3 -2 6M1048 2272q1 -1 1 -1M1031 2259q8 -5 11 -15M1042 2245q4 2 7 3M1041 2283q4 -5 8 -11M1023 2278q9 -7 6 -18M1029 2260q1 -0 3 -1M1065 2261q-6 4 -13 4M1074 2255q1 -2 -1 -4M1072 2252q-12 4 -20 -5M1052 2247q-1 1 -2 1M1062 2274q-6 0 -12 -3M1095 2221q-4 -2 -8 1M1092 2237q4 -2 9 -1M1078 2233q-1 -2 -2 -3M1076 2230q-1 -2 -0 -3M1100 2211q-0 7 -6 10M1103 2236q-1 -1 -2 -0M1072 2217q-1 6 5 10M1090 2260q-4 -12 2 -23M1072 2252q2 -9 6 -19M1062 2234q6 -6 15 -4M1198 2239q-8 -4 -18 -5M1198 2239q1 -1 2 -2M1181 2234q3 -3 6 -6M1187 2228q7 4 13 10M1184 2209q2 2 5 2M1189 2211q-2 7 -1 15M1179 2234q1 0 2 -1M1187 2228q1 -1 1 -2M1189 2182q7 -0 12 4M1189 2211q1 0 1 -0M1233 2241q6 -6 15 -5M1233 2241q-4 -1 -5 -5M1249 2232q-1 1 -1 3M1249 2232q-11 4 -20 -5M1240 2204q-3 2 -7 2M1233 2206q-3 3 -4 7M1251 2227q4 -2 8 -5M1251 2227q-12 -1 -21 -10M1231 2217q1 -3 -2 -4M1256 2217q-0 4 3 5M1249 2195q-4 5 -9 9M1223 2185q-0 0 -0 0M1223 2185q5 10 10 21M1258 2199q-5 8 -2 17M1250 2239q-1 -2 -2 -4M1249 2232q1 -3 2 -5M1229 2228q-3 -6 1 -11M1132 2182q6 -3 11 1M1132 2182q-2 -5 2 -10M1143 2183q-2 -4 -5 -8M1134 2173q1 3 4 3M1127 2195q-6 0 -12 -2M1128 2194q-1 -4 0 -8M1115 2192q-4 -5 -7 -10M1127 2200q-2 -3 0 -5M1132 2182q-0 3 -4 4M1133 2171q-6 -7 -15 -4M1133 2171q-0 1 0 1M1118 2167q-3 3 -2 7M1105 2183q-1 -1 -3 0M1105 2183q1 -0 3 -0M1106 2140q-2 -13 6 -23M1101 2141q1 1 3 2M1147 2152q-3 1 -6 2M1141 2153q7 5 8 13M1140 2145q-1 1 -2 2M1138 2147q1 3 -1 5M1105 2145q-0 10 -8 14M1118 2165q1 -1 0 -2M1118 2165q-7 4 -15 0M1092 2143q-2 8 -9 13M1104 2143q0 0 0 0M1085 2160q6 2 12 -1M1104 2143q-0 1 0 2M1094 2177q-1 -10 -11 -14M1095 2177q5 -5 5 -12M1105 2183q-5 -8 -3 -18M1218 2250q-7 5 -7 13M1218 2250q-0 -7 -7 -10M1211 2240q-1 3 -2 6M1209 2246q-1 8 -2 15M1222 2251q7 -2 11 -7M1233 2244q4 4 5 11M1241 2256q-1 0 -2 -1M1224 2265q0 -1 1 -2M1233 2241q-1 2 -0 3M1224 2265q-3 0 -5 3M1218 2250q2 0 4 2M1211 2263q2 4 6 6M1217 2268q1 0 3 0M1196 2273q7 2 8 10M1196 2273q1 -7 -4 -12M1192 2261q8 1 16 -0M1217 2268q-4 10 -13 15M993 2321q-1 3 -3 6M972 2320q0 0 0 0M990 2327q-9 -4 -18 -7M972 2320q-0 1 0 2M1209 2170q-4 -0 -6 3M1203 2173q-4 7 -0 14M1203 2187q2 3 6 2M1199 2171q3 -1 5 1M1210 2164q1 3 -0 5M1226 2164q-3 -2 -5 -4M1223 2185q-4 -1 -8 1M1200 2187q1 1 3 0M1207 2214q6 -12 2 -25M1140 2382q1 1 3 2M1142 2384q4 -2 7 -5M1175 2358q-4 9 -14 10M1153 2366q4 -1 7 3M1169 2380q-4 -2 -6 -6M1161 2368q1 3 2 6M1115 2316q-10 -6 -10 -17M1113 2322q2 -2 3 -6M1104 2299q1 1 2 1M1113 2299q-2 0 -4 1M1142 2384q2 2 2 5M1144 2389q0 5 -4 7M1168 2400q-0 0 -0 0M1168 2400q-8 -3 -13 -9M1150 2392q-2 4 0 8M1156 2411q5 -4 11 -4M1169 2410q-4 8 -9 15M1169 2410q-0 -2 -2 -3M1168 2401q-0 3 -1 7M1150 2400q0 4 -3 7M1172 2396q-1 4 -4 5M1137 2421q-6 -5 -5 -12M1137 2421q3 -2 6 -0M1144 2421q-3 -8 3 -14M1132 2409q3 -3 7 -4M1139 2405q4 -1 7 2M1137 2422q0 -0 0 -1M1122 2408q5 3 10 1M1147 2407q-1 -0 -1 -0M1140 2396q-0 5 -1 9M882 2315q-1 -1 -1 -2M881 2313q-8 2 -12 9M967 2239q-3 -7 -11 -7M967 2239q1 -6 -0 -12M969 2242q-0 -2 -2 -3M978 2227q1 1 1 2M978 2229q-1 4 -1 9M971 2397q5 2 10 3M963 2396q0 0 1 1M971 2397q-3 -2 -7 -1M1021 2397q1 -3 4 -5M1029 2397q-1 -4 -4 -5M1017 2399q2 -1 4 -2M1038 2398q-5 3 -9 -1M884 2389q4 4 8 8M884 2389q-0 -3 2 -5M885 2384q2 -2 5 -2M890 2382q7 4 11 10M902 2393q-0 -0 -0 -1M894 2374q-2 4 -4 8M904 2369q-0 11 -3 23M903 2393q-0 -0 -1 -1M995 2134q1 -3 1 -6M988 2132q3 -5 9 -4M1010 2122q4 4 2 9M1012 2131q-8 -1 -14 -5M1004 2140q-0 0 -0 0M997 2128q1 -1 1 -3M1012 2131q-0 2 1 3M1014 2133q-1 2 -1 4M1012 2138q1 0 1 -0M1014 2133q6 -3 11 -7M1001 2161q-1 -6 -5 -11M1001 2161q-3 2 -5 6M996 2167q-3 2 -7 2M984 2152q7 2 13 -2M984 2152q5 7 0 14M984 2166q2 2 5 2M1013 2138q0 0 0 1M1018 2162q-9 4 -17 -1M1018 2162q-3 -5 1 -9M996 2149q-0 0 -0 1M1019 2154q1 -9 -6 -16M1000 2179q-5 -5 -3 -12M985 2178q-1 -6 4 -9M979 2166q-0 0 -1 1M979 2166q3 1 5 0M1085 2142q-3 3 -8 2M1077 2144q0 -7 2 -13M1084 2156q-5 -2 -7 -7M1077 2150q-2 -2 -0 -5M1077 2144q-1 0 -1 1M1072 2128q-2 1 -4 0M1060 2122q5 1 8 6M1068 2129q0 -0 1 -0M1079 2185q-2 -4 -1 -9M1083 2163q-0 0 -1 0M1079 2176q-1 -4 2 -8M1057 2170q0 -0 0 -1M1057 2170q4 4 6 9M1063 2179q4 -2 6 -6M1068 2166q1 3 2 5M1069 2173q0 -1 1 -2M1040 2174q9 0 17 -4M1046 2157q4 4 9 2M1055 2159q1 2 2 3M1057 2162q-1 3 0 7M1064 2185q0 -3 -1 -7M1079 2176q-4 -2 -9 -3M1080 2168q-5 1 -10 3M964 2132q0 -1 1 -1M965 2130q3 -6 1 -12M875 2231q-1 2 -1 4M875 2231q11 -5 16 -16M874 2234q10 -9 24 -6M891 2215q6 2 8 9M873 2210q8 10 2 21M873 2235q1 -0 1 -1M902 2224q-2 -0 -3 1M897 2234q-1 3 -4 5M893 2250q4 -2 9 0M907 2247q-3 2 -6 3M908 2247q-0 -0 -1 -0M884 2259q3 -6 8 -9M897 2261q5 -4 4 -11M883 2264q-0 0 -0 -0M890 2160q-2 6 -9 7M890 2160q-1 -3 -2 -7M888 2153q-2 -7 -8 -9M874 2169q3 -2 6 -3M874 2169q3 -12 2 -24M880 2144q-2 0 -4 2M894 2162q-2 -1 -5 -3M886 2174q-1 -5 -5 -8M903 2143q-6 8 -15 10M882 2136q1 5 -2 8M881 2133q-9 -3 -19 -2M879 2125q-3 -1 -4 -4M1230 2143q2 -3 5 -4M1230 2143q2 6 8 8M1235 2139q6 2 11 -1M1238 2151q6 -0 11 -5M1246 2138q3 1 3 4M1249 2143q1 1 1 3M1249 2146q-0 -1 0 -1M1234 2127q-0 6 0 12M1228 2143q1 0 3 -0M1237 2160q1 -4 1 -9M1248 2121q2 9 -2 18M1251 2153q-0 -4 -2 -7M999 2256q4 -6 5 -13M1012 2247q-3 -3 -6 -4M1003 2243q1 -1 3 -0M1003 2243q-3 -4 -8 -7M978 2229q9 -0 17 3M996 2236q-1 -2 0 -4M993 2218q-0 7 4 11M997 2229q-0 2 -1 3M1029 2260q-5 -4 -6 -10M1019 2250q1 -0 3 -1M1042 2245q-1 -2 -3 -2M1023 2250q10 1 17 -7M1050 2227q-5 7 -12 11M1039 2242q-2 -2 -2 -4M1208 2215q1 -1 2 -0M1208 2215q1 8 -2 15M1210 2215q2 14 15 21M1206 2230q1 2 0 5M1211 2239q7 -2 14 -3M1207 2214q0 1 1 1M1229 2213q-9 6 -18 2M1228 2236q-1 -0 -3 0M1200 2238q2 -3 6 -3M1133 2154q1 -0 2 -1M1133 2154q6 7 3 15M1135 2154q5 5 7 13M1126 2154q3 -0 7 -0M1126 2154q-5 4 -8 9M1137 2152q-1 1 -2 2M1116 2142q4 4 9 7M1116 2142q4 -2 6 -6M1125 2149q4 -3 4 -9M1122 2136q4 0 6 -2M1128 2134q-2 3 0 6M1104 2143q6 -1 11 -1M1126 2154q-2 -2 -1 -5M1138 2147q-3 -6 -9 -7M1134 2124q-2 5 -6 10M1231 2287q-2 -7 -9 -10M988 2334q5 5 12 4M998 2344q-8 1 -17 3M998 2344q-0 -3 1 -6M982 2339q-3 3 -4 7M990 2327q0 4 -2 7M973 2322q2 10 9 17M1005 2336q-2 2 -6 2M1000 2353q2 -5 -2 -8M996 2355q-8 -4 -15 -8M1157 2380q1 2 2 5M1154 2380q2 5 2 9M1159 2385q-1 3 -4 5M1150 2379q2 1 4 1M1163 2374q-2 4 -6 6M1172 2384q-6 3 -13 1M1155 2391q1 -1 1 -2M1198 2239q-8 6 -10 16M1182 2250q5 1 6 6M1189 2256q-1 3 1 4M1196 2273q-5 1 -7 6M1189 2279q-4 -7 -12 -9M1192 2261q-1 -1 -2 -1M1177 2270q3 -1 5 -4M1181 2266q5 -2 8 -6M1157 2250q4 -3 8 -5M1163 2261q1 -6 7 -7M1164 2245q2 5 8 5M1172 2250q0 3 -2 5M1153 2249q2 -1 4 1M1182 2250q-5 -1 -10 0M881 2312q-2 -0 -3 -2M881 2312q6 -2 8 -8M889 2304q1 -8 -1 -15M893 2303q-2 1 -4 1M896 2280q-7 2 -8 9M882 2264q2 12 -4 23M878 2310q-7 -2 -15 -5M980 2412q-5 -2 -11 -2M969 2410q1 -4 -2 -6M964 2397q4 2 3 7M994 2408q-7 0 -13 3M980 2415q0 -1 -0 -3M1024 2127q0 -0 0 0M1013 2138q9 7 19 1M1025 2127q3 7 7 13M1039 2160q-1 -10 -3 -19M1047 2138q-2 -2 -4 -2M1047 2138q2 2 4 3M1019 2154q4 -10 15 -13M1035 2141q-1 -0 -2 -0M1034 2141q-1 -0 -2 -1M1054 2142q2 5 7 7M1061 2149q1 -0 1 0M1076 2145q-3 -1 -6 -3M1068 2129q-2 2 -2 4M1060 2122q-8 6 -13 15M1055 2159q1 -6 6 -10M1073 2162q-2 -0 -3 0M1070 2162q-1 -2 -3 -4M1066 2158q-1 -3 0 -6M1072 2152q-3 1 -5 1M1068 2166q-0 -2 2 -3M1077 2150q-3 -0 -5 2M1057 2162q4 -3 9 -4M1062 2149q2 2 4 3M962 2166q1 -4 4 -6M968 2149q-1 5 -2 11M979 2166q0 -3 -3 -5M976 2161q-5 -1 -10 -2M993 2146q-8 -2 -12 -8M978 2151q-2 -0 -3 -3M981 2138q0 7 -6 11M968 2149q0 -0 0 -0M976 2149q-4 -1 -7 -0M964 2132q-1 8 4 14M968 2146q-1 2 1 3M981 2134q-2 0 -3 -1M976 2133q1 -0 2 1M965 2130q6 0 11 2M988 2132q-2 0 -4 -1M981 2138q-1 -2 -0 -4M1017 2229q-1 -2 -3 -3M1017 2229q2 -0 4 2M1021 2231q4 1 8 -2M1014 2221q2 -5 7 -7M1014 2221q1 2 1 5M1021 2214q5 1 9 -3M1006 2243q7 -6 11 -14M1022 2249q4 -9 -0 -19M1038 2238q-6 -3 -8 -9M1003 2206q2 9 10 15M1016 2203q-1 7 5 12M1030 2207q1 2 -0 4M1045 2220q-5 9 -15 8M1045 2216q-8 -0 -16 -5M1221 2287q-2 -2 -5 -2M1221 2287q-6 8 -15 9M1216 2284q-6 2 -12 4M1204 2288q-1 2 -1 3M1231 2287q-5 -4 -10 -0M1210 2303q0 -5 -4 -7M1204 2283q-1 2 0 5M1177 2293q2 -11 12 -14M1177 2293q13 2 26 -2M1178 2309q-6 -6 -4 -14M1174 2294q1 -1 3 -1M1126 2260q6 -1 12 2M1143 2281q0 -3 3 -5M1146 2276q-2 -6 -5 -11M1139 2262q0 2 2 3M1153 2249q-1 9 -10 11M1139 2262q2 -0 4 -2M1025 2127q0 -1 1 -1M1152 2276q2 -2 2 -5M1152 2276q5 9 14 15M1173 2273q-6 -3 -10 -8M1163 2264q-2 1 -5 2M1170 2291q-1 -0 -3 0M1168 2292q-1 0 -2 -1M1146 2276q3 -0 6 -0M1145 2292q10 -2 20 -1M1143 2260q6 7 15 6M1174 2294q-1 -2 -4 -3M1155 2308q11 -4 13 -16" stroke="#d2b487" stroke-width="1.0" stroke-opacity="0.3" stroke-linecap="round" fill="none" filter="url(#softb)"/>
<path d="M1036 2263l0.4 -0.4M1058 2322l0.3 -0.0M1133 2259l0.4 -0.3M975 2345l0.5 -0.1M1015 2285l0.4 -0.2M973 2190l0.5 -0.1M1055 2249h.1M1120 2208l0.4 -0.1M1044 2254l0.3 -0.1M1136 2155l0.5 -0.1M894 2396l0.4 -0.3M1070 2333l0.3 -0.2M1192 2398l0.3 -0.1M1069 2192h.1M917 2205l0.4 -0.2M1171 2398l0.4 -0.0M1212 2333l0.5 -0.2M947 2352l0.3 -0.2M909 2318l0.5 -0.2M1126 2337l0.3 -0.3M1149 2242l0.5 -0.0M1064 2401l0.3 -0.3M1206 2254h.1M1232 2402l0.3 -0.1M921 2342l0.5 -0.1M1117 2368l0.5 -0.2M1183 2379l0.4 -0.1M1180 2386l0.3 -0.2M1225 2187h.1M1121 2265l0.4 -0.1M975 2298l0.5 -0.2M1162 2355l0.4 -0.0M1132 2338h.1M1091 2216l0.3 -0.3M1155 2295l0.4 -0.2M1132 2202l0.3 -0.2M936 2333l0.4 -0.3M1051 2292h.1M1135 2366l0.4 -0.1M1066 2316l0.4 -0.1M1159 2213h.1M969 2333h.1M912 2312l0.3 -0.0M999 2287l0.4 -0.2M962 2263l0.3 -0.2M947 2275h.1M1162 2366l0.3 -0.2M925 2267l0.4 -0.2M1153 2304l0.4 -0.3M1116 2319l0.3 -0.2M1050 2325l0.4 -0.2M1128 2258l0.3 -0.2M1194 2303h.1M950 2238l0.4 -0.3M1156 2236l0.5 -0.1M1173 2290l0.3 -0.1M1135 2234l0.4 -0.3M1142 2244h.1M1106 2205l0.3 -0.1M983 2318l0.3 -0.2M1141 2336l0.4 -0.1M1091 2200l0.4 -0.3M1099 2286l0.4 -0.1M992 2279l0.4 -0.1M996 2376l0.2 -0.2M1128 2379l0.4 -0.4M1172 2305l0.4 -0.2M942 2334l0.3 -0.1M1141 2152l0.3 -0.3M1159 2246l0.3 -0.0M994 2165l0.5 -0.2M1032 2329l0.4 -0.3M1052 2270l0.5 -0.1M958 2314l0.5 -0.0M1128 2388l0.3 -0.3M1041 2402l0.4 -0.2M1105 2343l0.4 -0.3M1185 2398h.1M917 2161h.1M962 2233l0.3 -0.3M1021 2239l0.5 -0.2M903 2318l0.3 -0.3M894 2198l0.4 -0.2M1044 2302l0.5 -0.2M992 2161h.1M1095 2217l0.4 -0.2M988 2231h.1M1012 2149l0.4 -0.1M1079 2176l0.3 -0.1M1103 2241l0.5 -0.1M892 2343h.1M910 2204h.1M1214 2388h.1M994 2166h.1M1006 2271l0.4 -0.1M1080 2229l0.3 -0.2M960 2364l0.3 -0.2M1100 2392l0.5 -0.2M1076 2368l0.4 -0.2M1072 2288h.1M1088 2274h.1M915 2194l0.4 -0.0M1197 2373l0.3 -0.1M1195 2316l0.4 -0.1M1150 2154h.1M1128 2281l0.4 -0.3M1000 2175l0.3 -0.3M997 2173l0.4 -0.2M1226 2398l0.4 -0.0M1083 2372l0.4 -0.2M1079 2359l0.4 -0.2M961 2175l0.3 -0.3M1198 2308l0.3 -0.1M1198 2293l0.4 -0.2M1139 2341l0.5 -0.3M955 2241l0.4 -0.1M1206 2350l0.3 -0.1M1022 2249h.1M1023 2335l0.3 -0.1M980 2177l0.4 -0.1M904 2210l0.3 -0.3M1041 2238l0.4 -0.2M954 2363l0.3 -0.2M998 2238l0.4 -0.4M1086 2203l0.3 -0.0M1042 2274l0.4 -0.1M1052 2346l0.5 -0.2M946 2354l0.4 -0.1M1067 2228l0.4 -0.2M1071 2371h.1M1208 2170l0.4 -0.0M1029 2156l0.5 -0.2M1045 2383l0.4 -0.0M942 2183l0.3 -0.2M1179 2181l0.4 -0.4M964 2301l0.4 -0.1M929 2400l0.3 -0.2M1168 2310l0.3 -0.2M921 2333l0.3 -0.2M1134 2152l0.4 -0.2M1102 2198l0.4 -0.1M1121 2268l0.4 -0.1M1041 2189l0.5 -0.1M948 2277h.1M1139 2402l0.5 -0.2M980 2166l0.4 -0.0M1235 2153l0.4 -0.2M962 2218l0.3 -0.2M941 2392l0.3 -0.3M1041 2361l0.4 -0.1M980 2182l0.4 -0.2M903 2345l0.4 -0.1M1032 2227l0.3 -0.2M1235 2367l0.3 -0.2M1149 2221l0.5 -0.3M1072 2167l0.4 -0.1M1206 2145l0.4 -0.2M1036 2293l0.3 -0.2M1053 2267l0.5 -0.1M1136 2227l0.4 -0.4M915 2378l0.4 -0.1M962 2265l0.2 -0.2M990 2390l0.3 -0.1M1113 2397l0.4 -0.1M985 2283l0.5 -0.1M1007 2303l0.3 -0.3M1008 2194l0.4 -0.3M981 2256l0.3 -0.2M1159 2250l0.4 -0.2M1233 2237l0.4 -0.2M1193 2267l0.3 -0.1M1079 2206h.1M1066 2298l0.4 -0.3M1189 2351l0.5 -0.2M1210 2189l0.5 -0.2M1173 2278l0.4 -0.0M1168 2394l0.4 -0.1M1153 2371l0.4 -0.1M1065 2375l0.3 -0.1M1026 2162l0.4 -0.0M1115 2219l0.3 -0.1M1214 2233l0.3 -0.3M983 2172h.1M1033 2247l0.4 -0.1M933 2254l0.4 -0.1M1077 2205l0.4 -0.3M904 2264h.1M1173 2325l0.5 -0.0M904 2181l0.4 -0.1M966 2181l0.3 -0.2M1006 2194l0.3 -0.1M1002 2145l0.5 -0.2M988 2200l0.3 -0.2M1221 2193l0.3 -0.1M981 2272l0.5 -0.1M1100 2235l0.4 -0.1M969 2198l0.3 -0.3M1137 2327l0.3 -0.1M1045 2258l0.3 -0.3M1149 2335h.1M949 2248l0.4 -0.0M1215 2169l0.5 -0.1M929 2148h.1M968 2400l0.4 -0.1M1072 2295l0.4 -0.1M1037 2356l0.3 -0.0M1116 2316l0.3 -0.1M908 2279l0.4 -0.2M1087 2258l0.4 -0.3M1018 2144h.1M1044 2378l0.3 -0.2M1083 2210l0.5 -0.2M1210 2234l0.5 -0.1M903 2148l0.3 -0.1M921 2354l0.3 -0.2M949 2278l0.4 -0.1M1210 2393l0.3 -0.2M924 2355l0.3 -0.3M905 2255l0.3 -0.3M950 2151l0.3 -0.2M977 2327l0.4 -0.2M894 2192l0.4 -0.3M1229 2295l0.4 -0.2M1219 2154l0.4 -0.4M937 2238l0.2 -0.2M1117 2244l0.3 -0.3M1135 2280l0.5 -0.1M1177 2393l0.4 -0.1M1055 2165l0.2 -0.2M901 2185h.1M1225 2316l0.4 -0.3M1139 2284l0.3 -0.4M1127 2373l0.4 -0.3M986 2301l0.4 -0.0M1030 2229l0.5 -0.1M1031 2249l0.5 -0.2M989 2340l0.4 -0.2M1208 2390l0.4 -0.1M919 2195l0.3 -0.3M1210 2253l0.4 -0.1M1119 2389l0.5 -0.2M980 2188l0.5 -0.3M1057 2309h.1M1095 2291l0.5 -0.2M1164 2258h.1M1168 2376l0.5 -0.2M1069 2402l0.3 -0.1M1021 2342l0.3 -0.0M1063 2273h.1M1172 2273l0.4 -0.2M1062 2232l0.5 -0.2M1027 2264h.1M1098 2157l0.4 -0.1M916 2389l0.5 -0.1M1031 2375l0.4 -0.3M917 2376l0.5 -0.1M1018 2365l0.2 -0.2M1093 2375l0.3 -0.3M1067 2231l0.3 -0.2M1125 2389h.1M925 2320l0.3 -0.0M952 2285l0.3 -0.0M1045 2247l0.5 -0.0M1125 2292l0.3 -0.0M966 2266l0.3 -0.2M921 2243l0.3 -0.2M984 2309l0.5 -0.1M999 2267l0.4 -0.4M1132 2177l0.3 -0.3M1113 2383h.1M1132 2172l0.3 -0.4M1109 2149l0.4 -0.1M897 2300l0.3 -0.2M1055 2168l0.3 -0.0M1125 2272l0.5 -0.2M1236 2302l0.4 -0.1M1208 2287l0.4 -0.4M1073 2393l0.3 -0.3M951 2329h.1M1214 2335l0.3 -0.1M1103 2370l0.4 -0.2M1151 2395l0.4 -0.4M1007 2301l0.3 -0.2M1133 2331l0.4 -0.1M957 2239l0.4 -0.2M997 2196l0.3 -0.0M966 2161h.1M1127 2373l0.4 -0.2M901 2286l0.3 -0.3M1114 2365h.1M930 2298l0.5 -0.1M1126 2141l0.5 -0.1M952 2287l0.5 -0.1M1056 2350l0.4 -0.2M1116 2351l0.4 -0.3M1035 2180l0.5 -0.1M949 2385l0.3 -0.2M1057 2223h.1M903 2159l0.4 -0.3M1222 2162l0.3 -0.0M1017 2267l0.3 -0.2M948 2296l0.4 -0.3M1057 2368h.1M992 2216h.1M1232 2150l0.5 -0.2M933 2178l0.5 -0.1M1062 2164l0.3 -0.2M958 2142l0.5 -0.1M1235 2397l0.4 -0.1M1035 2383l0.3 -0.2M1086 2331l0.4 -0.4M956 2344h.1M1074 2301l0.4 -0.4M985 2263l0.4 -0.1M1136 2216l0.5 -0.3M1212 2333l0.6 -0.1M1235 2257l0.3 -0.2M914 2349l0.5 -0.1M1021 2316l0.3 -0.3M1007 2182l0.4 -0.1M1080 2321h.1M904 2391h.1M917 2249h.1M906 2182h.1M934 2200l0.3 -0.3M1189 2144l0.3 -0.2M978 2203l0.5 -0.0M1031 2175l0.4 -0.1M968 2310l0.5 -0.0M1010 2240l0.3 -0.2M975 2302l0.4 -0.2M931 2401l0.4 -0.0M921 2279h.1M1185 2402l0.4 -0.3M1131 2222l0.3 -0.2M1079 2368h.1M1213 2393h.1M963 2350l0.5 -0.3M1032 2300h.1M1162 2194l0.4 -0.1M1038 2312h.1M966 2382l0.5 -0.2M992 2141l0.4 -0.3M1156 2337h.1M955 2387l0.3 -0.3M1100 2195l0.3 -0.3M1120 2316h.1M895 2250l0.2 -0.2M1077 2382l0.5 -0.3M1191 2246l0.4 -0.1M1137 2349h.1M980 2289l0.3 -0.2M988 2181h.1M1130 2159l0.2 -0.2M1005 2305l0.5 -0.2M959 2197h.1M1040 2235l0.4 -0.2M1117 2361h.1M1169 2308l0.4 -0.2M947 2231l0.5 -0.2M974 2333l0.5 -0.2M1159 2220h.1M1125 2238l0.2 -0.2M993 2292l0.3 -0.1M1150 2199l0.3 -0.2M1215 2318l0.5 -0.3M901 2285l0.4 -0.0M1085 2163l0.4 -0.3M950 2357l0.4 -0.0M978 2322h.1M993 2172l0.4 -0.3M953 2206l0.4 -0.2M1209 2380h.1M907 2147l0.4 -0.1M1118 2282l0.3 -0.2M977 2190l0.4 -0.3M936 2329l0.4 -0.3M1216 2237l0.3 -0.0M1057 2371l0.3 -0.2M1075 2401l0.5 -0.0M1107 2294l0.4 -0.2M950 2239l0.5 -0.1M1172 2253l0.5 -0.1M1190 2146h.1M1122 2199l0.3 -0.3M1007 2302l0.3 -0.2M1051 2369l0.5 -0.0M1132 2186l0.3 -0.1M970 2377l0.4 -0.2M1029 2365h.1M1173 2166h.1M1076 2157l0.4 -0.1M1180 2181l0.4 -0.1M1165 2238l0.5 -0.1M971 2402h.1M945 2237l0.4 -0.2M1058 2144l0.4 -0.0M959 2359h.1M1229 2238l0.4 -0.2M1062 2249l0.3 -0.1M949 2388l0.4 -0.0M1082 2194l0.4 -0.3M1221 2222h.1M1060 2296l0.3 -0.2M1067 2238l0.5 -0.1M939 2387h.1M1147 2145l0.5 -0.0M1214 2276l0.5 -0.1M1034 2307l0.5 -0.1M1170 2140l0.3 -0.3M974 2389l0.4 -0.3M1116 2168h.1M953 2288l0.3 -0.3M1008 2343l0.4 -0.3M1030 2213l0.5 -0.0M1094 2238h.1M996 2217l0.5 -0.2M917 2265l0.3 -0.2M1094 2211l0.4 -0.3M983 2389h.1M1112 2342l0.5 -0.1M1146 2339l0.4 -0.2M1109 2228l0.5 -0.1M901 2296l0.3 -0.3M900 2317l0.3 -0.3M1053 2220l0.5 -0.0M945 2297l0.5 -0.1M1192 2309h.1M1029 2357l0.5 -0.0M1019 2203l0.4 -0.2M1100 2201l0.5 -0.1M1009 2336l0.4 -0.4M1022 2191h.1M938 2330l0.3 -0.1M1039 2321l0.5 -0.0M1152 2248l0.3 -0.2M1141 2146h.1M1041 2322l0.3 -0.1M1090 2353l0.6 -0.0M1226 2289h.1M929 2357l0.3 -0.2M1059 2187h.1M904 2282l0.3 -0.1M931 2258l0.3 -0.1M989 2361h.1M970 2292l0.4 -0.3M1018 2237h.1M1208 2305l0.4 -0.1M1038 2377l0.3 -0.3M1041 2283l0.4 -0.2M1033 2186l0.4 -0.4M978 2212l0.3 -0.1M991 2339l0.5 -0.1M891 2166l0.3 -0.2M1132 2257l0.2 -0.2M1208 2402l0.5 -0.3M1045 2348l0.3 -0.1M900 2329l0.3 -0.3M938 2207l0.5 -0.2M987 2211l0.4 -0.4M1028 2232l0.2 -0.2M1041 2368h.1M1051 2157l0.4 -0.1M1135 2339l0.3 -0.1M972 2251h.1M1083 2347l0.4 -0.3M1048 2264h.1M1025 2313l0.3 -0.2M1218 2346l0.3 -0.2M1093 2155l0.5 -0.2M1147 2339l0.4 -0.2M924 2211h.1M1118 2350h.1M977 2331l0.5 -0.1M1238 2305l0.3 -0.0M1169 2336l0.3 -0.2M1083 2280l0.5 -0.2M1141 2290l0.5 -0.2M891 2146l0.3 -0.2M1134 2200l0.4 -0.2M1217 2232l0.4 -0.2M1032 2276l0.4 -0.1M1199 2295h.1M976 2292l0.3 -0.2M1209 2186l0.3 -0.2M911 2291l0.3 -0.1M951 2205h.1M911 2328h.1M1044 2385l0.3 -0.2M1006 2319l0.4 -0.2M973 2193l0.4 -0.3M1140 2380l0.3 -0.3M1060 2239l0.4 -0.1M1110 2285l0.3 -0.2M1004 2297h.1M1191 2267l0.5 -0.2M1170 2287l0.3 -0.0M1039 2236l0.4 -0.0M1158 2290h.1M1052 2293l0.4 -0.4M1024 2317h.1M1193 2228l0.5 -0.2M1103 2197l0.4 -0.0M1173 2271l0.3 -0.2M1153 2288l0.3 -0.1M1026 2168l0.5 -0.0M1076 2154l0.3 -0.2M1182 2265l0.4 -0.1M1015 2362l0.4 -0.2M993 2159l0.3 -0.2M1163 2360l0.3 -0.1M1124 2179l0.5 -0.2M949 2142l0.3 -0.2M893 2217l0.3 -0.0M1210 2221l0.5 -0.0M959 2251l0.4 -0.2M976 2378l0.4 -0.3M1154 2299l0.5 -0.1M1085 2194l0.3 -0.2M1105 2329l0.3 -0.0M1139 2257l0.4 -0.3M894 2144h.1M979 2146l0.5 -0.1M1206 2330l0.2 -0.2M938 2170l0.5 -0.1M1153 2283l0.4 -0.2M1030 2387l0.5 -0.1M1229 2217l0.3 -0.2M972 2331l0.4 -0.2M1218 2401l0.3 -0.1M1217 2232l0.3 -0.2M930 2294l0.3 -0.2M1123 2289l0.3 -0.0M958 2394l0.3 -0.2M1175 2246h.1M1006 2253l0.4 -0.0M997 2347h.1M1041 2224l0.5 -0.2M1227 2310h.1M1142 2380l0.4 -0.1M1100 2397h.1M922 2249h.1M1233 2262l0.3 -0.3M912 2376l0.5 -0.0M969 2330l0.4 -0.2M1146 2377l0.5 -0.1M1021 2331l0.3 -0.2M947 2220h.1M1103 2371l0.3 -0.3M895 2249l0.5 -0.1M1198 2388l0.5 -0.1M903 2393l0.4 -0.3M977 2274h.1M916 2197l0.3 -0.2M1234 2147l0.4 -0.1M1083 2196l0.4 -0.2M934 2230h.1M1191 2213h.1M1153 2388l0.4 -0.4M1182 2232l0.4 -0.2M904 2191l0.3 -0.3M1080 2248l0.4 -0.3M1231 2171l0.4 -0.1M979 2195l0.4 -0.4M1190 2219l0.4 -0.4M1126 2368l0.5 -0.3M970 2378l0.4 -0.0M967 2208h.1M1198 2375l0.5 -0.1M1139 2235l0.4 -0.1M1084 2239l0.4 -0.1M940 2282l0.3 -0.3M1117 2171l0.3 -0.2M1147 2256l0.4 -0.3M1193 2316l0.5 -0.3M1048 2247l0.3 -0.3M1023 2263l0.4 -0.2M1034 2359l0.3 -0.2M1134 2401l0.3 -0.1M1177 2390l0.3 -0.3M1060 2186l0.3 -0.2M1110 2166l0.4 -0.1M1030 2326l0.4 -0.1M954 2348l0.3 -0.2M969 2366l0.5 -0.1M979 2184l0.5 -0.0M1148 2372l0.5 -0.1M1213 2187l0.4 -0.1M1164 2365l0.4 -0.1M1111 2297l0.5 -0.2M947 2367h.1M973 2236h.1M1079 2352l0.5 -0.2M1127 2302l0.2 -0.2M931 2278l0.3 -0.1M923 2332l0.4 -0.3M1157 2290l0.4 -0.2M992 2280l0.4 -0.3M977 2272h.1M1159 2159l0.4 -0.2M898 2395l0.5 -0.1M1065 2289l0.4 -0.1M1215 2229h.1M1207 2317l0.4 -0.0M1219 2312l0.5 -0.0M956 2360l0.3 -0.3M1234 2206l0.4 -0.0M1231 2377l0.3 -0.1M1185 2237l0.4 -0.0M1212 2249l0.3 -0.2M1090 2395h.1M1139 2238l0.3 -0.2M1054 2225l0.5 -0.2M1129 2258h.1M997 2288h.1M1145 2261l0.2 -0.2M1053 2369l0.4 -0.0M954 2194l0.4 -0.3M1161 2232l0.5 -0.1M1187 2352h.1M1143 2298l0.3 -0.1M995 2328l0.3 -0.2M1150 2308h.1M994 2354l0.5 -0.2M905 2301l0.3 -0.1M1092 2227l0.3 -0.1M1018 2155h.1M1027 2320h.1M975 2386l0.3 -0.3M1037 2231h.1M992 2376l0.5 -0.2M1012 2152l0.3 -0.2M1205 2214l0.4 -0.1M1022 2156l0.4 -0.2M933 2186h.1M1159 2346l0.4 -0.4M1060 2250l0.3 -0.0M900 2196l0.4 -0.2M898 2312l0.4 -0.1M1042 2245h.1M1056 2302l0.2 -0.2M1149 2336h.1M982 2312h.1M1026 2342l0.5 -0.1M925 2187l0.5 -0.3M1022 2354l0.2 -0.2M1187 2143l0.4 -0.0M1178 2387l0.3 -0.2M1108 2146h.1M1043 2254h.1M1003 2293l0.5 -0.1M944 2252h.1M1068 2361h.1M1062 2351l0.3 -0.1M927 2335h.1M1195 2190l0.4 -0.1M1008 2177l0.4 -0.0M1119 2326l0.4 -0.3M1120 2333l0.4 -0.1M1169 2274h.1M995 2266l0.5 -0.2M1054 2206h.1M1152 2351l0.3 -0.1M1238 2171l0.5 -0.2M1229 2221l0.3 -0.1M1077 2294l0.3 -0.1M1151 2191h.1M928 2272l0.3 -0.3M1206 2307h.1M1026 2305h.1M930 2377l0.2 -0.2M1150 2304l0.3 -0.3M1084 2393l0.4 -0.2M1223 2182l0.5 -0.1M1180 2199l0.3 -0.0M1070 2394l0.3 -0.3M1152 2222l0.5 -0.0M974 2326l0.4 -0.1M1235 2219h.1M1092 2291l0.5 -0.1M1176 2327l0.3 -0.2M1215 2366l0.3 -0.2M1170 2177l0.5 -0.1M1206 2361l0.3 -0.3M985 2181l0.3 -0.3M986 2203l0.4 -0.1M1190 2352l0.3 -0.1M1208 2160l0.5 -0.2M1169 2288h.1M942 2176l0.4 -0.1M1002 2212h.1M1169 2150h.1M1191 2187h.1M1111 2241l0.5 -0.0M1095 2216l0.2 -0.2M908 2207l0.3 -0.2M949 2317h.1M942 2152l0.4 -0.4M1015 2323l0.4 -0.0M1155 2361l0.3 -0.2M1089 2326l0.3 -0.2M954 2168l0.3 -0.2M911 2202h.1M1114 2299h.1M1153 2316l0.4 -0.3M1068 2298h.1M1166 2172l0.4 -0.2M929 2398l0.5 -0.2M1024 2252l0.3 -0.3M1157 2347h.1M1224 2192l0.5 -0.3M1134 2244l0.4 -0.3M953 2327l0.6 -0.1M1179 2257l0.4 -0.0M1028 2243l0.4 -0.2M1179 2343l0.3 -0.2M1195 2230l0.3 -0.2M1018 2207l0.4 -0.4M1221 2206l0.4 -0.3M946 2177l0.5 -0.2M899 2239l0.4 -0.2M1198 2395l0.3 -0.2M1190 2208l0.4 -0.1M1234 2148l0.3 -0.2M1057 2145l0.3 -0.2M1059 2182l0.4 -0.2M1140 2210l0.3 -0.1M1039 2305l0.5 -0.3M894 2277l0.3 -0.0M1127 2332l0.2 -0.2M945 2189l0.5 -0.2M1046 2165l0.4 -0.1M1026 2369h.1M1125 2194l0.4 -0.3M1046 2297l0.3 -0.1M907 2295h.1M993 2184l0.4 -0.1M1215 2272l0.5 -0.0M1037 2261l0.3 -0.0M1156 2312l0.4 -0.1M1067 2167l0.3 -0.3M935 2344l0.4 -0.3M929 2364l0.3 -0.2M1101 2183l0.3 -0.2M908 2211l0.4 -0.0M1035 2175l0.5 -0.2M1197 2210l0.5 -0.1M1138 2279l0.4 -0.0M1015 2262l0.3 -0.1M953 2282l0.5 -0.0M1156 2222l0.4 -0.1M1074 2258l0.4 -0.1M1060 2373l0.5 -0.2M1051 2374l0.5 -0.1M1018 2290h.1M1082 2279l0.3 -0.2M1193 2374l0.5 -0.1M1190 2247l0.4 -0.3M1073 2150l0.3 -0.2M1212 2263l0.3 -0.1M921 2338l0.5 -0.1M952 2342h.1M1127 2169l0.2 -0.2M1038 2154l0.5 -0.1M958 2237h.1M902 2319l0.4 -0.1M1114 2164l0.3 -0.3M1073 2390l0.4 -0.3M961 2252l0.3 -0.1M959 2176l0.3 -0.3M1221 2167l0.4 -0.1M1115 2385l0.5 -0.1M1193 2259h.1M1113 2391l0.5 -0.1M1156 2335l0.4 -0.2M1089 2273l0.3 -0.2M990 2186l0.4 -0.1M1074 2345l0.4 -0.1M947 2285l0.4 -0.0M1126 2155l0.3 -0.3M1115 2222l0.5 -0.0M976 2382l0.5 -0.1M1226 2177l0.5 -0.1M1016 2176l0.4 -0.2M1088 2242h.1M1101 2152l0.4 -0.3M893 2145l0.2 -0.2M1197 2181h.1M1198 2380l0.3 -0.3M1182 2219h.1M957 2378h.1M1214 2327l0.5 -0.1M1189 2149l0.5 -0.1M1100 2385h.1M1146 2390l0.5 -0.1M1108 2234l0.5 -0.3M1239 2189h.1M1214 2156h.1M1197 2360h.1M1193 2219l0.4 -0.2M1236 2397l0.5 -0.1M1009 2390l0.3 -0.0M1106 2171l0.4 -0.3M1166 2319l0.4 -0.0M993 2301l0.4 -0.4M1027 2185l0.3 -0.1M1067 2263l0.5 -0.3M934 2155l0.4 -0.2M1082 2185l0.3 -0.3M1155 2253l0.5 -0.2M1237 2192l0.3 -0.1M1084 2379l0.5 -0.1M1181 2353l0.4 -0.1M1151 2144l0.4 -0.4M1028 2255l0.3 -0.3M1095 2252l0.3 -0.2M981 2338l0.4 -0.2M1190 2354l0.4 -0.4M1209 2284l0.3 -0.3M1109 2338h.1M989 2200l0.3 -0.4M1086 2365l0.5 -0.2M1222 2286l0.3 -0.2M1230 2322l0.4 -0.2M971 2329l0.4 -0.3M1040 2388l0.3 -0.2M1125 2340l0.5 -0.1M1178 2287l0.3 -0.3M1098 2188l0.5 -0.2M907 2176l0.3 -0.2M940 2275l0.3 -0.0M1191 2400l0.4 -0.2M1164 2259l0.5 -0.1M965 2250l0.4 -0.1M1028 2312l0.5 -0.1M990 2230l0.5 -0.0M1237 2359l0.3 -0.1M1126 2186l0.5 -0.0M1001 2235l0.3 -0.3M1039 2182l0.5 -0.1M902 2276l0.5 -0.1M1116 2328h.1M1101 2283l0.3 -0.2M1177 2380l0.5 -0.2M908 2346l0.3 -0.2M1023 2209l0.3 -0.1M1164 2181l0.3 -0.1M1138 2355l0.3 -0.3M1133 2370l0.3 -0.1M1150 2309l0.3 -0.3M1007 2253l0.4 -0.2M1206 2255l0.3 -0.2M1007 2360l0.3 -0.3M1005 2370l0.4 -0.1M1212 2195l0.5 -0.1M1185 2264l0.4 -0.2M926 2198l0.6 -0.0M1183 2186l0.4 -0.2M1074 2290l0.3 -0.2M1224 2402l0.4 -0.1M1131 2273l0.3 -0.3M1168 2158l0.4 -0.3M1133 2296h.1M945 2263l0.5 -0.1M1083 2143l0.3 -0.3M1083 2247l0.5 -0.1M924 2339l0.3 -0.3M1180 2356h.1M1045 2374l0.4 -0.4M1189 2210l0.4 -0.1M959 2282l0.2 -0.2M1097 2337l0.5 -0.1M904 2266l0.4 -0.3M1132 2321l0.4 -0.0M1097 2209h.1M1191 2340l0.3 -0.2M1194 2341l0.3 -0.1M1079 2141l0.3 -0.3M995 2393l0.3 -0.1M1162 2221h.1M1231 2351h.1M1057 2390l0.3 -0.1M919 2201l0.3 -0.2M1061 2188l0.3 -0.2M961 2150l0.4 -0.0M898 2219l0.5 -0.2M1140 2389l0.3 -0.2M1092 2329l0.3 -0.2M1156 2264l0.5 -0.2M1114 2302l0.4 -0.1M1184 2238l0.5 -0.2M1191 2271h.1M969 2297l0.3 -0.2M911 2194l0.5 -0.2M955 2209l0.5 -0.3M1210 2194l0.4 -0.0M1004 2322l0.5 -0.2M934 2281l0.3 -0.1M948 2278l0.3 -0.3M1208 2147l0.4 -0.0M1184 2152l0.3 -0.2M1233 2195l0.4 -0.3M1160 2146l0.3 -0.0M920 2223l0.5 -0.1M1088 2145l0.3 -0.3M920 2211l0.3 -0.2M1222 2258h.1M1042 2220h.1M948 2219l0.3 -0.1M1117 2158h.1M1208 2141l0.4 -0.3M1076 2159l0.4 -0.1M1134 2168l0.4 -0.1M1142 2151l0.5 -0.2M964 2176h.1M1164 2295l0.4 -0.1M1075 2241l0.5 -0.1M1017 2332h.1M939 2245l0.3 -0.2M1113 2245h.1M1118 2177l0.4 -0.2M1225 2365l0.5 -0.3M1218 2391l0.6 -0.1M1079 2399l0.5 -0.2M1162 2335l0.4 -0.4M1124 2337l0.4 -0.2M970 2230h.1M909 2185h.1M1094 2357l0.3 -0.2M1223 2229l0.4 -0.2M1029 2201h.1M1199 2235l0.3 -0.1M1073 2165l0.3 -0.1M1035 2201l0.3 -0.3M1108 2272l0.5 -0.1M1168 2344l0.4 -0.1M965 2330h.1M1115 2356l0.4 -0.2M893 2375l0.2 -0.2M1081 2369l0.4 -0.0M1144 2174l0.5 -0.1M1161 2352l0.3 -0.1M1054 2393l0.2 -0.2M1216 2384l0.4 -0.0M1177 2264l0.4 -0.0M975 2344l0.4 -0.2M1201 2251l0.5 -0.0M1098 2266l0.5 -0.2M1166 2165l0.3 -0.1M1238 2338l0.4 -0.3" stroke="#4a4aa6" stroke-width="4.2" stroke-linecap="round" stroke-opacity="0.85" fill="none" filter="url(#softn)"/>
<g mask="url(#mk20)" opacity="0.95">
<rect x="891.0" y="2140.3" width="348.3" height="262.0" fill="#7c4210"/>
<rect x="891.0" y="2140.3" width="348.3" height="262.0" fill="#000" filter="url(#nz21)"/>
<rect x="891.0" y="2140.3" width="348.3" height="262.0" fill="#000" filter="url(#nz22)"/>
<rect x="891.0" y="2140.3" width="348.3" height="262.0" fill="#000" filter="url(#nz23)"/>
</g>
<g mask="url(#mk24)" opacity="0.85">
<rect x="891.0" y="2140.3" width="348.3" height="262.0" fill="#95561a"/>
<rect x="891.0" y="2140.3" width="348.3" height="262.0" fill="#000" filter="url(#nz25)"/>
<rect x="891.0" y="2140.3" width="348.3" height="262.0" fill="#000" filter="url(#nz26)"/>
<rect x="891.0" y="2140.3" width="348.3" height="262.0" fill="#000" filter="url(#nz27)"/>
</g>
<g mask="url(#mk28)" opacity="0.8">
<rect x="891.0" y="2140.3" width="348.3" height="262.0" fill="#95561a"/>
<rect x="891.0" y="2140.3" width="348.3" height="262.0" fill="#000" filter="url(#nz29)"/>
<rect x="891.0" y="2140.3" width="348.3" height="262.0" fill="#000" filter="url(#nz30)"/>
<rect x="891.0" y="2140.3" width="348.3" height="262.0" fill="#000" filter="url(#nz31)"/>
</g>
<g mask="url(#mk32)" opacity="0.9">
<rect x="891.0" y="2140.3" width="348.3" height="262.0" fill="#88481a"/>
<rect x="891.0" y="2140.3" width="348.3" height="262.0" fill="#000" filter="url(#nz33)"/>
<rect x="891.0" y="2140.3" width="348.3" height="262.0" fill="#000" filter="url(#nz34)"/>
<rect x="891.0" y="2140.3" width="348.3" height="262.0" fill="#000" filter="url(#nz35)"/>
</g>
<g mask="url(#mk36)" opacity="0.7">
<rect x="891.0" y="2140.3" width="348.3" height="262.0" fill="#a0601e"/>
<rect x="891.0" y="2140.3" width="348.3" height="262.0" fill="#000" filter="url(#nz37)"/>
<rect x="891.0" y="2140.3" width="348.3" height="262.0" fill="#000" filter="url(#nz38)"/>
<rect x="891.0" y="2140.3" width="348.3" height="262.0" fill="#000" filter="url(#nz39)"/>
</g>
<g mask="url(#mk40)" opacity="0.7">
<rect x="891.0" y="2140.3" width="348.3" height="262.0" fill="#a0601e"/>
<rect x="891.0" y="2140.3" width="348.3" height="262.0" fill="#000" filter="url(#nz41)"/>
<rect x="891.0" y="2140.3" width="348.3" height="262.0" fill="#000" filter="url(#nz42)"/>
<rect x="891.0" y="2140.3" width="348.3" height="262.0" fill="#000" filter="url(#nz43)"/>
</g>
<g mask="url(#mk44)" opacity="0.7">
<rect x="891.0" y="2140.3" width="348.3" height="262.0" fill="#a0601e"/>
<rect x="891.0" y="2140.3" width="348.3" height="262.0" fill="#000" filter="url(#nz45)"/>
<rect x="891.0" y="2140.3" width="348.3" height="262.0" fill="#000" filter="url(#nz46)"/>
<rect x="891.0" y="2140.3" width="348.3" height="262.0" fill="#000" filter="url(#nz47)"/>
</g>
<g mask="url(#mk48)" opacity="0.6">
<rect x="891.0" y="2140.3" width="348.3" height="262.0" fill="#a0601e"/>
<rect x="891.0" y="2140.3" width="348.3" height="262.0" fill="#000" filter="url(#nz49)"/>
<rect x="891.0" y="2140.3" width="348.3" height="262.0" fill="#000" filter="url(#nz50)"/>
<rect x="891.0" y="2140.3" width="348.3" height="262.0" fill="#000" filter="url(#nz51)"/>
</g>
<g mask="url(#mk52)" opacity="0.8">
<rect x="891.0" y="2140.3" width="348.3" height="262.0" fill="#a0601e"/>
<rect x="891.0" y="2140.3" width="348.3" height="262.0" fill="#000" filter="url(#nz53)"/>
<rect x="891.0" y="2140.3" width="348.3" height="262.0" fill="#000" filter="url(#nz54)"/>
<rect x="891.0" y="2140.3" width="348.3" height="262.0" fill="#000" filter="url(#nz55)"/>
</g>
<path d="M1023.7,2327.1 L1047.2,2329.2 L1049.3,2354.8 L1032.2,2356.9 L1021.6,2344.1Z" fill="#2a1408" opacity="0.85" filter="url(#bl2)"/>
<path d="M1021.6,2258.8 L1030.1,2260.9 L1032.2,2273.7 L1040.8,2284.4 L1051.5,2316.4 L1068.5,2337.7 L1089.9,2354.8 L1098.4,2365.5 L1097.3,2376.1 L1086.7,2377.2 L1068.5,2362.3 L1042.9,2358.0 L1034.4,2348.4 L1023.7,2337.7 L1017.3,2322.8 L1015.2,2297.2 L1017.7,2282.2 L1020.5,2271.6Z" fill="#f5f2ea"/>
<path d="M1235.0,2344.1 L1240.3,2339.9 L1240.3,2356.9 L1235.0,2354.8Z" fill="#f5f2ea"/>
</g>
<rect x="1110" y="2264" width="90.8" height="71.6" fill="none" stroke="#e8141c" stroke-width="3"/>
<line x1="1200.8" y1="2264.0" x2="1249.0" y2="2140.5" stroke="#e8141c" stroke-width="3" stroke-linecap="butt"/>
<line x1="1200.8" y1="2335.6" x2="1249.0" y2="2401.0" stroke="#e8141c" stroke-width="3" stroke-linecap="butt"/>
<g clip-path="url(#clip56)">
<rect x="1248.5" y="2140.3" width="341.5" height="260.4" fill="#b2b6bc"/>
<rect x="1248.5" y="2140.3" width="341.5" height="260.4" fill="#000" filter="url(#nz57)"/>
<rect x="1248.5" y="2140.3" width="341.5" height="260.4" fill="#000" filter="url(#nz58)"/>
<path d="M1240 2169q1 22 -11 41M1239 2228q-7 -8 -10 -17M1239 2228q-21 21 -10 49M1230 2367q9 31 8 62M1230 2367q2 -2 1 -4M1548 2383q-16 -18 -34 -33M1515 2350q43 -27 94 -25M1461 2144q-23 -12 -47 -2M1443 2198q-4 4 -10 3M1433 2201q-25 -24 -19 -59M1406 2132q4 5 8 10M1328 2160q13 -2 25 4M1353 2164q1 -4 4 -7M1357 2148q-1 4 0 9M1385 2206q21 -7 42 -1M1427 2205q2 -3 6 -4M1362 2182q-10 -7 -9 -19M1406 2132q-23 16 -49 24M1259 2142q3 10 -1 20M1287 2169q2 -0 3 -2M1240 2169q11 2 18 -7M1307 2220q-8 1 -14 -5M1293 2214q-4 -22 -6 -45M1263 2229q9 -0 18 -3M1263 2229q-6 26 9 47M1272 2276q8 -20 11 -41M1281 2226q4 4 3 9M1293 2214q-4 9 -12 12M1534 2418q0 -1 1 -1M1534 2417q29 8 59 13M1548 2383q-6 18 -14 34M1491 2416q-15 32 -15 67M1491 2416q-2 -8 -9 -11M1482 2405q-12 -4 -22 5M1460 2410q-15 10 -12 27M1514 2350q0 0 0 0M1514 2350q-12 12 -28 6M1486 2356q-1 1 -2 2M1485 2358q-3 24 -3 47M1609 2325q-2 -0 -3 -2M1526 2316q40 -0 80 8M1486 2356q-6 -27 -18 -51M1525 2311q1 2 1 5M1525 2311q-20 -17 -46 -23M1479 2288q-1 11 -11 17M1454 2358q15 2 30 -0M1454 2358q-14 -17 -30 -32M1425 2327q-4 -7 -7 -16M1468 2305q-27 -12 -51 6M1530 2136q18 -7 31 -21M1459 2163q36 -19 69 5M1530 2136q1 16 -2 32M1443 2198q25 -6 41 14M1505 2204q23 -8 24 -32M1528 2168q-0 2 1 5M1605 2210q7 -25 26 -41M1307 2220q21 21 11 49M1318 2269q18 -5 35 -12M1385 2206q2 31 -22 51M1255 2289q8 7 8 18M1255 2289q7 -8 17 -12M1263 2307q23 18 53 18M1272 2276q19 -2 38 -7M1311 2270q2 2 5 1M1231 2363q5 -2 10 -2M1241 2361q13 -26 22 -54M1272 2276q0 0 -0 0M1284 2235q25 8 27 34M1318 2269q-1 1 -2 2M1326 2339q-9 -5 -10 -14M1326 2339q23 7 40 -10M1366 2329q4 -20 24 -28M1390 2301q1 -31 -27 -44M1290 2382q7 18 -5 32M1241 2361q21 18 48 21M1326 2339q-9 13 -14 29M1393 2411q-36 -3 -63 -27M1454 2358q-2 0 -2 2M1425 2327q-24 24 -18 57M1393 2411q3 -3 4 -7M1397 2405q-2 -7 2 -14M1578 2291q-10 7 -22 4M1526 2309q10 -18 30 -14M1427 2205q-4 21 6 39M1484 2212q-0 19 3 37M1487 2249q-26 -7 -53 -4M1557 2195q19 -24 45 -39M1602 2156q-31 11 -61 24M1529 2172q7 3 13 7M1606 2154q-1 2 -3 2M1452 2407q-19 -6 -40 -3M1452 2407q3 -13 -5 -24M1460 2410q-3 -3 -8 -3M1399 2391q6 -1 7 -7M1486 2268q1 -6 3 -12M1486 2268q20 15 45 11M1489 2256q11 -2 22 -5M1511 2251q14 14 34 8M1545 2259q-9 5 -10 15M1531 2278q2 -2 3 -4M1479 2288q2 -5 -0 -10M1526 2309q12 -14 5 -31M1505 2204q9 7 15 18M1520 2222q-14 12 -9 29M1556 2295q-17 -4 -22 -21M1434 2254q-29 15 -32 47M1467 2273q-23 30 -60 31M1402 2301q3 1 5 3M1434 2245q-3 5 0 9M1390 2301q6 2 12 -0M1527 2227q9 16 23 28M1527 2227q18 -13 38 -24M1577 2237q-5 11 -16 17M1561 2254q-5 1 -11 1M1565 2203q11 6 19 16M1545 2259q3 -2 5 -4M1557 2195q4 4 8 9M1605 2210q-10 6 -21 9M1578 2291q-17 -15 -17 -37" stroke="#e4dccc" stroke-width="1.5" stroke-opacity="0.35" stroke-linecap="round" fill="none" filter="url(#softb)"/>
<path d="M1548 2386l1.2 -0.5M1256 2364l1.6 -0.2M1514 2321l0.8 -0.7M1284 2332l1.1 -0.9M1512 2304l1.0 -0.9M1577 2387l0.9 -0.4M1465 2381l0.7 -0.5M1297 2218l0.9 -0.9M1429 2277l1.7 -0.2M1573 2306l0.9 -0.2M1460 2302l1.0 -0.3M1571 2245l0.9 -0.2M1500 2297l1.5 -1.1M1385 2229l0.9 -0.5M1300 2143l1.8 -0.4M1363 2219l1.0 -0.1M1275 2267l1.7 -0.1M1368 2382l1.5 -1.3M1514 2314l1.1 -1.2M1537 2212l1.0 -0.4M1288 2299l0.9 -0.7M1326 2397l1.1 -0.6M1393 2371l1.7 -0.7M1332 2165l1.4 -0.4M1462 2321l1.0 -0.2M1335 2382l1.7 -0.3M1580 2320l1.2 -0.5M1583 2397l0.8 -0.4M1298 2331l1.6 -0.1M1502 2331l1.6 -1.0M1364 2282l1.7 -0.3M1448 2362l1.8 -0.6M1265 2238l1.2 -0.2M1356 2347l0.8 -0.3M1288 2156l1.3 -0.2M1287 2171l1.2 -1.0M1397 2366l0.7 -0.7M1369 2167l1.6 -0.4M1477 2227l1.0 -0.8M1443 2335l1.1 -0.9M1404 2332l1.2 -0.8M1460 2362l1.1 -0.3M1508 2375l0.9 -0.6M1503 2214l1.5 -0.1M1420 2342l0.8 -0.6M1516 2331l1.0 -0.6M1536 2355l1.4 -0.2M1433 2307l1.0 -0.3M1263 2265l1.2 -0.5M1496 2378l1.3 -0.5M1538 2255l1.0 -0.4M1326 2371l1.3 -0.3M1472 2191l1.3 -0.7M1261 2370l1.5 -1.2M1445 2169l0.6 -0.6M1586 2294l1.2 -1.1M1507 2351l1.2 -1.2M1335 2277l1.1 -0.4M1307 2300l0.8 -0.4M1396 2346l1.9 -0.5M1287 2194l1.3 -0.1M1380 2141l1.5 -0.3M1387 2391l1.1 -0.6M1543 2187l1.6 -0.4M1532 2199l1.2 -1.1M1330 2307l1.1 -0.7M1349 2193l0.8 -0.7M1277 2187l1.3 -1.1M1314 2378l0.8 -0.9M1262 2281l1.5 -0.5M1321 2328l0.9 -0.1M1249 2237l1.9 -0.5M1500 2147l1.7 -0.5M1389 2225l0.7 -0.5M1413 2304l0.8 -0.8M1275 2366l1.5 -0.6M1340 2341l1.2 -0.3M1293 2165l0.9 -0.6M1314 2162l0.8 -0.6M1332 2177l1.6 -0.8M1277 2362l1.6 -0.2M1428 2270l1.4 -0.8M1421 2352l1.4 -1.3M1264 2152l1.3 -0.2M1475 2143l1.4 -0.8M1420 2303l1.7 -0.4M1538 2141l1.3 -1.0M1385 2222l1.5 -0.5M1446 2149l1.6 -0.7M1505 2390l1.8 -0.5M1435 2314l1.0 -0.4M1533 2360l1.0 -0.4M1528 2267l1.2 -0.0M1278 2347l1.2 -0.2M1536 2323l1.5 -0.9M1355 2395l1.2 -0.9M1461 2222l1.1 -0.6M1516 2199l1.5 -0.7M1330 2376l1.0 -0.3M1267 2367l1.3 -0.6" stroke="#4048a2" stroke-width="11.2" stroke-linecap="round" stroke-opacity="0.85" fill="none" filter="url(#softn)"/>
<g mask="url(#mk59)" opacity="0.92">
<rect x="1248.5" y="2140.3" width="341.5" height="260.4" fill="#b2601c"/>
<rect x="1248.5" y="2140.3" width="341.5" height="260.4" fill="#000" filter="url(#nz60)"/>
<rect x="1248.5" y="2140.3" width="341.5" height="260.4" fill="#000" filter="url(#nz61)"/>
<rect x="1248.5" y="2140.3" width="341.5" height="260.4" fill="#000" filter="url(#nz62)"/>
</g>
<g mask="url(#mk63)" opacity="0.85">
<rect x="1248.5" y="2140.3" width="341.5" height="260.4" fill="#b2601c"/>
<rect x="1248.5" y="2140.3" width="341.5" height="260.4" fill="#000" filter="url(#nz64)"/>
<rect x="1248.5" y="2140.3" width="341.5" height="260.4" fill="#000" filter="url(#nz65)"/>
<rect x="1248.5" y="2140.3" width="341.5" height="260.4" fill="#000" filter="url(#nz66)"/>
</g>
<g mask="url(#mk67)" opacity="0.7">
<rect x="1248.5" y="2140.3" width="341.5" height="260.4" fill="#b2601c"/>
<rect x="1248.5" y="2140.3" width="341.5" height="260.4" fill="#000" filter="url(#nz68)"/>
<rect x="1248.5" y="2140.3" width="341.5" height="260.4" fill="#000" filter="url(#nz69)"/>
<rect x="1248.5" y="2140.3" width="341.5" height="260.4" fill="#000" filter="url(#nz70)"/>
</g>
<g fill="#2c2850" opacity="0.8" filter="url(#softb)"><ellipse cx="1389.4" cy="2246.0" rx="8" ry="7"/><ellipse cx="1423.5" cy="2243.8" rx="8" ry="7"/><ellipse cx="1325.4" cy="2284.4" rx="8" ry="7"/><ellipse cx="1406.5" cy="2312.1" rx="8" ry="7"/><ellipse cx="1519.6" cy="2273.7" rx="8" ry="7"/><ellipse cx="1543.0" cy="2292.9" rx="8" ry="7"/><ellipse cx="1521.7" cy="2318.5" rx="8" ry="7"/><ellipse cx="1355.2" cy="2214.0" rx="8" ry="7"/><ellipse cx="1301.9" cy="2246.0" rx="8" ry="7"/><ellipse cx="1453.4" cy="2297.2" rx="8" ry="7"/><ellipse cx="1346.7" cy="2269.4" rx="8" ry="7"/><ellipse cx="1496.1" cy="2359.1" rx="8" ry="7"/></g>
</g>
<text x="1610.0" y="2100.5" font-size="34" text-anchor="start" font-weight="bold" fill="#000">L</text>
<line x1="1702.3" y1="2141.7" x2="1702.3" y2="2435.5" stroke="#000" stroke-width="4" stroke-linecap="butt"/>
<line x1="1693.5" y1="2433.5" x2="1702.3" y2="2433.5" stroke="#000" stroke-width="4" stroke-linecap="butt"/>
<text x="1688.0" y="2442.9" font-size="26" text-anchor="end" font-weight="bold" fill="#000">0</text>
<line x1="1693.5" y1="2336.9" x2="1702.3" y2="2336.9" stroke="#000" stroke-width="4" stroke-linecap="butt"/>
<text x="1688.0" y="2346.3" font-size="26" text-anchor="end" font-weight="bold" fill="#000">1</text>
<line x1="1693.5" y1="2240.3" x2="1702.3" y2="2240.3" stroke="#000" stroke-width="4" stroke-linecap="butt"/>
<text x="1688.0" y="2249.7" font-size="26" text-anchor="end" font-weight="bold" fill="#000">2</text>
<line x1="1693.5" y1="2143.7" x2="1702.3" y2="2143.7" stroke="#000" stroke-width="4" stroke-linecap="butt"/>
<text x="1688.0" y="2153.1" font-size="26" text-anchor="end" font-weight="bold" fill="#000">3</text>
<line x1="1693.5" y1="2433.5" x2="1896.0" y2="2433.5" stroke="#000" stroke-width="4" stroke-linecap="butt"/>
<line x1="1756.6" y1="2433.5" x2="1756.6" y2="2441.5" stroke="#000" stroke-width="4" stroke-linecap="butt"/>
<line x1="1839.5" y1="2433.5" x2="1839.5" y2="2441.5" stroke="#000" stroke-width="4" stroke-linecap="butt"/>
<rect x="1732.5" y="2339.5" width="48.8" height="94.0" fill="#1f9e77" stroke="#000" stroke-width="4"/>
<rect x="1816.0" y="2223.6" width="48.0" height="209.9" fill="#7570b3" stroke="#000" stroke-width="4"/>
<line x1="1757.0" y1="2316.6" x2="1757.0" y2="2358.4" stroke="#000" stroke-width="3" stroke-linecap="butt"/>
<line x1="1745.0" y1="2316.6" x2="1769.0" y2="2316.6" stroke="#000" stroke-width="3" stroke-linecap="butt"/>
<line x1="1745.0" y1="2358.4" x2="1769.0" y2="2358.4" stroke="#000" stroke-width="3" stroke-linecap="butt"/>
<line x1="1839.5" y1="2161.7" x2="1839.5" y2="2279.7" stroke="#000" stroke-width="3" stroke-linecap="butt"/>
<line x1="1826.5" y1="2161.7" x2="1852.5" y2="2161.7" stroke="#000" stroke-width="3" stroke-linecap="butt"/>
<line x1="1826.5" y1="2279.7" x2="1852.5" y2="2279.7" stroke="#000" stroke-width="3" stroke-linecap="butt"/>
<circle cx="1748.2" cy="2315.0" r="5.3" fill="#fff" stroke="#000" stroke-width="2.8"/>
<circle cx="1766.4" cy="2307.8" r="5.3" fill="#fff" stroke="#000" stroke-width="2.8"/>
<circle cx="1757.0" cy="2337.5" r="5.3" fill="#fff" stroke="#000" stroke-width="2.8"/>
<circle cx="1738.2" cy="2358.4" r="5.3" fill="#fff" stroke="#000" stroke-width="2.8"/>
<circle cx="1757.0" cy="2358.4" r="5.3" fill="#fff" stroke="#000" stroke-width="2.8"/>
<circle cx="1775.4" cy="2362.6" r="5.3" fill="#fff" stroke="#000" stroke-width="2.8"/>
<circle cx="1839.5" cy="2167.3" r="5.3" fill="#fff" stroke="#000" stroke-width="2.8"/>
<circle cx="1839.5" cy="2187.2" r="5.3" fill="#fff" stroke="#000" stroke-width="2.8"/>
<circle cx="1839.5" cy="2228.0" r="5.3" fill="#fff" stroke="#000" stroke-width="2.8"/>
<circle cx="1839.5" cy="2301.0" r="5.3" fill="#fff" stroke="#000" stroke-width="2.8"/>
<line x1="1760.3" y1="2152.7" x2="1838.6" y2="2152.7" stroke="#000" stroke-width="5" stroke-linecap="butt"/>
<text x="1794.9" y="2145.2" font-size="31" text-anchor="middle" font-weight="bold" fill="#000">*</text>
<text x="1810.1" y="2145.2" font-size="31" text-anchor="middle" font-weight="bold" fill="#000">*</text>
<text x="1750.3" y="2469.0" font-size="26" text-anchor="middle" font-weight="bold" fill="#000">Olive oil</text>
<text x="1840.0" y="2469.0" font-size="26" text-anchor="middle" font-weight="bold" fill="#000">CCl<tspan font-size="17" dy="6">4</tspan></text>
<text x="1662" y="2286" font-size="26" text-anchor="middle" font-weight="bold" transform="rotate(-90 1662 2286)"><tspan font-style="italic">PP2Acα</tspan> mRNA fold change</text>
</svg></body></html>
